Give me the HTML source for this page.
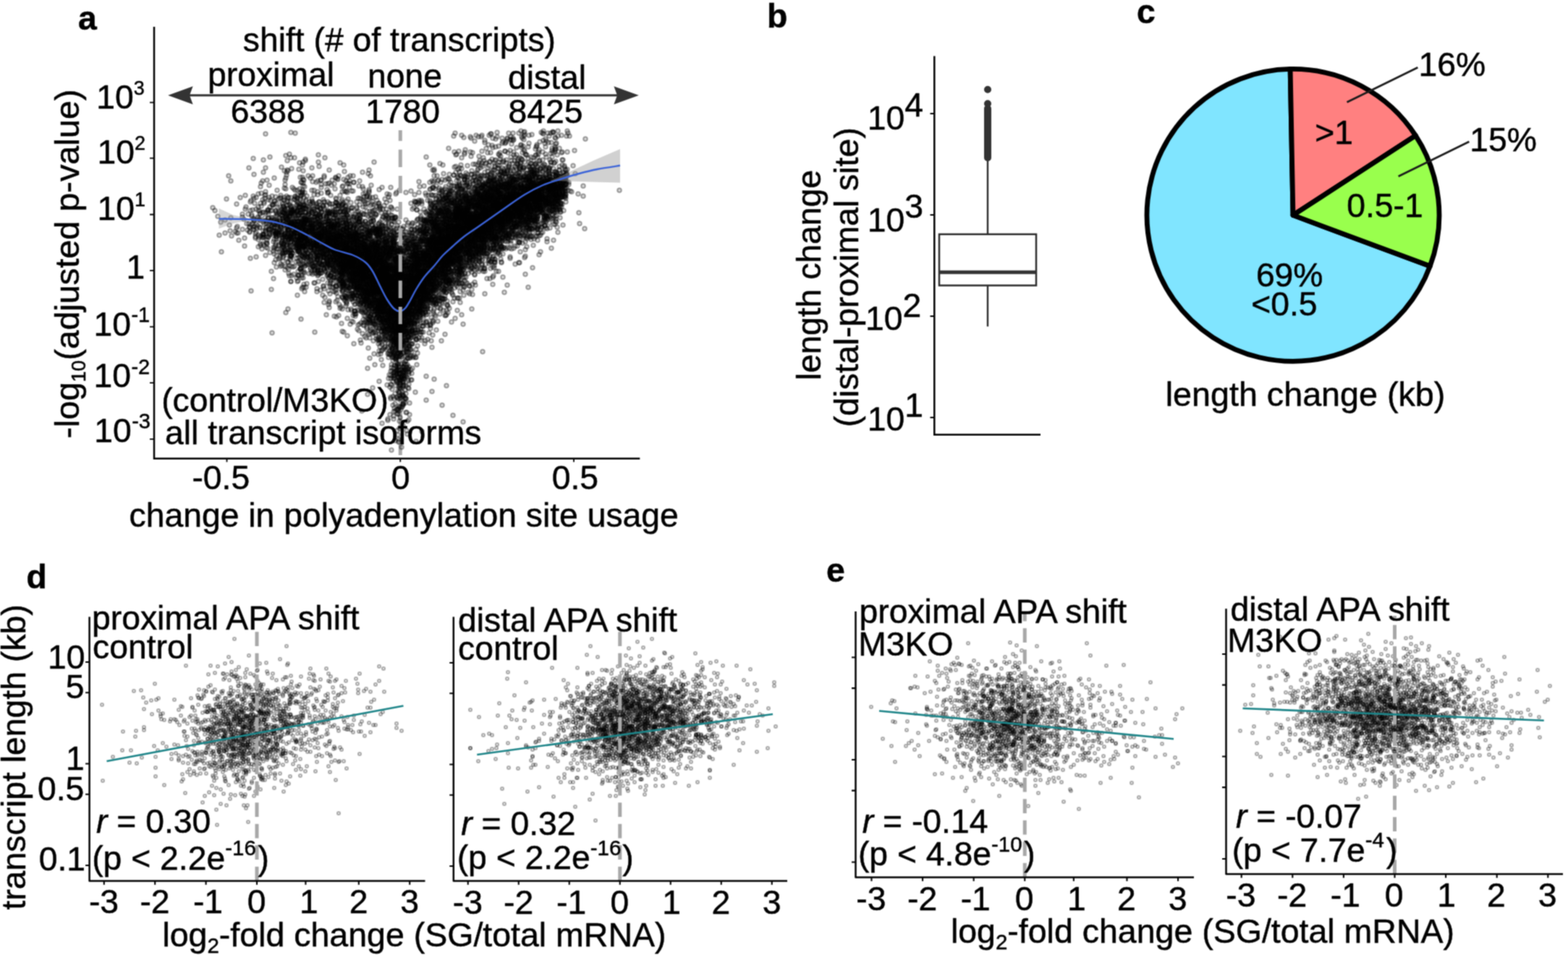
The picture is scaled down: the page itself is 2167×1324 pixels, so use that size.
<!DOCTYPE html>
<html lang="en"><head><meta charset="utf-8"><title>Figure</title>
<style>html,body{margin:0;padding:0;background:#fff}svg{display:block}text{font-family:"Liberation Sans",Arial,sans-serif;fill:#000;stroke:#000;stroke-width:.5px;stroke-linejoin:round}path{fill:none}</style>
</head><body>
<svg width="2167" height="1324" viewBox="0 0 2167 1324">
<rect width="2167" height="1324" fill="#fff"/>
<filter id="soft" x="0" y="0" width="2167" height="1324" filterUnits="userSpaceOnUse" color-interpolation-filters="sRGB"><feConvolveMatrix order="3" kernelMatrix="1 2 1 2 6 2 1 2 1" divisor="18" edgeMode="duplicate" preserveAlpha="false"/></filter>
<g filter="url(#soft)">
<defs>
<marker id="pa" markerUnits="userSpaceOnUse" markerWidth="10" markerHeight="10" refX="5" refY="5"><circle cx="5" cy="5" r="2.75" fill="#000" fill-opacity=".14" stroke="#000" stroke-opacity=".36" stroke-width="2"/></marker>
<marker id="pd" markerUnits="userSpaceOnUse" markerWidth="10" markerHeight="10" refX="5" refY="5"><circle cx="5" cy="5" r="2.1" fill="#000" fill-opacity=".1" stroke="#000" stroke-opacity=".3" stroke-width="1.9"/></marker>
</defs>
<path d="M294 287l3 4 4 8 2 26 2-18 1 41 5-44 0 18 2-47 3-32 1 68 1 8 1-69 0 51 1 25 5-6 2-38 0 33 0 7 1-9 1 9 1 10 2-59 3 23 0 4 0 17 2-14 1 26 0 11 1-70 0 19 1-3 1 23 1 9 1-22 1-64 0 77 1 5 0 0 0 6 0 1 1-42 0 12 0 66 1-80 0 34 0 91 1-105 0 2 1-9 0 19 1-90 0 52 0 31 0 12 0 3 1-76 0 33 0 29 0 2 0 0 0 12 1-36 0 32 1 10 0 4 0 2 1-56 0 16 0 21 0 11 0 34 1-40 1-15 0 12 1-44 0 18 0 5 0 10 0 24 0 6 0 10 1-37 0 24 1-36 0 3 0 7 0 12 0 1 1-57 0 23 0 14 0 10 0 21 0 11 0 2 1-86 0 14 0 18 1 59 1-94 0 26 0 18 0 30 0 3 0 2 0 8 1-116 0 17 0 55 0 14 0 12 0 5 0 0 0 1 0 3 1-49 0 2 0 29 0 17 0 12 1-69 0 4 0 27 0 4 1-120 0 47 0 33 0 4 0 25 0 23 0 2 0 1 0 33 1-48 0 4 0 5 0 21 0 7 1-93 0 78 0 5 0 4 0 1 1-47 0 1 0 2 0 50 1-67 0 14 0 6 0 5 0 1 0 9 0 6 0 10 0 1 1-72 0 17 0 36 0 8 0 0 0 2 0 3 0 3 1-108 0 69 0 19 0 19 0 25 1-72 0 14 0 15 0 5 0 6 1-16 0 3 0 71 0 25 1-129 0 12 0 8 0 13 0 8 0 1 0 147 1-177 0 1 0 17 0 21 1-14 0 2 0 5 0 4 0 1 0 5 0 9 0 8 0 5 0 38 1-139 0 32 0 4 0 22 0 10 0 5 0 12 0 13 0 7 0 12 1-85 0 32 0 5 0 26 1-69 0 19 0 1 0 7 0 5 0 3 0 13 0 2 0 1 0 1 0 1 0 10 0 3 0 21 1-78 0 13 0 12 0 1 0 3 0 11 0 6 0 0 0 3 0 14 0 9 0 16 1-106 0 33 0 2 0 7 0 1 0 8 0 6 0 2 0 2 1-37 0 22 0 2 0 11 0 22 1-69 0 18 0 30 0 2 0 15 0 18 1-63 0 11 0 6 0 5 0 2 0 2 0 9 0 8 0 10 1-74 0 12 0 15 0 3 0 51 0 2 1-87 0 3 0 19 0 5 0 11 0 3 0 2 0 1 0 1 0 3 0 31 0 16 0 3 1-137 0 90 0 0 0 4 0 3 0 7 0 1 0 0 1-56 0 9 0 4 0 5 0 0 0 4 0 22 0 9 0 9 0 1 0 7 0 17 1-85 0 4 0 8 0 8 0 3 0 3 0 20 0 1 0 8 0 3 0 9 0 2 0 4 0 6 1-85 0 9 0 6 0 2 0 12 0 1 0 20 0 10 0 2 0 4 0 0 0 11 1-117 0 24 0 13 0 4 0 10 0 2 0 6 0 0 0 16 0 0 0 13 0 0 0 20 0 6 1-101 0 6 0 34 0 10 0 16 0 2 0 6 0 4 0 0 0 3 0 2 0 3 0 10 0 1 0 3 0 19 0 5 1-158 0 31 0 15 0 30 0 5 0 5 0 1 0 6 0 14 0 11 0 15 0 84 1-194 0 4 0 29 0 13 0 11 0 2 0 2 0 4 0 11 0 14 0 10 0 11 0 8 1-135 0 13 0 43 0 6 0 4 0 14 0 2 0 5 0 2 0 11 0 3 0 3 0 7 0 3 0 2 0 30 1-134 0 37 0 6 0 15 0 2 0 5 0 1 0 7 0 5 0 3 0 0 0 1 0 1 0 4 0 4 0 20 0 15 0 1 0 64 1-154 0 21 0 10 0 3 0 0 0 11 0 2 0 5 0 6 0 0 0 18 0 23 0 6 1-165 0 70 0 16 0 0 0 12 0 6 0 11 0 11 0 2 0 5 0 21 0 14 1-102 0 16 0 4 0 2 0 7 0 1 0 2 0 1 0 15 0 0 0 2 0 1 0 5 0 10 0 1 0 3 0 5 0 4 1-175 0 35 0 55 0 12 0 1 0 2 0 2 0 1 0 2 0 1 0 14 0 3 0 0 0 2 0 13 0 3 0 2 0 3 0 5 0 2 0 6 0 5 0 1 0 0 0 1 0 6 0 29 0 0 1-156 0 61 0 1 0 11 0 1 0 1 0 14 0 1 0 2 0 5 0 3 0 13 0 7 0 2 0 13 0 13 1-122 0 26 0 5 0 1 0 1 0 1 0 5 0 10 0 1 0 10 0 4 0 5 0 22 0 0 1-58 0 3 0 10 0 5 0 2 0 1 0 4 0 1 0 6 0 45 1-108 0 36 0 9 0 7 0 1 0 0 0 6 0 4 0 0 0 55 1-161 0 57 0 1 0 12 0 2 0 6 0 7 0 3 0 1 0 2 0 2 0 10 0 1 0 0 0 5 0 4 0 4 0 0 0 2 0 4 0 5 0 22 1-184 0 79 0 8 0 1 0 18 0 9 0 9 0 2 0 4 0 7 0 10 1-54 0 25 0 9 0 4 0 2 0 5 0 8 0 2 0 1 0 5 0 1 0 2 0 2 0 19 1-89 0 10 0 9 0 1 0 9 0 8 0 1 0 4 0 3 0 4 0 6 0 9 0 7 0 13 0 27 1-121 0 7 0 4 0 5 0 5 0 7 0 0 0 1 0 2 0 12 0 4 0 0 0 5 0 7 0 4 0 1 0 1 0 3 0 5 0 3 0 1 0 3 0 9 0 37 0 19 1-127 0 16 0 1 0 4 0 4 0 1 0 10 0 1 0 15 0 6 0 5 0 3 0 0 0 0 0 14 0 14 0 5 0 1 0 7 1-154 0 51 0 1 0 9 0 14 0 3 0 5 0 4 0 11 0 1 0 2 0 3 0 3 0 4 0 1 0 10 0 8 0 17 1-156 0 36 0 21 0 4 0 1 0 10 0 8 0 2 0 7 0 0 0 6 0 8 0 1 0 1 0 3 0 5 0 3 0 0 0 5 0 2 0 1 1-104 0 21 0 8 0 2 0 10 0 8 0 8 0 10 0 10 0 1 0 2 0 0 0 5 0 1 0 1 0 0 0 5 0 3 0 12 0 6 0 7 0 6 0 1 0 0 1-120 0 18 0 1 0 12 0 7 0 1 0 3 0 13 0 2 0 5 0 1 0 10 0 2 0 1 0 4 0 0 0 5 0 2 0 3 0 17 0 7 0 5 0 70 1-189 0 15 0 31 0 7 0 2 0 0 0 7 0 1 0 7 0 3 0 5 0 1 0 0 0 8 0 4 0 10 0 17 0 5 0 6 0 3 0 15 1-171 0 17 0 18 0 2 0 1 0 3 0 11 0 7 0 3 0 3 0 5 0 6 0 8 0 3 0 1 0 10 0 3 0 3 0 5 0 2 0 1 0 1 0 2 0 7 0 3 0 1 0 11 0 32 1-173 0 12 0 12 0 5 0 4 0 25 0 1 0 6 0 8 0 8 0 2 0 2 0 1 0 1 0 3 0 5 0 4 0 4 0 1 0 8 0 4 0 0 0 0 0 1 0 1 0 9 0 8 0 18 0 7 1-135 0 24 0 11 0 4 0 14 0 10 0 2 0 2 0 5 0 2 0 1 0 16 0 10 0 6 0 9 0 10 0 18 0 4 1-139 0 8 0 17 0 5 0 10 0 3 0 2 0 1 0 2 0 1 0 1 0 1 0 0 0 4 0 7 0 7 0 1 0 0 0 1 0 4 0 0 0 0 0 1 0 2 0 4 0 1 0 11 0 4 0 12 0 9 0 26 1-183 0 2 0 66 0 6 0 8 0 1 0 1 0 1 0 2 0 9 0 2 0 0 0 1 0 7 0 1 0 3 0 9 0 6 0 0 0 6 0 16 1-91 0 2 0 7 0 3 0 6 0 10 0 0 0 0 0 11 0 3 0 0 0 6 0 5 0 1 0 7 0 1 0 1 0 3 0 3 0 2 0 7 0 3 0 1 0 6 0 33 1-126 0 39 0 10 0 1 0 11 0 0 0 6 0 7 0 21 0 26 1-107 0 12 0 6 0 1 0 5 0 0 0 17 0 6 0 1 0 4 0 12 0 2 0 4 0 1 1-113 0 51 0 3 0 7 0 7 0 10 0 6 0 8 0 1 0 0 0 1 0 14 0 4 0 10 1-79 0 6 0 3 0 1 0 18 0 4 0 2 0 0 0 1 0 2 0 8 0 31 0 16 1-99 0 10 0 12 0 2 0 1 0 1 0 5 0 3 0 7 0 5 0 8 0 0 0 1 1-88 0 36 0 26 0 4 0 3 0 0 0 4 0 15 0 7 0 0 0 1 0 4 0 7 0 0 0 2 0 0 0 3 0 2 0 3 0 7 0 2 1-69 0 2 0 8 0 2 0 1 0 17 0 3 0 4 0 2 0 0 0 1 0 18 0 5 0 11 1-145 0 31 0 12 0 3 0 3 0 7 0 3 0 2 0 1 0 5 0 9 0 1 0 2 0 7 0 1 0 2 0 6 0 12 0 9 0 12 0 14 1-131 0 8 0 28 0 27 0 6 0 1 0 2 0 1 0 2 0 3 0 4 0 7 0 7 0 7 0 4 0 15 0 3 0 0 0 11 1-98 0 8 0 6 0 14 0 1 0 12 0 3 0 7 0 4 0 0 0 0 0 3 0 10 0 19 1-105 0 6 0 20 0 3 0 8 0 19 0 0 0 2 0 3 0 0 0 2 0 7 0 6 0 3 0 1 0 2 0 2 0 12 0 9 0 9 0 14 1-91 0 0 0 4 0 6 0 4 0 2 0 10 0 0 0 13 0 8 0 6 0 4 0 5 0 5 0 4 0 2 0 1 0 17 0 68 1-163 0 7 0 6 0 6 0 1 0 2 0 5 0 7 0 2 0 5 0 0 0 2 0 16 0 8 1-111 0 31 0 2 0 10 0 1 0 3 0 7 0 2 0 7 0 9 0 0 0 3 0 0 0 3 0 1 0 5 0 3 0 1 0 9 0 6 0 9 0 6 0 8 1-97 0 9 0 12 0 11 0 19 0 2 0 1 0 0 0 4 0 0 0 1 0 1 0 7 0 1 0 2 0 1 0 3 0 4 0 0 0 40 0 4 1-153 0 15 0 4 0 17 0 0 0 12 0 4 0 4 0 2 0 17 0 1 0 3 0 2 0 11 0 2 0 9 0 4 0 1 0 8 0 6 0 2 0 1 0 6 1-167 0 10 0 67 0 7 0 11 0 5 0 5 0 3 0 1 0 0 0 7 0 2 0 6 0 3 0 4 0 4 0 4 0 1 0 1 0 2 0 7 0 6 0 3 0 4 0 3 0 9 1-159 0 49 0 0 0 18 0 8 0 2 0 10 0 1 0 5 0 1 0 1 0 6 0 0 0 0 0 11 0 2 0 20 0 14 1-91 0 9 0 3 0 11 0 0 0 1 0 5 0 1 0 4 0 2 0 2 0 4 0 0 0 4 0 2 0 12 0 13 0 3 0 1 0 9 1-124 0 39 0 1 0 10 0 1 0 1 0 5 0 5 0 3 0 2 0 6 0 3 0 2 0 5 0 4 0 1 0 0 0 6 0 1 0 5 0 8 0 8 0 9 0 3 0 1 0 23 1-152 0 6 0 4 0 8 0 26 0 1 0 14 0 8 0 9 0 1 0 6 0 11 0 1 0 5 0 5 0 12 0 4 1-77 0 11 0 6 0 2 0 1 0 2 0 8 0 1 0 3 0 0 0 3 0 19 0 1 0 16 0 1 0 10 1-93 0 1 0 22 0 13 0 2 0 5 0 4 0 2 0 1 0 4 0 1 0 3 0 0 0 0 0 1 0 4 0 3 0 1 0 1 0 2 0 6 0 6 0 20 0 22 1-132 0 8 0 3 0 11 0 2 0 22 0 3 0 5 0 21 0 2 0 2 0 1 0 3 0 2 0 4 0 30 0 1 1-153 0 2 0 34 0 0 0 28 0 9 0 0 0 1 0 1 0 3 0 4 0 0 0 2 0 2 0 9 0 6 0 1 0 5 0 6 0 0 0 15 0 1 0 1 0 26 0 19 1-200 0 72 0 21 0 6 0 1 0 1 0 0 0 1 0 0 0 3 0 3 0 1 0 0 0 7 0 1 0 4 0 2 0 2 0 1 0 21 0 10 0 36 1-157 0 53 0 4 0 22 0 4 0 0 0 9 0 6 0 14 0 9 1-82 0 6 0 0 0 1 0 2 0 4 0 11 0 21 0 2 0 0 0 1 0 5 0 5 0 1 0 6 0 10 0 2 0 65 1-173 0 22 0 12 0 15 0 11 0 7 0 1 0 3 0 3 0 0 0 2 0 2 0 5 0 4 0 2 0 5 0 1 0 2 0 3 0 2 0 4 0 3 0 10 1-127 0 12 0 1 0 12 0 12 0 1 0 2 0 5 0 6 0 1 0 3 0 1 0 4 0 0 0 9 0 2 0 1 0 2 0 1 0 1 0 1 0 0 0 1 0 2 0 1 0 0 0 4 0 6 0 5 0 1 0 9 0 0 0 2 0 2 0 0 0 1 0 13 0 2 0 11 1-126 0 29 0 4 0 8 0 8 0 3 0 3 0 1 0 2 0 7 0 2 0 1 0 4 0 7 0 4 0 6 0 2 0 5 0 5 0 12 0 6 0 18 0 19 1-186 0 18 0 28 0 14 0 0 0 10 0 1 0 0 0 4 0 3 0 8 0 2 0 1 0 4 0 0 0 4 0 0 0 1 0 4 0 1 0 7 0 10 0 29 0 32 0 2 0 7 1-143 0 10 0 1 0 6 0 14 0 4 0 4 0 0 0 4 0 4 0 1 0 1 0 2 0 1 0 6 0 3 0 1 0 2 0 1 0 8 0 0 0 5 0 4 0 2 0 1 0 3 0 11 0 11 0 4 0 10 1-136 0 35 0 7 0 4 0 2 0 8 0 6 0 2 0 3 0 0 0 4 0 0 0 0 0 4 0 1 0 2 0 9 0 2 0 0 0 4 0 3 0 6 0 9 0 0 0 6 0 3 1-134 0 38 0 11 0 4 0 2 0 3 0 0 0 0 0 7 0 0 0 7 0 1 0 7 0 5 0 9 0 6 0 14 0 7 0 2 0 18 1-148 0 33 0 14 0 12 0 3 0 1 0 2 0 10 0 4 0 1 0 6 0 5 0 3 0 2 0 8 0 13 0 1 0 10 1-91 0 6 0 1 0 3 0 16 0 1 0 1 0 6 0 8 0 2 0 6 0 1 0 2 0 4 0 1 0 1 0 1 0 0 0 0 0 5 0 2 0 1 0 2 0 3 0 2 0 11 0 1 0 13 0 6 0 5 1-96 0 1 0 4 0 5 0 2 0 2 0 0 0 8 0 1 0 1 0 3 0 4 0 1 0 1 0 2 0 4 0 2 0 1 0 1 0 2 0 1 0 9 0 3 0 1 0 8 0 2 0 5 0 8 0 1 0 19 1-149 0 56 0 1 0 1 0 1 0 2 0 4 0 6 0 3 0 0 0 3 0 7 0 3 0 2 0 2 0 2 0 0 0 1 0 1 0 2 0 0 0 8 0 0 0 0 0 2 0 13 0 9 0 1 0 53 1-176 0 24 0 5 0 3 0 0 0 3 0 2 0 4 0 7 0 12 0 3 0 2 0 5 0 1 0 7 0 1 0 1 0 1 0 4 0 1 0 0 0 1 0 3 0 1 0 0 0 13 0 1 0 2 0 5 0 30 1-158 0 1 0 28 0 6 0 0 0 15 0 2 0 21 0 2 0 2 0 6 0 2 0 0 0 2 0 1 0 0 0 1 0 0 0 0 0 9 0 2 0 3 0 5 0 3 0 4 0 3 0 0 0 5 0 7 0 8 0 12 0 1 0 5 0 16 1-142 0 5 0 9 0 14 0 2 0 7 0 4 0 2 0 6 0 2 0 3 0 2 0 0 0 3 0 4 0 4 0 3 0 1 0 1 0 2 0 3 0 5 0 5 0 1 0 7 0 5 0 1 0 19 0 1 0 9 0 33 1-191 0 34 0 16 0 8 0 4 0 2 0 9 0 6 0 2 0 9 0 0 0 2 0 1 0 0 0 0 0 1 0 2 0 13 0 2 0 3 0 0 0 9 0 7 0 1 0 5 0 6 0 26 1-167 0 34 0 2 0 4 0 17 0 4 0 1 0 1 0 1 0 6 0 1 0 7 0 1 0 5 0 3 0 1 0 5 0 4 0 2 0 4 0 2 0 1 0 1 0 8 0 47 1-167 0 41 0 27 0 0 0 15 0 0 0 5 0 3 0 6 0 6 0 11 0 3 0 3 0 7 0 6 0 9 0 2 0 3 0 46 1-151 0 14 0 6 0 20 0 0 0 1 0 5 0 6 0 1 0 1 0 14 0 0 0 2 0 4 0 6 0 1 0 2 0 1 0 7 0 5 0 12 0 28 1-196 0 45 0 22 0 1 0 0 0 10 0 7 0 6 0 3 0 1 0 0 0 3 0 2 0 0 0 1 0 2 0 1 0 10 0 8 0 0 0 0 0 2 0 2 0 3 0 3 0 2 0 7 0 4 0 4 0 11 0 1 0 1 0 1 0 11 0 27 1-134 0 9 0 3 0 9 0 3 0 6 0 6 0 3 0 2 0 0 0 6 0 3 0 1 0 1 0 3 0 2 0 0 0 0 0 3 0 1 0 7 0 1 0 2 0 1 0 1 0 1 0 0 0 0 0 1 0 2 0 1 0 0 0 7 0 0 0 2 0 12 0 5 0 28 1-146 0 7 0 5 0 7 0 16 0 9 0 4 0 0 0 1 0 0 0 5 0 2 0 4 0 2 0 4 0 4 0 3 0 4 0 1 0 1 0 7 0 1 0 10 0 1 0 0 0 2 0 1 0 3 0 1 0 1 0 12 0 51 1-189 0 7 0 11 0 7 0 0 0 21 0 13 0 6 0 13 0 5 0 6 0 4 0 2 0 4 0 0 0 5 0 0 0 2 0 6 0 5 0 2 0 3 0 8 0 2 0 0 0 2 0 9 0 2 0 7 0 1 0 16 0 31 1-201 0 23 0 2 0 6 0 20 0 0 0 3 0 6 0 1 0 10 0 0 0 1 0 2 0 3 0 1 0 0 0 1 0 1 0 0 0 1 0 1 0 3 0 2 0 1 0 5 0 0 0 1 0 1 0 4 0 2 0 5 0 6 0 1 0 0 0 2 0 0 0 5 0 1 0 3 0 3 0 6 0 3 0 2 0 0 0 0 0 2 0 4 0 2 0 9 1-184 0 20 0 44 0 5 0 20 0 1 0 7 0 4 0 4 0 0 0 11 0 6 0 3 0 2 0 1 0 1 0 0 0 1 0 4 0 0 0 3 0 1 0 1 0 2 0 4 0 13 0 2 0 5 0 0 0 66 1-222 0 27 0 28 0 5 0 4 0 3 0 7 0 8 0 1 0 3 0 16 0 3 0 1 0 2 0 1 0 5 0 3 0 1 0 3 0 5 0 1 0 1 0 1 0 2 0 2 0 0 0 3 0 1 0 4 0 0 0 7 0 5 0 2 0 3 0 13 0 6 1-129 0 5 0 17 0 3 0 15 0 0 0 0 0 5 0 6 0 1 0 1 0 6 0 1 0 2 0 2 0 0 0 0 0 4 0 2 0 2 0 7 0 5 0 1 0 2 0 0 0 15 0 22 0 7 1-166 0 15 0 20 0 5 0 4 0 2 0 4 0 3 0 1 0 5 0 7 0 1 0 2 0 5 0 15 0 1 0 1 0 1 0 2 0 0 0 3 0 2 0 1 0 3 0 2 0 5 0 0 0 5 0 2 0 5 0 1 0 6 0 1 0 9 0 6 0 14 0 2 0 0 0 12 1-159 0 14 0 6 0 8 0 5 0 10 0 2 0 1 0 4 0 0 0 1 0 1 0 2 0 2 0 7 0 0 0 5 0 2 0 2 0 0 0 0 0 0 0 5 0 2 0 0 0 1 0 1 0 4 0 1 0 0 0 0 0 2 0 0 0 1 0 3 0 1 0 0 0 5 0 4 0 2 0 4 0 0 0 3 0 4 0 13 0 4 0 2 0 3 0 8 0 3 0 5 0 1 0 2 1-166 0 12 0 31 0 1 0 13 0 4 0 7 0 2 0 4 0 2 0 2 0 2 0 1 0 4 0 3 0 0 0 1 0 0 0 4 0 1 0 3 0 10 0 4 0 1 0 5 0 24 0 6 0 10 0 29 0 24 1-219 0 8 0 22 0 15 0 1 0 37 0 14 0 0 0 1 0 8 0 5 0 1 0 1 0 3 0 2 0 3 0 1 0 0 0 2 0 7 0 1 0 2 0 2 0 4 0 2 0 9 0 3 0 3 0 26 1-127 0 4 0 0 0 12 0 8 0 4 0 5 0 3 0 7 0 9 0 3 0 0 0 3 0 0 0 2 0 2 0 1 0 1 0 2 0 1 0 1 0 0 0 0 0 0 1-119 0 4 0 5 0 49 0 11 0 0 0 3 0 1 0 1 0 0 0 3 0 0 0 0 0 1 0 4 0 4 0 0 0 2 0 5 0 1 0 1 0 16 0 0 0 3 0 0 0 3 0 0 0 6 0 1 0 1 0 2 0 2 0 2 0 2 0 1 0 2 0 1 0 0 0 2 0 9 0 0 0 8 1-163 0 63 0 4 0 3 0 0 0 1 0 3 0 6 0 2 0 2 0 7 0 4 0 2 0 2 0 1 0 2 0 2 0 6 0 0 0 1 0 5 0 0 0 1 0 1 0 3 0 11 0 7 0 5 0 26 0 35 1-168 0 8 0 11 0 11 0 7 0 2 0 7 0 1 0 0 0 4 0 4 0 8 0 1 0 3 0 4 0 2 0 1 0 1 0 0 0 1 0 1 0 2 0 1 0 1 0 0 0 2 0 0 0 2 0 1 0 2 0 0 0 1 0 1 0 4 0 3 0 2 0 6 0 4 0 4 0 0 0 2 0 2 0 9 0 1 0 3 0 17 1-163 0 23 0 5 0 30 0 4 0 6 0 0 0 13 0 12 0 2 0 7 0 3 0 1 0 2 0 3 0 2 0 7 0 4 0 3 0 5 0 9 0 7 0 2 0 15 0 15 1-157 0 13 0 8 0 23 0 0 0 4 0 5 0 5 0 1 0 2 0 0 0 1 0 3 0 1 0 4 0 3 0 1 0 2 0 4 0 0 0 3 0 7 0 1 0 2 0 7 0 1 0 12 0 5 0 4 0 4 1-170 0 21 0 52 0 0 0 10 0 2 0 1 0 5 0 1 0 3 0 2 0 5 0 1 0 1 0 0 0 1 0 5 0 7 0 1 0 1 0 2 0 4 0 1 0 2 0 5 0 2 0 2 0 2 0 0 0 1 0 3 0 4 0 16 0 1 0 3 0 7 0 19 0 9 1-193 0 0 0 47 0 1 0 2 0 9 0 3 0 1 0 8 0 3 0 3 0 1 0 1 0 1 0 4 0 1 0 1 0 1 0 7 0 3 0 1 0 1 0 7 0 3 0 2 0 3 0 3 0 4 0 1 0 8 0 1 0 5 0 1 0 0 0 2 0 1 0 2 0 2 0 1 0 12 0 66 1-166 0 3 0 9 0 0 0 2 0 2 0 2 0 9 0 2 0 4 0 1 0 6 0 0 0 1 0 1 0 2 0 0 0 4 0 1 0 6 0 3 0 1 0 1 0 5 0 1 0 6 0 7 0 9 0 15 0 9 0 9 0 0 0 4 1-138 0 9 0 5 0 12 0 1 0 0 0 6 0 2 0 2 0 0 0 9 0 1 0 6 0 3 0 0 0 1 0 1 0 0 0 6 0 3 0 2 0 3 0 1 0 3 0 3 0 1 0 1 0 1 0 0 0 1 0 1 0 3 0 1 0 1 0 4 0 0 0 5 0 5 0 5 0 1 0 1 0 6 0 8 0 10 0 4 0 3 1-121 0 6 0 1 0 4 0 1 0 0 0 3 0 9 0 7 0 1 0 2 0 3 0 1 0 2 0 1 0 3 0 1 0 2 0 3 0 0 0 1 0 3 0 2 0 0 0 3 0 2 0 2 0 2 0 4 0 2 0 2 0 3 0 5 0 2 0 9 0 26 1-155 0 7 0 2 0 5 0 8 0 2 0 7 0 6 0 1 0 5 0 1 0 2 0 0 0 0 0 6 0 2 0 1 0 2 0 2 0 8 0 1 0 1 0 1 0 1 0 1 0 9 0 2 0 1 0 15 0 2 0 0 0 15 0 1 0 2 0 0 0 3 0 7 1-104 0 4 0 6 0 16 0 3 0 0 0 5 0 2 0 1 0 1 0 0 0 1 0 0 0 4 0 5 0 5 0 2 0 3 0 2 0 6 0 3 0 5 0 4 0 1 0 1 0 7 0 0 0 1 0 2 0 3 0 2 0 0 0 1 0 9 0 8 0 11 0 27 1-181 0 18 0 6 0 21 0 6 0 9 0 0 0 6 0 3 0 2 0 3 0 2 0 1 0 1 0 3 0 2 0 3 0 9 0 1 0 0 0 2 0 4 0 1 0 0 0 7 0 3 0 4 0 6 0 0 0 8 0 3 0 6 0 0 0 6 0 29 1-192 0 39 0 7 0 3 0 0 0 1 0 14 0 5 0 4 0 3 0 6 0 2 0 13 0 1 0 2 0 9 0 6 0 1 0 2 0 6 0 6 0 10 0 8 0 11 0 13 0 28 1-207 0 24 0 9 0 15 0 4 0 1 0 3 0 5 0 6 0 9 0 3 0 14 0 6 0 0 0 2 0 2 0 5 0 1 0 6 0 1 0 3 0 0 0 1 0 2 0 1 0 1 0 0 0 1 0 4 0 0 0 1 0 3 0 1 0 6 0 0 0 2 0 0 0 4 0 3 0 1 0 1 0 20 0 27 1-151 0 3 0 26 0 0 0 5 0 1 0 8 0 0 0 2 0 6 0 2 0 1 0 0 0 3 0 6 0 6 0 0 0 0 0 2 0 2 0 8 0 1 0 1 0 6 0 2 0 0 0 1 0 2 0 3 0 2 0 6 0 1 0 2 0 4 0 1 0 0 0 5 0 5 0 2 0 48 1-195 0 36 0 9 0 4 0 6 0 1 0 0 0 4 0 0 0 4 0 0 0 5 0 1 0 3 0 1 0 3 0 1 0 7 0 2 0 1 0 2 0 1 0 2 0 1 0 1 0 1 0 1 0 2 0 1 0 1 0 1 0 1 0 0 0 4 0 3 0 0 0 1 0 11 0 0 0 21 0 12 0 16 0 28 1-180 0 11 0 7 0 3 0 0 0 8 0 2 0 21 0 13 0 2 0 5 0 2 0 0 0 1 0 0 0 4 0 2 0 1 0 4 0 1 0 3 0 4 0 4 0 2 0 2 0 2 0 5 0 3 0 2 0 7 0 8 0 5 0 3 1-193 0 20 0 52 0 10 0 4 0 11 0 2 0 1 0 0 0 4 0 4 0 1 0 5 0 2 0 0 0 13 0 2 0 1 0 4 0 1 0 2 0 5 0 3 0 0 0 10 0 0 0 5 0 1 0 7 0 0 0 7 0 3 0 43 1-200 0 7 0 8 0 2 0 8 0 10 0 12 0 2 0 18 0 8 0 0 0 2 0 7 0 3 0 4 0 4 0 6 0 2 0 2 0 0 0 8 0 2 0 2 0 1 0 0 0 2 0 2 0 0 0 0 0 2 0 0 0 0 0 1 0 2 0 5 0 9 0 0 0 8 0 0 0 0 0 6 0 6 0 7 0 3 0 10 0 7 1-177 0 24 0 24 0 7 0 9 0 5 0 1 0 1 0 12 0 1 0 5 0 1 0 5 0 1 0 3 0 1 0 1 0 1 0 3 0 3 0 1 0 1 0 3 0 1 0 0 0 2 0 4 0 5 0 0 0 3 0 2 0 7 0 5 0 6 0 1 0 15 0 10 0 4 1-171 0 38 0 7 0 4 0 0 0 1 0 4 0 0 0 5 0 0 0 2 0 3 0 1 0 2 0 2 0 1 0 1 0 1 0 1 0 3 0 3 0 4 0 0 0 3 0 6 0 3 0 1 0 1 0 2 0 2 0 1 0 1 0 2 0 0 0 1 0 7 0 6 0 3 0 2 0 1 0 3 0 7 0 2 0 0 0 1 0 12 0 36 1-198 0 15 0 4 0 20 0 0 0 11 0 10 0 3 0 4 0 6 0 2 0 2 0 2 0 4 0 1 0 0 0 2 0 5 0 1 0 2 0 0 0 1 0 0 0 4 0 2 0 2 0 1 0 1 0 1 0 0 0 3 0 1 0 2 0 5 0 3 0 1 0 4 0 8 0 2 0 2 0 2 0 2 0 5 0 1 0 3 0 14 0 6 0 6 1-146 0 16 0 20 0 8 0 1 0 4 0 2 0 8 0 4 0 6 0 2 0 1 0 1 0 0 0 4 0 2 0 1 0 2 0 4 0 1 0 3 0 2 0 3 0 0 0 1 0 3 0 3 0 3 0 3 0 8 0 2 0 1 0 8 0 7 0 14 0 22 1-196 0 1 0 20 0 22 0 2 0 3 0 3 0 4 0 7 0 1 0 7 0 11 0 1 0 1 0 2 0 0 0 3 0 4 0 2 0 1 0 9 0 3 0 1 0 1 0 1 0 9 0 3 0 1 0 7 0 3 0 2 0 3 0 1 0 0 0 2 0 2 0 0 0 3 0 3 0 2 0 1 0 1 0 28 0 2 1-185 0 12 0 28 0 4 0 8 0 7 0 11 0 1 0 2 0 1 0 4 0 0 0 2 0 2 0 2 0 2 0 1 0 3 0 3 0 3 0 0 0 2 0 2 0 2 0 1 0 9 0 1 0 11 0 1 0 1 0 3 0 3 0 3 0 1 0 1 0 6 0 6 0 8 0 8 0 6 0 6 0 14 0 49 1-269 0 36 0 23 0 12 0 11 0 1 0 2 0 6 0 5 0 8 0 2 0 2 0 0 0 1 0 6 0 1 0 2 0 2 0 1 0 4 0 2 0 2 0 2 0 1 0 1 0 0 0 12 0 8 0 7 0 3 0 1 0 1 0 5 0 2 0 2 0 11 0 7 0 9 0 4 0 2 0 34 1-246 0 27 0 2 0 2 0 42 0 11 0 1 0 0 0 4 0 2 0 4 0 9 0 1 0 5 0 2 0 1 0 0 0 1 0 4 0 1 0 2 0 1 0 1 0 1 0 2 0 2 0 0 0 1 0 1 0 1 0 1 0 0 0 0 0 5 0 2 0 3 0 4 0 1 0 0 0 0 0 3 0 0 0 3 0 1 0 1 0 1 0 6 0 1 0 2 0 0 0 4 0 2 0 0 0 4 0 6 0 0 0 1 0 1 0 5 0 4 0 6 0 4 0 4 0 21 1-190 0 2 0 18 0 26 0 6 0 1 0 5 0 13 0 0 0 1 0 4 0 1 0 0 0 1 0 7 0 11 0 1 0 1 0 2 0 0 0 5 0 0 0 1 0 0 0 5 0 3 0 5 0 1 0 1 0 8 0 0 0 0 0 3 0 3 0 11 0 3 0 2 0 15 0 4 0 2 0 3 0 20 0 28 1-252 0 41 0 12 0 6 0 17 0 2 0 0 0 6 0 3 0 8 0 3 0 11 0 1 0 1 0 3 0 0 0 1 0 1 0 2 0 1 0 2 0 1 0 0 0 2 0 0 0 7 0 8 0 1 0 2 0 2 0 5 0 1 0 8 0 2 0 4 0 0 0 3 0 0 0 1 0 7 0 1 0 1 0 3 0 7 0 7 0 2 0 7 0 8 0 3 1-201 0 42 0 8 0 0 0 14 0 2 0 10 0 4 0 2 0 4 0 2 0 1 0 3 0 6 0 5 0 1 0 4 0 3 0 1 0 2 0 2 0 5 0 2 0 5 0 1 0 2 0 8 0 9 0 2 0 1 0 0 0 15 0 5 0 7 0 1 1-153 0 11 0 18 0 7 0 11 0 6 0 2 0 1 0 7 0 9 0 2 0 3 0 6 0 0 0 1 0 1 0 4 0 3 0 2 0 7 0 3 0 1 0 3 0 6 0 2 0 0 0 0 0 1 0 1 0 2 0 3 0 2 0 10 0 1 0 2 0 1 0 7 0 12 0 15 0 6 1-188 0 6 0 12 0 10 0 11 0 3 0 3 0 3 0 13 0 1 0 2 0 5 0 2 0 4 0 1 0 1 0 1 0 0 0 4 0 1 0 1 0 0 0 2 0 0 0 9 0 1 0 2 0 1 0 1 0 0 0 1 0 4 0 0 0 1 0 2 0 5 0 2 0 2 0 1 0 0 0 1 0 0 0 6 0 1 0 0 0 1 0 6 0 4 0 6 0 3 0 1 0 6 0 1 0 3 0 11 0 3 0 3 0 89 1-232 0 1 0 1 0 10 0 11 0 12 0 2 0 1 0 14 0 13 0 2 0 3 0 2 0 1 0 4 0 1 0 2 0 1 0 4 0 0 0 3 0 1 0 1 0 1 0 2 0 1 0 3 0 1 0 2 0 2 0 8 0 0 0 6 0 16 0 7 0 2 0 3 0 11 0 1 0 11 1-247 0 59 0 8 0 24 0 7 0 12 0 3 0 13 0 2 0 1 0 11 0 1 0 1 0 1 0 1 0 2 0 7 0 1 0 1 0 0 0 4 0 0 0 3 0 2 0 8 0 5 0 1 0 1 0 2 0 0 0 3 0 0 0 1 0 3 0 2 0 3 0 9 0 9 0 12 0 42 1-199 0 9 0 17 0 3 0 14 0 4 0 1 0 1 0 1 0 2 0 1 0 1 0 4 0 2 0 1 0 12 0 1 0 2 0 1 0 0 0 3 0 1 0 6 0 1 0 0 0 0 0 0 0 1 0 4 0 3 0 0 0 2 0 1 0 0 0 1 0 5 0 1 0 1 0 1 0 0 0 1 0 1 0 2 0 0 0 7 0 5 0 0 0 1 0 8 0 0 0 1 0 6 0 5 0 13 0 1 0 9 0 46 1-232 0 24 0 16 0 2 0 6 0 2 0 12 0 2 0 0 0 7 0 1 0 2 0 2 0 4 0 5 0 1 0 0 0 0 0 0 0 1 0 1 0 4 0 0 0 0 0 9 0 1 0 6 0 1 0 2 0 1 0 0 0 1 0 0 0 1 0 1 0 2 0 0 0 8 0 0 0 5 0 4 0 5 0 4 0 0 0 6 0 6 0 1 0 2 0 0 0 13 0 7 0 10 1-175 0 11 0 1 0 20 0 1 0 2 0 2 0 1 0 0 0 8 0 8 0 1 0 1 0 1 0 1 0 2 0 3 0 1 0 2 0 0 0 4 0 1 0 2 0 3 0 2 0 1 0 1 0 1 0 2 0 3 0 4 0 3 0 6 0 1 0 2 0 0 0 4 0 1 0 3 0 3 0 3 0 1 0 1 0 1 0 7 0 3 0 10 0 2 0 8 0 6 0 0 0 12 0 12 0 4 1-191 0 41 0 2 0 6 0 0 0 20 0 5 0 3 0 4 0 1 0 1 0 4 0 0 0 11 0 2 0 1 0 1 0 6 0 4 0 9 0 0 0 3 0 1 0 0 0 2 0 0 0 3 0 5 0 6 0 0 0 1 0 1 0 4 0 3 0 0 0 4 0 1 0 6 0 15 1-137 0 0 0 1 0 2 0 5 0 1 0 5 0 5 0 3 0 1 0 1 0 3 0 1 0 3 0 2 0 1 0 1 0 2 0 0 0 9 0 1 0 3 0 0 0 4 0 6 0 4 0 0 0 1 0 0 0 5 0 4 0 0 0 10 0 4 0 2 0 10 0 9 0 4 0 2 0 3 0 1 0 3 0 1 0 5 0 26 1-189 0 28 0 12 0 4 0 2 0 1 0 1 0 6 0 0 0 1 0 3 0 7 0 3 0 0 0 7 0 4 0 1 0 2 0 7 0 1 0 3 0 0 0 6 0 1 0 2 0 3 0 5 0 0 0 0 0 1 0 7 0 5 0 2 0 8 0 4 0 2 0 0 0 1 0 0 0 0 0 2 0 1 0 1 0 5 0 7 0 0 0 9 0 11 0 10 0 2 0 6 0 15 1-228 0 19 0 3 0 4 0 21 0 6 0 2 0 0 0 3 0 3 0 8 0 5 0 7 0 13 0 1 0 1 0 2 0 4 0 3 0 1 0 6 0 7 0 0 0 0 0 0 0 1 0 0 0 2 0 2 0 1 0 7 0 4 0 2 0 3 0 0 0 1 0 1 0 7 0 3 0 0 0 1 0 6 0 3 0 2 0 1 0 4 0 9 0 5 0 8 0 0 0 8 0 8 0 15 1-199 0 4 0 17 0 10 0 3 0 5 0 8 0 6 0 2 0 5 0 1 0 2 0 7 0 2 0 5 0 5 0 6 0 0 0 1 0 0 0 10 0 2 0 2 0 1 0 2 0 3 0 1 0 5 0 2 0 3 0 3 0 7 0 3 0 2 0 0 0 5 0 1 0 1 0 2 0 1 0 3 0 5 0 0 0 1 0 1 0 6 0 22 0 4 0 6 1-191 0 30 0 6 0 0 0 16 0 0 0 2 0 4 0 0 0 5 0 0 0 2 0 2 0 1 0 1 0 4 0 0 0 1 0 0 0 10 0 0 0 1 0 5 0 5 0 0 0 7 0 1 0 5 0 0 0 1 0 0 0 2 0 3 0 1 0 0 0 2 0 2 0 5 0 2 0 1 0 2 0 0 0 2 0 3 0 2 0 0 0 1 0 2 0 4 0 3 0 12 0 23 0 20 1-195 0 16 0 2 0 2 0 4 0 25 0 10 0 2 0 5 0 3 0 1 0 3 0 2 0 1 0 1 0 1 0 2 0 2 0 3 0 2 0 0 0 0 0 3 0 0 0 0 0 0 0 2 0 2 0 0 0 7 0 3 0 1 0 4 0 9 0 3 0 2 0 4 0 2 0 2 0 5 0 7 0 10 0 2 0 7 0 2 0 5 0 22 0 12 1-238 0 44 0 24 0 0 0 5 0 1 0 15 0 7 0 4 0 2 0 4 0 4 0 1 0 1 0 0 0 0 0 1 0 1 0 0 0 2 0 3 0 1 0 7 0 1 0 1 0 0 0 1 0 0 0 1 0 3 0 0 0 1 0 1 0 5 0 0 0 0 0 3 0 2 0 4 0 1 0 0 0 0 0 7 0 2 0 7 0 2 0 3 0 0 0 4 0 0 0 2 0 3 0 2 0 3 0 6 0 2 0 10 0 10 0 3 0 8 1-195 0 11 0 12 0 0 0 4 0 3 0 2 0 2 0 2 0 8 0 2 0 8 0 0 0 5 0 3 0 1 0 0 0 6 0 1 0 4 0 2 0 1 0 1 0 3 0 2 0 0 0 1 0 1 0 1 0 3 0 1 0 1 0 3 0 0 0 0 0 4 0 4 0 3 0 2 0 5 0 0 0 2 0 5 0 3 0 1 0 2 0 0 0 5 0 2 0 2 0 7 0 1 0 0 0 9 0 0 0 1 0 3 0 9 0 52 1-205 0 20 0 2 0 4 0 5 0 12 0 1 0 1 0 0 0 5 0 2 0 6 0 3 0 2 0 3 0 1 0 2 0 1 0 0 0 2 0 1 0 2 0 4 0 0 0 1 0 1 0 1 0 1 0 1 0 7 0 2 0 4 0 4 0 2 0 0 0 1 0 4 0 0 0 12 0 4 0 6 0 0 0 1 0 6 0 5 0 2 0 1 0 1 0 7 0 1 0 2 0 14 0 12 1-198 0 50 0 1 0 5 0 21 0 4 0 3 0 0 0 2 0 1 0 2 0 1 0 4 0 0 0 0 0 3 0 3 0 0 0 1 0 2 0 7 0 2 0 2 0 4 0 0 0 3 0 0 0 3 0 2 0 3 0 2 0 3 0 4 0 1 0 0 0 1 0 0 0 3 0 3 0 1 0 1 0 3 0 5 0 3 0 3 0 5 0 6 0 1 0 3 0 1 1-187 0 22 0 38 0 1 0 5 0 1 0 0 0 8 0 0 0 0 0 3 0 2 0 2 0 2 0 3 0 1 0 9 0 5 0 0 0 11 0 1 0 0 0 2 0 3 0 6 0 1 0 1 0 3 0 1 0 5 0 1 0 1 0 1 0 1 0 0 0 1 0 2 0 0 0 4 0 1 0 1 0 6 0 4 0 0 0 5 0 8 0 8 0 2 0 8 0 3 0 1 0 10 0 1 1-186 0 8 0 7 0 4 0 3 0 10 0 3 0 2 0 0 0 2 0 1 0 4 0 2 0 0 0 2 0 5 0 0 0 2 0 3 0 6 0 6 0 1 0 0 0 5 0 1 0 1 0 3 0 6 0 1 0 3 0 0 0 4 0 1 0 2 0 0 0 2 0 6 0 5 0 0 0 3 0 1 0 4 0 3 0 0 0 1 0 4 0 1 0 0 0 2 0 3 0 3 0 16 0 5 0 8 0 0 0 9 1-188 0 9 0 8 0 2 0 17 0 6 0 12 0 1 0 7 0 6 0 0 0 2 0 3 0 12 0 2 0 1 0 2 0 1 0 2 0 2 0 0 0 2 0 2 0 0 0 2 0 3 0 4 0 1 0 1 0 4 0 0 0 1 0 7 0 2 0 7 0 0 0 2 0 3 0 2 0 6 0 2 0 6 0 1 0 6 0 1 0 3 0 6 0 1 0 5 0 7 0 2 0 6 0 13 1-215 0 35 0 13 0 8 0 1 0 4 0 4 0 5 0 5 0 5 0 11 0 0 0 1 0 20 0 6 0 1 0 7 0 0 0 2 0 0 0 1 0 0 0 1 0 0 0 3 0 7 0 0 0 2 0 1 0 2 0 5 0 0 0 1 0 6 0 9 0 6 0 2 0 1 0 8 0 0 0 4 1-154 0 26 0 12 0 3 0 6 0 7 0 1 0 1 0 5 0 3 0 2 0 3 0 4 0 1 0 3 0 0 0 2 0 0 0 0 0 2 0 1 0 1 0 3 0 6 0 1 0 0 0 3 0 1 0 1 0 6 0 2 0 2 0 0 0 2 0 1 0 1 0 0 0 5 0 0 0 1 0 1 0 3 0 2 0 0 0 1 0 3 0 1 0 5 0 1 0 4 0 2 0 0 0 1 0 1 0 1 0 2 0 6 0 2 0 19 0 7 0 8 1-217 0 22 0 7 0 2 0 5 0 2 0 8 0 0 0 24 0 2 0 4 0 3 0 3 0 1 0 7 0 6 0 2 0 1 0 4 0 5 0 3 0 0 0 5 0 0 0 7 0 1 0 0 0 4 0 1 0 1 0 5 0 1 0 2 0 5 0 1 0 0 0 14 0 2 0 1 0 0 0 3 0 2 0 4 0 3 0 9 0 3 0 4 0 6 0 8 0 13 0 6 1-225 0 55 0 8 0 3 0 2 0 5 0 4 0 4 0 0 0 1 0 2 0 5 0 8 0 2 0 3 0 0 0 2 0 4 0 3 0 1 0 2 0 1 0 0 0 1 0 0 0 2 0 1 0 4 0 6 0 1 0 2 0 0 0 5 0 1 0 3 0 0 0 3 0 4 0 1 0 11 0 5 0 0 0 1 0 13 0 1 0 2 0 2 0 3 0 6 0 6 0 22 1-213 0 48 0 6 0 1 0 7 0 6 0 3 0 4 0 1 0 0 0 2 0 10 0 1 0 1 0 2 0 1 0 2 0 2 0 3 0 6 0 0 0 4 0 4 0 2 0 3 0 2 0 4 0 2 0 1 0 2 0 2 0 1 0 0 0 0 0 1 0 3 0 0 0 0 0 1 0 1 0 1 0 1 0 1 0 8 0 1 0 1 0 0 0 2 0 3 0 4 0 1 0 1 0 1 0 4 0 10 0 5 0 1 0 24 0 4 1-230 0 27 0 11 0 18 0 2 0 7 0 5 0 6 0 2 0 5 0 1 0 0 0 2 0 1 0 2 0 0 0 21 0 13 0 2 0 2 0 2 0 1 0 1 0 3 0 0 0 1 0 0 0 1 0 1 0 2 0 1 0 6 0 0 0 3 0 2 0 2 0 3 0 1 0 2 0 2 0 1 0 1 0 0 0 8 0 2 0 5 0 0 0 2 0 1 0 1 0 1 0 5 0 2 0 0 0 0 0 1 0 6 0 5 0 0 0 6 0 1 0 1 0 8 0 2 0 12 0 28 0 12 1-244 0 23 0 15 0 18 0 5 0 5 0 5 0 9 0 5 0 1 0 8 0 2 0 1 0 0 0 1 0 1 0 0 0 2 0 1 0 3 0 0 0 1 0 3 0 2 0 7 0 0 0 7 0 1 0 2 0 7 0 2 0 1 0 0 0 1 0 4 0 0 0 1 0 4 0 8 0 5 0 2 0 3 0 5 0 9 0 2 0 2 0 33 0 28 1-243 0 9 0 3 0 1 0 3 0 16 0 9 0 12 0 2 0 0 0 12 0 2 0 8 0 0 0 5 0 1 0 2 0 8 0 2 0 4 0 2 0 6 0 6 0 0 0 2 0 1 0 2 0 0 0 4 0 1 0 1 0 1 0 0 0 0 0 0 0 3 0 1 0 6 0 0 0 4 0 2 0 1 0 0 0 0 0 3 0 1 0 2 0 7 0 0 0 7 0 0 0 1 0 3 0 2 0 4 0 3 0 7 0 10 0 1 0 1 0 1 0 1 0 9 0 18 1-197 0 12 0 4 0 2 0 3 0 7 0 1 0 4 0 1 0 1 0 3 0 7 0 4 0 8 0 1 0 5 0 4 0 4 0 6 0 5 0 3 0 2 0 4 0 3 0 3 0 1 0 6 0 2 0 5 0 10 0 1 0 0 0 0 0 4 0 5 0 9 0 2 0 5 0 4 0 5 0 7 0 2 0 11 0 2 0 5 0 22 1-214 0 13 0 2 0 2 0 6 0 6 0 1 0 0 0 3 0 0 0 1 0 12 0 5 0 2 0 3 0 3 0 3 0 4 0 3 0 5 0 1 0 6 0 1 0 1 0 3 0 1 0 1 0 4 0 12 0 0 0 3 0 3 0 1 0 1 0 13 0 1 0 2 0 0 0 8 0 1 0 10 0 2 0 0 0 1 0 1 0 6 0 6 0 2 0 0 0 2 0 3 0 1 0 10 0 0 0 3 0 19 0 14 1-222 0 1 0 5 0 15 0 5 0 2 0 3 0 2 0 1 0 2 0 1 0 4 0 3 0 1 0 4 0 15 0 2 0 3 0 1 0 1 0 2 0 1 0 3 0 0 0 1 0 2 0 3 0 0 0 1 0 8 0 1 0 1 0 0 0 1 0 0 0 1 0 3 0 3 0 1 0 2 0 1 0 1 0 2 0 2 0 1 0 0 0 0 0 2 0 1 0 2 0 4 0 1 0 3 0 2 0 0 0 5 0 1 0 8 0 0 0 3 0 1 0 2 0 1 0 0 0 1 0 2 0 2 0 13 0 1 0 5 0 1 0 12 0 3 0 6 0 10 0 11 0 3 0 2 1-221 0 30 0 14 0 0 0 0 0 5 0 4 0 1 0 4 0 1 0 0 0 14 0 5 0 2 0 2 0 2 0 1 0 3 0 3 0 1 0 6 0 3 0 2 0 2 0 2 0 0 0 0 0 4 0 1 0 1 0 4 0 1 0 2 0 1 0 2 0 1 0 1 0 4 0 0 0 1 0 3 0 0 0 1 0 1 0 1 0 4 0 3 0 0 0 4 0 4 0 2 0 1 0 1 0 3 0 0 0 0 0 2 0 1 0 8 0 0 0 3 0 16 0 1 0 24 1-245 0 32 0 1 0 16 0 8 0 4 0 29 0 0 0 0 0 2 0 1 0 5 0 4 0 0 0 1 0 6 0 1 0 9 0 5 0 1 0 0 0 4 0 2 0 0 0 2 0 5 0 5 0 2 0 3 0 0 0 2 0 2 0 3 0 3 0 2 0 1 0 17 0 1 0 9 0 4 0 0 0 2 0 2 0 2 0 2 0 2 0 0 0 3 0 1 0 6 0 12 0 3 0 1 0 1 0 36 1-267 0 80 0 6 0 7 0 3 0 6 0 2 0 1 0 3 0 1 0 3 0 1 0 2 0 3 0 4 0 1 0 0 0 1 0 1 0 4 0 1 0 3 0 0 0 2 0 2 0 1 0 3 0 1 0 0 0 3 0 1 0 3 0 1 0 0 0 4 0 1 0 2 0 1 0 1 0 2 0 0 0 0 0 6 0 2 0 0 0 1 0 3 0 2 0 4 0 3 0 7 0 0 0 2 0 2 0 0 0 1 0 5 0 2 0 2 0 3 0 3 0 2 0 2 0 14 0 2 0 11 0 7 0 3 0 10 0 40 1-277 0 23 0 3 0 5 0 18 0 7 0 2 0 0 0 1 0 3 0 5 0 2 0 3 0 2 0 2 0 0 0 6 0 2 0 0 0 3 0 2 0 3 0 3 0 3 0 1 0 1 0 5 0 3 0 0 0 1 0 1 0 1 0 1 0 0 0 6 0 4 0 0 0 2 0 1 0 1 0 1 0 1 0 2 0 1 0 0 0 4 0 0 0 0 0 4 0 5 0 1 0 1 0 1 0 0 0 7 0 5 0 2 0 10 0 15 0 1 0 1 0 4 0 2 0 6 0 5 0 9 0 3 0 5 0 18 1-205 0 1 0 27 0 0 0 3 0 3 0 6 0 4 0 4 0 8 0 5 0 4 0 1 0 6 0 1 0 2 0 0 0 1 0 1 0 3 0 2 0 2 0 1 0 2 0 1 0 2 0 4 0 0 0 4 0 5 0 0 0 1 0 1 0 1 0 1 0 3 0 1 0 1 0 1 0 1 0 1 0 2 0 4 0 0 0 2 0 1 0 2 0 1 0 0 0 3 0 3 0 0 0 1 0 7 0 5 0 2 0 1 0 2 0 4 0 3 0 1 0 14 0 14 0 0 0 9 0 20 1-233 0 30 0 1 0 8 0 0 0 1 0 10 0 4 0 5 0 0 0 7 0 1 0 3 0 1 0 0 0 1 0 0 0 0 0 2 0 2 0 1 0 0 0 0 0 3 0 1 0 0 0 1 0 1 0 3 0 4 0 4 0 0 0 3 0 2 0 1 0 5 0 4 0 2 0 1 0 0 0 7 0 0 0 1 0 6 0 10 0 5 0 1 0 2 0 1 0 1 0 1 0 1 0 1 0 1 0 1 0 2 0 5 0 1 0 11 0 2 0 0 0 2 0 6 0 1 0 1 0 40 0 81 1-347 0 61 0 16 0 16 0 2 0 8 0 4 0 5 0 5 0 4 0 5 0 0 0 3 0 0 0 3 0 1 0 2 0 3 0 3 0 1 0 0 0 1 0 0 0 0 0 1 0 3 0 9 0 1 0 1 0 2 0 1 0 3 0 2 0 0 0 3 0 2 0 4 0 1 0 2 0 0 0 6 0 2 0 1 0 1 0 3 0 0 0 3 0 0 0 0 0 2 0 1 0 1 0 1 0 1 0 3 0 4 0 1 0 1 0 5 0 7 0 1 0 7 0 2 0 3 0 2 0 5 0 2 0 1 0 1 0 0 0 7 0 2 0 6 0 18 0 22 0 10 1-258 0 25 0 3 0 2 0 1 0 2 0 7 0 5 0 5 0 0 0 4 0 7 0 4 0 1 0 0 0 4 0 1 0 1 0 1 0 1 0 3 0 10 0 11 0 4 0 5 0 1 0 1 0 6 0 0 0 1 0 2 0 0 0 4 0 2 0 0 0 1 0 3 0 0 0 2 0 3 0 12 0 2 0 3 0 1 0 9 0 1 0 0 0 0 0 1 0 0 0 2 0 1 0 4 0 2 0 1 0 4 0 11 0 1 0 2 0 1 0 5 0 17 0 2 0 1 0 9 0 22 1-205 0 0 0 10 0 5 0 11 0 6 0 7 0 6 0 2 0 6 0 7 0 4 0 0 0 2 0 4 0 10 0 0 0 1 0 3 0 1 0 0 0 3 0 1 0 0 0 0 0 4 0 9 0 3 0 2 0 3 0 6 0 2 0 15 0 0 0 19 1-180 0 11 0 10 0 8 0 5 0 11 0 2 0 1 0 2 0 0 0 6 0 2 0 12 0 1 0 2 0 2 0 5 0 0 0 1 0 7 0 1 0 1 0 14 0 4 0 0 0 0 0 5 0 6 0 0 0 4 0 5 0 0 0 0 0 2 0 9 0 5 0 0 0 4 0 2 0 14 0 13 0 6 1-195 0 7 0 7 0 8 0 7 0 1 0 10 0 7 0 0 0 1 0 6 0 8 0 8 0 1 0 5 0 2 0 0 0 2 0 8 0 1 0 0 0 8 0 2 0 2 0 2 0 0 0 1 0 2 0 0 0 1 0 3 0 1 0 5 0 1 0 2 0 1 0 4 0 4 0 0 0 1 0 3 0 0 0 2 0 7 0 0 0 5 0 8 0 2 0 1 0 34 0 11 0 5 0 18 1-226 0 35 0 2 0 10 0 4 0 0 0 6 0 4 0 3 0 1 0 5 0 13 0 8 0 1 0 1 0 3 0 4 0 3 0 4 0 5 0 1 0 1 0 0 0 1 0 0 0 4 0 2 0 3 0 7 0 1 0 3 0 2 0 9 0 3 0 6 0 0 0 5 0 1 0 0 0 10 0 46 1-220 0 11 0 2 0 21 0 2 0 10 0 4 0 0 0 10 0 8 0 0 0 1 0 1 0 4 0 1 0 1 0 13 0 2 0 1 0 1 0 1 0 8 0 1 0 3 0 1 0 2 0 1 0 3 0 3 0 1 0 1 0 4 0 1 0 1 0 1 0 8 0 1 0 3 0 1 0 3 0 5 0 28 0 14 0 10 0 2 0 3 0 3 0 4 0 1 0 9 1-204 0 7 0 10 0 0 0 2 0 14 0 5 0 4 0 2 0 6 0 0 0 2 0 4 0 10 0 0 0 2 0 8 0 0 0 0 0 4 0 1 0 1 0 1 0 0 0 1 0 5 0 5 0 2 0 3 0 0 0 1 0 6 0 2 0 3 0 1 0 8 0 1 0 2 0 0 0 1 0 1 0 1 0 2 0 0 0 6 0 1 0 16 0 4 0 9 0 10 1-183 0 9 0 7 0 6 0 13 0 3 0 10 0 0 0 3 0 7 0 4 0 0 0 6 0 4 0 1 0 2 0 4 0 1 0 1 0 2 0 1 0 0 0 1 0 4 0 3 0 2 0 0 0 5 0 3 0 3 0 0 0 2 0 0 0 1 0 1 0 2 0 3 0 0 0 2 0 3 0 9 0 1 0 0 0 8 0 5 0 0 0 8 0 1 0 28 0 58 1-291 0 38 0 24 0 7 0 2 0 3 0 20 0 2 0 4 0 1 0 4 0 8 0 6 0 1 0 1 0 1 0 1 0 3 0 2 0 1 0 3 0 1 0 1 0 0 0 8 0 1 0 3 0 6 0 2 0 2 0 3 0 0 0 3 0 0 0 3 0 3 0 5 0 6 0 1 0 1 0 2 0 4 0 1 0 13 0 5 0 6 0 8 0 6 0 7 1-178 0 16 0 3 0 1 0 7 0 1 0 18 0 1 0 3 0 3 0 8 0 1 0 4 0 1 0 6 0 4 0 1 0 0 0 6 0 4 0 3 0 4 0 2 0 1 0 10 0 2 0 2 0 1 0 3 0 1 0 5 0 2 0 1 0 2 0 10 0 0 0 2 0 0 0 1 0 9 0 0 0 0 0 4 0 1 0 6 0 1 0 0 0 4 0 21 0 1 0 13 1-210 0 18 0 3 0 3 0 8 0 0 0 11 0 7 0 0 0 11 0 1 0 4 0 16 0 5 0 3 0 2 0 9 0 5 0 0 0 1 0 1 0 0 0 3 0 6 0 1 0 3 0 0 0 1 0 3 0 6 0 2 0 5 0 38 0 2 0 6 0 9 1-196 0 25 0 9 0 1 0 14 0 5 0 15 0 1 0 2 0 1 0 3 0 0 0 3 0 3 0 2 0 1 0 5 0 4 0 1 0 2 0 1 0 10 0 1 0 0 0 0 0 2 0 0 0 2 0 3 0 0 0 10 0 4 0 5 0 5 0 2 0 0 0 7 0 8 0 1 0 0 0 9 0 20 0 15 0 0 1-185 0 12 0 7 0 3 0 6 0 0 0 13 0 0 0 1 0 5 0 5 0 1 0 4 0 2 0 2 0 3 0 0 0 7 0 0 0 1 0 1 0 2 0 2 0 2 0 1 0 1 0 1 0 1 0 5 0 1 0 2 0 1 0 2 0 1 0 1 0 6 0 0 0 1 0 1 0 1 0 3 0 2 0 4 0 1 0 3 0 1 0 14 0 1 0 5 0 2 0 4 0 8 0 3 0 0 0 6 0 20 0 7 0 17 1-209 0 8 0 2 0 12 0 3 0 2 0 9 0 5 0 0 0 7 0 1 0 1 0 9 0 2 0 1 0 1 0 3 0 1 0 0 0 6 0 5 0 7 0 1 0 1 0 1 0 3 0 2 0 0 0 1 0 1 0 1 0 1 0 6 0 1 0 0 0 5 0 0 0 3 0 8 0 3 0 1 0 10 0 3 0 9 0 10 0 17 1-178 0 8 0 11 0 1 0 17 0 2 0 7 0 7 0 1 0 1 0 1 0 4 0 0 0 3 0 7 0 0 0 1 0 0 0 3 0 1 0 3 0 1 0 1 0 7 0 0 0 1 0 0 0 0 0 11 0 0 0 3 0 0 0 6 0 1 0 5 0 10 0 2 0 4 0 3 0 3 0 8 0 3 0 11 0 8 0 9 0 2 1-230 0 17 0 42 0 13 0 3 0 4 0 10 0 1 0 5 0 10 0 1 0 4 0 4 0 2 0 2 0 1 0 4 0 4 0 1 0 2 0 9 0 0 0 1 0 1 0 1 0 1 0 2 0 0 0 0 0 0 0 1 0 2 0 2 0 5 0 1 0 8 0 2 0 2 0 3 0 10 0 3 0 10 0 9 0 16 1-172 0 6 0 0 0 6 0 3 0 4 0 3 0 11 0 3 0 11 0 1 0 4 0 4 0 1 0 3 0 5 0 1 0 0 0 3 0 1 0 3 0 1 0 2 0 1 0 3 0 1 0 1 0 5 0 1 0 1 0 2 0 8 0 0 0 1 0 1 0 3 0 6 0 8 0 5 0 0 0 3 0 1 0 1 0 2 0 6 0 0 0 3 0 3 0 4 0 1 0 5 0 3 0 9 0 1 0 10 0 6 0 24 1-227 0 19 0 1 0 26 0 3 0 3 0 11 0 2 0 2 0 0 0 7 0 12 0 7 0 4 0 0 0 2 0 2 0 4 0 1 0 3 0 6 0 4 0 1 0 1 0 1 0 4 0 1 0 0 0 5 0 4 0 4 0 1 0 4 0 5 0 1 0 15 0 1 0 1 0 2 0 16 1-153 0 9 0 3 0 5 0 2 0 7 0 1 0 1 0 15 0 2 0 5 0 1 0 8 0 3 0 1 0 2 0 1 0 3 0 3 0 3 0 3 0 0 0 1 0 4 0 0 0 2 0 1 0 4 0 2 0 4 0 1 0 0 0 1 0 0 0 1 0 4 0 21 0 0 0 48 1-207 0 43 0 10 0 8 0 4 0 2 0 2 0 1 0 1 0 5 0 2 0 1 0 1 0 2 0 1 0 2 0 1 0 0 0 4 0 1 0 1 0 2 0 5 0 0 0 4 0 8 0 2 0 3 0 6 0 6 0 2 0 1 0 0 0 5 0 0 0 1 0 5 0 5 0 1 0 1 0 1 0 7 0 8 0 9 0 4 0 27 1-223 0 9 0 39 0 1 0 10 0 2 0 3 0 8 0 5 0 1 0 4 0 1 0 1 0 5 0 6 0 1 0 2 0 2 0 4 0 1 0 1 0 5 0 4 0 3 0 2 0 1 0 8 0 0 0 1 0 3 0 2 0 4 0 0 0 1 0 0 0 4 0 2 0 1 0 4 0 11 0 1 0 11 0 4 0 0 0 2 0 8 1-178 0 1 0 43 0 1 0 10 0 4 0 1 0 3 0 0 0 3 0 2 0 3 0 1 0 11 0 2 0 0 0 1 0 4 0 3 0 9 0 3 0 1 0 5 0 0 0 1 0 2 0 1 0 2 0 6 0 4 0 1 0 1 0 2 0 10 0 1 0 1 0 0 0 0 0 7 0 0 0 1 0 1 0 11 0 2 0 12 0 4 0 0 0 34 1-164 0 7 0 2 0 6 0 1 0 1 0 1 0 5 0 1 0 0 0 1 0 3 0 1 0 3 0 2 0 9 0 8 0 3 0 4 0 0 0 0 0 4 0 3 0 4 0 0 0 1 0 1 0 3 0 1 0 2 0 4 0 3 0 5 0 8 0 3 0 5 0 1 0 2 0 0 0 25 0 5 0 1 0 1 0 13 0 11 1-215 0 4 0 7 0 0 0 15 0 11 0 21 0 5 0 9 0 1 0 2 0 3 0 1 0 1 0 8 0 1 0 5 0 1 0 0 0 2 0 6 0 0 0 1 0 0 0 2 0 1 0 2 0 3 0 4 0 0 0 1 0 5 0 4 0 4 0 1 0 0 0 0 0 3 0 2 0 9 0 20 0 6 0 10 0 9 0 35 1-201 0 7 0 5 0 3 0 3 0 17 0 2 0 12 0 5 0 0 0 1 0 4 0 1 0 2 0 0 0 3 0 1 0 1 0 2 0 0 0 0 0 0 0 3 0 5 0 0 0 2 0 6 0 0 0 4 0 1 0 0 0 2 0 2 0 3 0 1 0 2 0 1 0 4 0 0 0 3 0 3 0 12 0 0 0 1 0 2 0 2 0 7 0 5 0 5 0 8 0 22 0 10 1-207 0 22 0 27 0 8 0 12 0 3 0 5 0 0 0 5 0 1 0 5 0 1 0 6 0 1 0 0 0 5 0 1 0 1 0 1 0 3 0 2 0 4 0 1 0 1 0 1 0 4 0 6 0 11 0 6 0 8 0 2 0 19 0 3 1-205 0 15 0 11 0 42 0 7 0 2 0 12 0 2 0 0 0 3 0 4 0 1 0 8 0 1 0 0 0 4 0 2 0 0 0 1 0 0 0 4 0 4 0 1 0 1 0 1 0 4 0 1 0 1 0 3 0 4 0 4 0 5 0 3 0 6 0 4 0 5 0 9 0 4 0 0 0 3 0 4 0 3 0 27 1-209 0 21 0 39 0 1 0 14 0 8 0 2 0 7 0 4 0 1 0 3 0 7 0 0 0 2 0 0 0 6 0 2 0 2 0 2 0 0 0 2 0 0 0 1 0 12 0 0 0 2 0 1 0 2 0 2 0 2 0 0 0 2 0 0 0 5 0 1 0 5 0 2 0 0 0 2 0 1 0 2 0 0 0 0 0 4 0 2 0 0 0 1 0 0 0 1 0 6 0 6 0 16 1-166 0 8 0 16 0 6 0 0 0 8 0 2 0 1 0 1 0 10 0 1 0 3 0 0 0 2 0 6 0 1 0 0 0 2 0 5 0 10 0 0 0 1 0 4 0 6 0 1 0 1 0 3 0 2 0 12 0 2 0 0 0 4 0 5 0 1 0 0 0 1 0 2 0 5 0 3 0 7 0 4 0 16 0 7 1-185 0 22 0 4 0 6 0 3 0 8 0 10 0 3 0 0 0 23 0 2 0 4 0 5 0 8 0 1 0 3 0 7 0 1 0 8 0 1 0 2 0 3 0 0 0 2 0 4 0 3 0 1 0 2 0 4 0 1 0 5 0 0 0 8 0 0 0 15 0 13 0 11 1-191 0 3 0 26 0 11 0 9 0 4 0 13 0 12 0 1 0 5 0 4 0 8 0 3 0 0 0 1 0 6 0 3 0 6 0 1 0 3 0 0 0 0 0 1 0 0 0 1 0 7 0 4 0 4 0 1 0 1 0 8 0 2 0 32 0 8 1-152 0 2 0 5 0 8 0 3 0 1 0 4 0 3 0 8 0 4 0 5 0 0 0 11 0 1 0 5 0 0 0 0 0 1 0 2 0 7 0 0 0 0 0 10 0 1 0 1 0 0 0 5 0 1 0 0 0 6 0 4 0 0 0 1 0 1 0 3 0 2 0 2 0 0 0 2 0 4 0 4 0 1 0 17 0 1 1-148 0 2 0 5 0 7 0 4 0 3 0 6 0 18 0 1 0 1 0 0 0 1 0 2 0 1 0 5 0 3 0 1 0 4 0 1 0 5 0 2 0 2 0 3 0 3 0 3 0 6 0 0 0 2 0 1 0 0 0 2 0 1 0 3 0 2 0 1 0 1 0 2 0 5 0 1 0 3 0 2 0 0 0 10 0 5 0 1 0 2 0 3 0 7 0 5 0 8 1-202 0 32 0 16 0 7 0 2 0 0 0 7 0 1 0 4 0 5 0 7 0 0 0 4 0 5 0 4 0 2 0 0 0 2 0 0 0 2 0 1 0 2 0 1 0 3 0 7 0 2 0 2 0 1 0 1 0 2 0 0 0 2 0 6 0 3 0 4 0 0 0 8 0 2 0 1 0 2 0 0 0 1 0 2 0 1 0 4 0 5 1-115 0 0 0 15 0 13 0 16 0 3 0 1 0 0 0 3 0 6 0 0 0 0 0 0 0 6 0 1 0 6 0 1 0 1 0 1 0 2 0 6 0 1 0 0 0 4 0 1 0 0 0 2 0 4 0 3 0 0 0 2 0 2 0 2 0 1 0 4 0 1 0 0 0 4 0 7 0 3 0 48 1-208 0 26 0 10 0 5 0 10 0 2 0 3 0 0 0 1 0 2 0 1 0 5 0 14 0 1 0 5 0 1 0 0 0 1 0 7 0 3 0 3 0 3 0 1 0 4 0 6 0 0 0 1 0 1 0 1 0 2 0 5 0 2 0 5 0 1 0 4 0 6 0 19 0 3 0 1 0 39 1-254 0 53 0 24 0 10 0 2 0 0 0 6 0 8 0 10 0 4 0 3 0 12 0 1 0 1 0 0 0 5 0 2 0 1 0 0 0 4 0 12 0 4 0 0 0 0 0 3 0 0 0 4 0 1 0 0 0 3 0 6 0 1 0 3 0 0 0 3 0 1 0 5 0 4 0 0 0 1 0 10 0 11 0 10 0 1 0 74 1-224 0 8 0 1 0 7 0 3 0 1 0 3 0 4 0 0 0 9 0 1 0 5 0 1 0 4 0 5 0 3 0 0 0 10 0 3 0 2 0 6 0 4 0 2 0 5 0 5 0 2 0 3 0 0 0 4 0 3 0 3 0 4 0 4 0 10 0 6 0 17 1-167 0 15 0 16 0 8 0 12 0 3 0 3 0 3 0 4 0 1 0 1 0 4 0 2 0 1 0 2 0 1 0 0 0 1 0 2 0 2 0 5 0 4 0 3 0 1 0 2 0 3 0 0 0 1 0 3 0 2 0 1 0 0 0 1 0 6 0 6 0 1 0 5 0 3 0 1 0 2 0 2 0 5 0 1 0 7 0 1 0 2 0 8 0 16 0 19 1-199 0 32 0 4 0 3 0 4 0 19 0 4 0 1 0 4 0 1 0 2 0 5 0 4 0 5 0 0 0 5 0 2 0 1 0 13 0 3 0 1 0 4 0 3 0 12 0 5 0 6 0 5 0 13 1-134 0 22 0 8 0 4 0 3 0 1 0 1 0 8 0 0 0 9 0 1 0 1 0 6 0 4 0 0 0 2 0 0 0 2 0 1 0 9 0 0 0 3 0 2 0 1 0 4 0 15 0 1 0 4 0 0 0 1 0 2 0 2 0 2 0 44 1-232 0 24 0 10 0 15 0 10 0 7 0 5 0 8 0 2 0 11 0 0 0 11 0 2 0 1 0 0 0 4 0 0 0 1 0 5 0 2 0 6 0 1 0 2 0 1 0 5 0 11 0 2 0 3 0 6 0 1 0 2 0 4 0 1 0 2 0 1 0 3 0 21 0 31 1-188 0 18 0 2 0 1 0 6 0 9 0 2 0 3 0 1 0 14 0 4 0 9 0 2 0 4 0 9 0 1 0 4 0 9 0 0 0 1 0 2 0 2 0 0 0 5 0 3 0 1 0 2 0 2 0 6 0 1 0 1 0 0 0 6 0 5 0 7 0 1 0 2 0 5 0 4 0 12 0 21 0 2 0 4 1-185 0 16 0 4 0 5 0 4 0 4 0 4 0 2 0 6 0 10 0 3 0 5 0 0 0 0 0 2 0 1 0 3 0 2 0 1 0 4 0 5 0 2 0 1 0 4 0 2 0 1 0 1 0 3 0 1 0 0 0 1 0 1 0 3 0 1 0 5 0 6 0 1 0 1 0 4 0 1 0 1 0 2 0 2 0 2 0 2 0 2 0 2 0 1 0 1 0 9 0 0 0 1 0 25 0 32 1-221 0 20 0 13 0 9 0 3 0 0 0 11 0 1 0 0 0 0 0 7 0 10 0 3 0 1 0 8 0 1 0 1 0 5 0 0 0 2 0 5 0 2 0 5 0 2 0 3 0 6 0 11 0 3 0 6 0 1 0 0 0 4 0 0 0 1 0 3 0 2 0 20 0 61 1-245 0 24 0 1 0 38 0 5 0 1 0 7 0 1 0 14 0 2 0 0 0 4 0 2 0 2 0 7 0 2 0 1 0 6 0 1 0 4 0 7 0 4 0 5 0 3 0 4 0 1 0 6 0 5 0 1 0 8 0 1 0 9 0 4 0 28 0 3 0 17 1-211 0 7 0 11 0 11 0 9 0 2 0 16 0 4 0 1 0 2 0 1 0 1 0 7 0 2 0 2 0 0 0 1 0 1 0 1 0 3 0 3 0 2 0 2 0 2 0 0 0 2 0 3 0 12 0 0 0 3 0 2 0 10 0 3 0 5 0 1 0 1 0 4 0 7 0 4 0 0 0 2 0 2 0 6 0 0 0 10 0 1 0 9 0 3 0 11 1-210 0 2 0 7 0 7 0 37 0 14 0 2 0 1 0 3 0 1 0 1 0 6 0 3 0 3 0 8 0 4 0 0 0 8 0 4 0 4 0 0 0 4 0 6 0 2 0 3 0 8 0 1 0 3 0 1 0 1 0 0 0 3 0 4 0 0 0 9 0 0 0 1 0 2 0 1 0 11 0 1 0 4 0 4 0 0 0 9 1-166 0 19 0 4 0 2 0 1 0 1 0 22 0 1 0 0 0 8 0 0 0 3 0 5 0 4 0 2 0 4 0 3 0 0 0 0 0 0 0 2 0 1 0 1 0 3 0 0 0 4 0 4 0 1 0 4 0 6 0 4 0 5 0 5 0 6 0 6 0 8 0 1 0 34 1-165 0 6 0 4 0 18 0 2 0 5 0 1 0 7 0 0 0 0 0 2 0 3 0 5 0 1 0 7 0 5 0 0 0 0 0 10 0 8 0 1 0 2 0 4 0 0 0 2 0 0 0 3 0 0 0 1 0 1 0 3 0 8 0 8 0 1 0 1 0 7 0 1 0 5 0 5 0 6 0 1 0 2 0 3 0 2 0 16 1-180 0 17 0 10 0 14 0 13 0 2 0 1 0 1 0 6 0 9 0 4 0 0 0 4 0 3 0 0 0 1 0 2 0 1 0 1 0 2 0 2 0 3 0 4 0 3 0 2 0 3 0 2 0 0 0 9 0 1 0 2 0 2 0 3 0 3 0 32 0 1 0 36 1-213 0 47 0 4 0 3 0 0 0 6 0 0 0 1 0 2 0 5 0 14 0 1 0 3 0 4 0 2 0 1 0 0 0 5 0 1 0 3 0 0 0 1 0 2 0 1 0 0 0 1 0 0 0 1 0 1 0 1 0 0 0 4 0 1 0 2 0 0 0 2 0 0 0 7 0 4 0 0 0 6 0 1 0 1 0 3 0 1 0 5 0 1 0 1 0 0 0 7 1-149 0 37 0 8 0 3 0 5 0 3 0 2 0 2 0 2 0 1 0 4 0 3 0 0 0 3 0 2 0 6 0 4 0 3 0 2 0 5 0 1 0 1 0 2 0 0 0 1 0 2 0 1 0 1 0 0 0 6 0 1 0 1 0 9 0 4 0 2 0 3 0 5 0 10 0 6 0 13 0 1 0 1 0 9 0 19 1-195 0 22 0 7 0 2 0 6 0 2 0 4 0 0 0 1 0 2 0 4 0 19 0 2 0 9 0 0 0 1 0 1 0 4 0 0 0 1 0 8 0 1 0 1 0 2 0 0 0 1 0 3 0 2 0 6 0 1 0 1 0 0 0 1 0 4 0 2 0 25 0 14 0 1 0 3 1-152 0 3 0 4 0 10 0 13 0 5 0 3 0 6 0 8 0 1 0 5 0 0 0 1 0 0 0 2 0 2 0 6 0 0 0 2 0 0 0 1 0 0 0 1 0 1 0 2 0 3 0 1 0 3 0 1 0 0 0 3 0 5 0 1 0 6 0 2 0 2 0 2 0 2 0 6 0 1 0 6 0 1 0 12 0 5 0 0 0 3 1-175 0 47 0 2 0 4 0 1 0 1 0 10 0 0 0 17 0 3 0 6 0 7 0 1 0 8 0 4 0 2 0 7 0 2 0 2 0 5 0 2 0 2 0 0 0 9 0 0 0 11 0 2 0 2 0 3 0 5 0 1 0 0 0 3 0 12 0 4 0 5 0 4 0 6 0 8 1-182 0 15 0 20 0 7 0 17 0 4 0 2 0 2 0 2 0 5 0 3 0 2 0 2 0 0 0 0 0 1 0 3 0 2 0 8 0 4 0 8 0 1 0 5 0 8 0 2 0 2 0 0 0 50 1-165 0 17 0 13 0 1 0 10 0 8 0 3 0 3 0 2 0 1 0 5 0 0 0 0 0 2 0 2 0 1 0 1 0 3 0 1 0 2 0 2 0 1 0 4 0 1 0 3 0 7 0 0 0 0 0 2 0 1 0 2 0 2 0 2 0 6 0 1 0 1 0 12 0 0 0 4 0 24 0 59 1-223 0 16 0 1 0 5 0 18 0 2 0 6 0 7 0 0 0 4 0 2 0 8 0 4 0 1 0 1 0 1 0 2 0 0 0 0 0 2 0 2 0 0 0 3 0 2 0 7 0 4 0 1 0 0 0 2 0 0 0 1 0 3 0 2 0 1 0 0 0 2 0 0 0 1 0 2 0 0 0 2 0 2 0 3 0 4 0 1 0 1 0 0 0 4 0 0 0 5 0 5 0 3 0 3 0 6 0 4 0 9 0 5 0 2 1-192 0 44 0 2 0 7 0 4 0 2 0 6 0 4 0 1 0 2 0 3 0 2 0 3 0 0 0 15 0 8 0 1 0 2 0 4 0 6 0 0 0 2 0 1 0 1 0 6 0 0 0 4 0 0 0 4 0 2 0 3 0 3 0 1 0 4 0 3 0 2 0 4 0 3 0 2 0 23 0 1 0 1 1-174 0 23 0 12 0 1 0 13 0 2 0 2 0 3 0 18 0 2 0 2 0 11 0 2 0 0 0 0 0 1 0 0 0 0 0 7 0 0 0 1 0 2 0 2 0 3 0 5 0 4 0 1 0 5 0 5 0 0 0 2 0 1 0 5 0 2 0 6 0 14 0 4 0 2 0 26 1-153 0 8 0 1 0 10 0 2 0 2 0 4 0 4 0 1 0 2 0 0 0 11 0 9 0 1 0 3 0 0 0 1 0 1 0 5 0 2 0 6 0 0 0 2 0 0 0 3 0 9 0 0 0 4 0 0 0 3 0 1 0 3 0 3 0 1 0 4 0 3 0 4 0 4 0 5 0 4 0 0 0 11 1-164 0 12 0 9 0 3 0 1 0 4 0 2 0 12 0 1 0 5 0 3 0 4 0 10 0 1 0 0 0 1 0 2 0 10 0 2 0 5 0 3 0 5 0 3 0 1 0 0 0 2 0 1 0 3 0 1 0 3 0 3 0 1 0 0 0 1 0 1 0 2 0 1 0 5 0 3 0 5 0 3 0 16 0 1 0 9 0 4 0 23 0 26 1-204 0 8 0 3 0 15 0 3 0 23 0 0 0 1 0 3 0 4 0 3 0 3 0 1 0 3 0 6 0 1 0 1 0 0 0 3 0 1 0 1 0 0 0 1 0 2 0 1 0 2 0 6 0 0 0 0 0 1 0 1 0 6 0 4 0 2 0 0 0 3 0 3 0 3 0 1 0 2 0 1 0 2 0 5 0 2 0 6 0 0 0 10 0 31 1-163 0 1 0 4 0 5 0 7 0 7 0 3 0 3 0 4 0 3 0 1 0 5 0 3 0 0 0 5 0 2 0 1 0 0 0 6 0 1 0 0 0 6 0 3 0 1 0 3 0 3 0 5 0 7 0 1 0 20 0 3 0 2 0 1 0 1 0 5 0 8 0 1 0 25 0 6 1-188 0 24 0 7 0 4 0 5 0 3 0 1 0 2 0 9 0 0 0 1 0 4 0 0 0 7 0 5 0 7 0 1 0 0 0 2 0 0 0 1 0 2 0 5 0 4 0 1 0 1 0 4 0 1 0 3 0 1 0 1 0 3 0 5 0 0 0 1 0 1 0 0 0 2 0 2 0 1 0 12 0 2 0 2 0 4 0 2 0 26 0 5 0 1 1-153 0 8 0 9 0 5 0 3 0 5 0 9 0 4 0 2 0 0 0 1 0 3 0 3 0 0 0 2 0 3 0 0 0 0 0 3 0 3 0 1 0 2 0 0 0 2 0 0 0 4 0 4 0 0 0 1 0 5 0 3 0 1 0 0 0 6 0 0 0 3 0 3 0 5 0 0 0 5 0 15 0 31 0 9 1-227 0 42 0 16 0 6 0 2 0 4 0 2 0 13 0 2 0 2 0 2 0 1 0 0 0 2 0 4 0 6 0 6 0 2 0 1 0 2 0 4 0 2 0 1 0 3 0 3 0 2 0 4 0 1 0 0 0 1 0 1 0 2 0 5 0 2 0 2 0 2 0 1 0 2 0 1 0 11 0 0 0 1 0 0 0 0 0 1 0 5 0 3 0 1 0 6 0 0 0 3 0 2 1-151 0 7 0 7 0 11 0 2 0 5 0 6 0 2 0 7 0 3 0 3 0 6 0 2 0 7 0 3 0 6 0 7 0 3 0 3 0 1 0 1 0 0 0 2 0 2 0 1 0 0 0 2 0 6 0 7 0 0 0 1 0 0 0 3 0 0 0 2 0 4 0 2 0 0 0 5 0 2 0 4 0 11 0 1 0 1 0 0 0 3 0 5 0 5 0 24 1-165 0 2 0 1 0 5 0 4 0 10 0 5 0 15 0 0 0 2 0 3 0 1 0 0 0 3 0 1 0 1 0 0 0 3 0 4 0 2 0 4 0 2 0 4 0 2 0 1 0 0 0 1 0 2 0 2 0 0 0 1 0 1 0 2 0 7 0 2 0 3 0 0 0 2 0 2 0 0 0 1 0 2 0 11 0 1 0 11 0 12 0 0 1-147 0 24 0 3 0 2 0 3 0 12 0 12 0 20 0 3 0 0 0 0 0 1 0 2 0 0 0 3 0 4 0 1 0 2 0 2 0 0 0 0 0 1 0 1 0 2 0 5 0 3 0 3 0 2 0 1 0 21 0 6 0 5 1-139 0 7 0 0 0 13 0 3 0 5 0 15 0 4 0 9 0 2 0 4 0 3 0 0 0 2 0 0 0 3 0 4 0 1 0 3 0 1 0 3 0 3 0 0 0 9 0 2 0 0 0 6 0 0 0 5 0 1 0 9 0 1 0 3 0 5 0 4 0 5 0 8 0 4 0 41 1-164 0 9 0 8 0 2 0 1 0 2 0 1 0 3 0 0 0 4 0 2 0 3 0 0 0 2 0 2 0 1 0 10 0 5 0 2 0 9 0 0 0 2 0 7 0 2 0 1 0 17 0 9 0 2 0 6 0 13 1-129 0 3 0 13 0 0 0 1 0 3 0 6 0 9 0 5 0 0 0 1 0 1 0 6 0 2 0 1 0 1 0 2 0 3 0 1 0 3 0 5 0 0 0 5 0 1 0 0 0 1 0 5 0 2 0 0 0 4 0 0 0 1 0 2 0 2 0 4 0 21 0 17 0 9 1-229 0 54 0 0 0 15 0 10 0 3 0 11 0 14 0 1 0 0 0 1 0 12 0 3 0 1 0 3 0 8 0 2 0 0 0 2 0 2 0 6 0 2 0 2 0 0 0 1 0 1 0 2 0 4 0 1 0 2 0 2 0 6 0 2 0 4 0 9 0 2 0 3 0 2 0 1 0 7 1-179 0 21 0 26 0 14 0 3 0 3 0 2 0 1 0 0 0 8 0 15 0 1 0 4 0 1 0 1 0 3 0 1 0 0 0 1 0 0 0 1 0 1 0 6 0 1 0 4 0 1 0 2 0 9 0 0 0 2 0 4 0 3 0 11 0 1 0 0 0 2 0 1 0 3 0 7 0 24 0 14 1-228 0 89 0 5 0 5 0 3 0 2 0 3 0 0 0 2 0 4 0 1 0 3 0 2 0 2 0 3 0 7 0 4 0 2 0 3 0 0 0 6 0 3 0 2 0 1 0 2 0 2 0 4 0 6 0 5 0 1 0 1 0 11 0 19 0 53 1-226 0 16 0 8 0 26 0 19 0 2 0 5 0 4 0 1 0 0 0 0 0 3 0 2 0 1 0 3 0 9 0 0 0 0 0 1 0 2 0 1 0 0 0 2 0 4 0 1 0 2 0 2 0 2 0 4 0 2 0 2 0 2 0 1 0 0 0 1 0 2 0 2 0 1 0 1 0 1 0 1 0 0 0 0 0 6 0 15 0 0 0 21 1-179 0 37 0 7 0 6 0 12 0 10 0 1 0 2 0 0 0 1 0 0 0 4 0 0 0 4 0 2 0 0 0 1 0 0 0 2 0 0 0 11 0 3 0 4 0 5 0 0 0 1 0 2 0 0 0 1 0 7 0 1 0 2 0 2 0 1 0 3 0 3 0 4 0 5 0 3 0 4 0 6 0 5 0 3 0 9 0 4 0 4 1-150 0 13 0 18 0 1 0 8 0 9 0 4 0 1 0 4 0 1 0 0 0 1 0 2 0 1 0 2 0 2 0 0 0 4 0 2 0 2 0 5 0 4 0 2 0 2 0 3 0 8 0 2 0 8 0 0 0 1 0 3 0 12 0 5 0 10 0 4 0 23 0 17 1-195 0 10 0 13 0 3 0 6 0 1 0 2 0 2 0 5 0 7 0 1 0 1 0 3 0 3 0 1 0 1 0 2 0 4 0 2 0 5 0 5 0 6 0 4 0 1 0 1 0 1 0 3 0 1 0 0 0 7 0 1 0 1 0 0 0 6 0 4 0 1 0 0 0 1 0 5 0 1 0 21 0 1 0 3 0 17 0 15 1-203 0 37 0 5 0 15 0 3 0 4 0 15 0 1 0 1 0 2 0 0 0 1 0 1 0 2 0 1 0 5 0 6 0 0 0 2 0 2 0 0 0 2 0 2 0 4 0 1 0 0 0 4 0 1 0 1 0 1 0 0 0 2 0 5 0 13 0 6 0 3 0 1 0 3 0 0 0 0 0 2 0 1 0 3 0 2 0 10 0 4 0 1 0 2 0 6 1-160 0 6 0 16 0 2 0 1 0 11 0 6 0 5 0 3 0 3 0 4 0 2 0 3 0 0 0 4 0 1 0 10 0 4 0 1 0 8 0 0 0 0 0 0 0 2 0 1 0 1 0 2 0 1 0 3 0 5 0 2 0 2 0 1 0 1 0 4 0 0 0 1 0 4 0 5 0 2 0 3 0 3 0 6 0 1 0 1 0 3 0 0 0 3 0 2 0 10 0 21 1-170 0 18 0 19 0 1 0 0 0 1 0 6 0 2 0 1 0 2 0 3 0 2 0 2 0 1 0 0 0 4 0 2 0 2 0 1 0 3 0 0 0 6 0 1 0 1 0 4 0 1 0 2 0 1 0 0 0 2 0 1 0 3 0 2 0 4 0 6 0 8 0 1 0 7 0 7 0 1 0 4 0 29 0 15 1-190 0 15 0 18 0 1 0 16 0 8 0 1 0 1 0 3 0 8 0 2 0 1 0 2 0 2 0 1 0 5 0 3 0 2 0 3 0 3 0 2 0 3 0 3 0 2 0 6 0 2 0 1 0 2 0 4 0 2 0 7 0 0 0 5 0 2 0 0 0 4 0 3 0 1 0 4 0 1 0 9 0 6 1-205 0 31 0 15 0 29 0 8 0 2 0 1 0 10 0 4 0 2 0 7 0 6 0 11 0 2 0 1 0 5 0 2 0 1 0 1 0 7 0 9 0 0 0 1 0 2 0 12 0 7 0 9 0 7 0 12 0 44 1-182 0 7 0 1 0 10 0 4 0 3 0 0 0 5 0 11 0 1 0 2 0 0 0 1 0 1 0 2 0 0 0 1 0 3 0 0 0 2 0 5 0 4 0 3 0 0 0 0 0 2 0 1 0 1 0 4 0 0 0 1 0 4 0 15 0 5 0 16 0 1 0 8 0 2 0 13 1-148 0 19 0 13 0 3 0 5 0 3 0 3 0 3 0 1 0 3 0 1 0 2 0 7 0 6 0 1 0 0 0 2 0 5 0 4 0 2 0 3 0 1 0 3 0 5 0 2 0 3 0 1 0 9 0 2 0 1 0 16 0 11 0 11 0 6 0 47 1-258 0 80 0 0 0 19 0 2 0 0 0 1 0 2 0 4 0 3 0 0 0 3 0 4 0 4 0 2 0 2 0 0 0 1 0 1 0 3 0 2 0 4 0 1 0 3 0 1 0 6 0 1 0 1 0 5 0 4 0 7 0 3 0 3 0 9 0 26 0 11 1-197 0 2 0 32 0 2 0 1 0 0 0 5 0 12 0 2 0 6 0 3 0 6 0 9 0 4 0 1 0 0 0 1 0 1 0 1 0 6 0 2 0 0 0 3 0 2 0 8 0 0 0 6 0 1 0 1 0 5 0 2 0 4 0 2 0 1 0 3 0 3 0 21 0 9 0 5 0 5 0 8 1-189 0 36 0 13 0 6 0 1 0 6 0 6 0 7 0 6 0 2 0 1 0 3 0 2 0 1 0 0 0 2 0 4 0 0 0 1 0 3 0 1 0 6 0 2 0 0 0 2 0 5 0 0 0 0 0 3 0 7 0 6 0 11 0 1 0 0 0 11 0 5 0 10 1-138 0 6 0 23 0 3 0 3 0 3 0 3 0 4 0 6 0 9 0 0 0 2 0 4 0 1 0 1 0 2 0 0 0 1 0 7 0 0 0 0 0 1 0 0 0 5 0 0 0 1 0 2 0 1 0 17 0 1 0 4 0 2 0 8 0 4 0 7 0 13 0 7 1-138 0 3 0 1 0 15 0 0 0 3 0 0 0 1 0 1 0 6 0 5 0 1 0 0 0 0 0 2 0 2 0 0 0 0 0 2 0 3 0 14 0 1 0 4 0 0 0 5 0 5 0 0 0 2 0 3 0 2 0 0 0 13 0 1 0 2 0 5 0 7 0 3 0 3 1-138 0 12 0 4 0 4 0 4 0 28 0 1 0 2 0 4 0 0 0 2 0 0 0 2 0 2 0 3 0 3 0 1 0 4 0 1 0 1 0 1 0 1 0 2 0 1 0 0 0 1 0 11 0 1 0 6 0 3 0 3 0 1 0 1 0 1 0 9 0 4 0 39 1-134 0 15 0 5 0 1 0 0 0 2 0 4 0 4 0 1 0 5 0 6 0 1 0 2 0 1 0 2 0 2 0 0 0 10 0 3 0 0 0 4 0 1 0 0 0 5 0 7 0 2 0 2 0 2 0 3 0 1 0 2 0 9 0 8 0 10 0 26 1-146 0 9 0 2 0 5 0 3 0 5 0 3 0 2 0 0 0 4 0 1 0 3 0 1 0 4 0 2 0 1 0 0 0 3 0 7 0 6 0 2 0 6 0 2 0 2 0 2 0 2 0 2 0 0 0 4 0 1 0 1 0 8 0 1 0 5 0 6 0 32 1-139 0 3 0 4 0 7 0 4 0 4 0 0 0 3 0 17 0 6 0 1 0 0 0 0 0 1 0 2 0 0 0 1 0 1 0 3 0 1 0 0 0 4 0 1 0 1 0 1 0 0 0 1 0 0 0 2 0 1 0 9 0 2 0 1 0 7 0 2 0 2 0 1 0 1 0 5 0 1 0 0 0 2 0 2 0 1 0 34 0 11 1-217 0 21 0 37 0 28 0 3 0 2 0 11 0 4 0 3 0 0 0 2 0 1 0 2 0 0 0 7 0 2 0 2 0 2 0 2 0 1 0 9 0 3 0 4 0 2 0 5 0 4 0 9 0 8 0 10 1-182 0 25 0 25 0 24 0 13 0 3 0 1 0 3 0 0 0 2 0 8 0 2 0 1 0 2 0 1 0 1 0 1 0 5 0 1 0 2 0 1 0 0 0 0 0 0 0 2 0 2 0 13 0 1 0 1 0 1 0 1 0 0 0 1 0 1 0 7 0 6 0 3 0 6 0 10 0 3 0 1 1-135 0 5 0 25 0 6 0 12 0 1 0 12 0 4 0 1 0 2 0 2 0 1 0 0 0 1 0 1 0 2 0 1 0 1 0 1 0 5 0 3 0 1 0 2 0 5 0 2 0 12 0 6 0 0 0 2 0 17 0 7 0 24 0 27 1-216 0 38 0 2 0 18 0 4 0 5 0 1 0 6 0 10 0 1 0 2 0 2 0 2 0 2 0 3 0 3 0 1 0 0 0 5 0 1 0 6 0 0 0 1 0 2 0 8 0 3 0 4 0 1 0 2 0 0 0 10 0 0 0 6 0 3 0 8 0 22 0 14 1-180 0 27 0 0 0 19 0 2 0 1 0 7 0 1 0 7 0 6 0 3 0 1 0 1 0 5 0 3 0 1 0 14 0 8 0 5 0 1 0 1 0 4 0 8 0 6 0 2 1-115 0 16 0 6 0 5 0 1 0 2 0 7 0 3 0 15 0 1 0 2 0 3 0 2 0 0 0 3 0 15 0 4 0 1 0 0 0 3 0 0 0 10 0 1 0 4 0 6 0 0 0 10 1-170 0 46 0 3 0 16 0 0 0 12 0 7 0 1 0 6 0 1 0 3 0 4 0 5 0 1 0 1 0 1 0 0 0 2 0 1 0 1 0 6 0 4 0 9 0 1 0 4 0 1 0 0 0 8 0 1 0 1 0 10 0 7 0 8 0 7 0 6 0 1 0 10 1-163 0 22 0 12 0 6 0 7 0 1 0 5 0 0 0 4 0 3 0 1 0 7 0 5 0 1 0 3 0 1 0 2 0 0 0 2 0 2 0 1 0 1 0 0 0 2 0 0 0 1 0 3 0 4 0 0 0 1 0 2 0 1 0 2 0 0 0 3 0 0 0 1 0 0 0 5 0 1 0 1 0 10 0 2 0 2 0 7 0 7 0 26 1-207 0 52 0 10 0 2 0 7 0 6 0 2 0 2 0 15 0 1 0 4 0 1 0 3 0 1 0 1 0 1 0 1 0 2 0 5 0 0 0 1 0 0 0 1 0 2 0 0 0 2 0 0 0 6 0 0 0 2 0 8 0 0 0 10 0 6 0 4 0 5 0 2 0 2 1-88 0 1 0 3 0 3 0 4 0 2 0 5 0 10 0 1 0 5 0 0 0 1 0 7 0 0 0 5 0 0 0 5 0 0 0 1 0 2 0 0 0 2 0 0 0 1 0 1 0 13 0 5 0 0 0 4 0 1 0 0 0 11 0 10 0 3 1-144 0 7 0 5 0 7 0 10 0 3 0 2 0 2 0 2 0 2 0 11 0 1 0 2 0 2 0 0 0 3 0 2 0 6 0 0 0 3 0 1 0 2 0 6 0 0 0 5 0 8 0 1 0 1 0 3 0 41 1-177 0 44 0 19 0 5 0 8 0 3 0 9 0 2 0 3 0 1 0 1 0 1 0 6 0 5 0 2 0 8 0 1 0 2 0 4 0 6 0 1 0 1 0 0 0 3 0 1 0 2 0 3 0 2 0 4 0 0 0 1 0 3 0 0 0 2 0 2 0 1 0 3 0 2 0 10 1-144 0 9 0 20 0 10 0 14 0 0 0 1 0 2 0 3 0 0 0 9 0 3 0 0 0 14 0 2 0 1 0 7 0 1 0 7 0 2 0 0 0 0 0 1 0 3 0 0 0 4 0 1 0 1 0 11 0 3 0 1 0 4 0 0 0 2 0 4 0 3 0 2 0 14 1-153 0 25 0 6 0 8 0 7 0 5 0 3 0 4 0 1 0 5 0 12 0 1 0 0 0 1 0 2 0 3 0 0 0 4 0 0 0 2 0 1 0 3 0 0 0 3 0 2 0 0 0 3 0 2 0 1 0 5 0 1 0 2 0 2 0 8 0 13 0 5 1-130 0 11 0 4 0 8 0 14 0 1 0 0 0 1 0 4 0 3 0 1 0 5 0 0 0 1 0 3 0 3 0 5 0 3 0 5 0 3 0 1 0 0 0 6 0 0 0 0 0 3 0 1 0 4 0 6 0 1 0 2 0 12 0 6 0 3 0 20 1-183 0 39 0 31 0 1 0 7 0 7 0 2 0 6 0 7 0 0 0 3 0 2 0 3 0 1 0 0 0 0 0 1 0 0 0 6 0 0 0 2 0 2 0 1 0 3 0 1 0 2 0 4 0 0 0 0 0 0 0 1 0 1 0 5 0 1 0 3 0 5 0 2 0 3 0 1 1-155 0 22 0 16 0 17 0 2 0 6 0 9 0 1 0 4 0 0 0 8 0 2 0 3 0 1 0 4 0 0 0 3 0 1 0 5 0 7 0 1 0 3 0 3 0 5 0 2 0 2 0 5 0 2 0 1 0 2 0 1 0 4 0 2 0 0 0 5 0 5 0 2 0 0 0 1 0 5 0 1 0 5 0 5 0 5 0 1 0 4 1-140 0 22 0 4 0 1 0 3 0 13 0 9 0 3 0 2 0 4 0 2 0 0 0 1 0 1 0 0 0 1 0 2 0 8 0 3 0 0 0 2 0 0 0 1 0 4 0 1 0 0 0 4 0 0 0 3 0 0 0 5 0 1 0 2 0 8 0 18 0 128 1-268 0 39 0 4 0 1 0 8 0 1 0 1 0 2 0 0 0 10 0 5 0 0 0 0 0 1 0 0 0 0 0 2 0 1 0 1 0 10 0 4 0 2 0 1 0 2 0 1 0 2 0 1 0 2 0 12 0 3 0 1 0 0 0 2 0 4 0 1 0 3 0 2 0 0 0 2 0 1 0 25 1-153 0 21 0 11 0 2 0 9 0 3 0 5 0 0 0 2 0 2 0 1 0 0 0 0 0 4 0 13 0 2 0 6 0 1 0 3 0 1 0 1 0 1 0 3 0 3 0 2 0 1 0 2 0 3 0 3 0 3 0 4 0 1 0 0 0 2 0 6 0 2 0 3 0 23 0 1 1-178 0 3 0 41 0 21 0 8 0 0 0 7 0 2 0 1 0 4 0 6 0 2 0 2 0 1 0 1 0 0 0 1 0 0 0 1 0 2 0 0 0 2 0 0 0 0 0 1 0 1 0 0 0 2 0 1 0 2 0 2 0 4 0 4 0 4 0 6 0 0 0 0 0 2 0 3 0 2 0 9 0 9 0 20 0 4 0 31 1-180 0 27 0 1 0 3 0 1 0 8 0 0 0 2 0 3 0 6 0 1 0 1 0 0 0 8 0 1 0 2 0 1 0 1 0 1 0 7 0 1 0 1 0 5 0 1 0 4 0 6 0 0 0 1 0 1 0 2 0 5 0 0 0 1 0 4 0 22 0 11 1-160 0 20 0 18 0 12 0 8 0 2 0 1 0 1 0 5 0 7 0 5 0 1 0 0 0 7 0 1 0 2 0 1 0 2 0 0 0 1 0 2 0 1 0 7 0 1 0 4 0 5 0 0 0 2 0 3 0 1 0 5 0 5 0 2 0 13 1-103 0 7 0 10 0 8 0 1 0 2 0 0 0 0 0 2 0 1 0 0 0 2 0 3 0 3 0 1 0 4 0 0 0 3 0 5 0 3 0 7 0 1 0 4 0 4 0 4 0 7 0 2 0 7 0 2 0 2 0 3 0 6 0 3 0 31 1-174 0 21 0 5 0 5 0 2 0 11 0 1 0 9 0 1 0 2 0 1 0 0 0 1 0 0 0 4 0 0 0 14 0 6 0 1 0 4 0 6 0 2 0 7 0 0 0 1 0 2 0 4 0 1 0 0 0 18 0 2 0 1 0 8 1-151 0 49 0 1 0 1 0 10 0 0 0 7 0 4 0 4 0 2 0 1 0 5 0 3 0 1 0 6 0 6 0 0 0 1 0 5 0 2 0 0 0 2 0 2 0 1 0 1 0 1 0 2 0 9 0 1 0 21 0 12 1-173 0 42 0 27 0 18 0 0 0 1 0 2 0 5 0 2 0 2 0 3 0 4 0 1 0 2 0 1 0 5 0 1 0 1 0 4 0 6 0 2 0 1 0 2 0 3 0 2 0 7 0 1 0 1 0 25 0 2 0 4 1-141 0 1 0 17 0 5 0 3 0 0 0 1 0 10 0 2 0 1 0 6 0 2 0 4 0 1 0 1 0 0 0 4 0 4 0 7 0 3 0 3 0 1 0 3 0 1 0 1 0 2 0 0 0 5 0 7 0 5 0 2 0 2 0 20 0 7 0 31 1-200 0 26 0 29 0 8 0 3 0 7 0 1 0 1 0 2 0 0 0 3 0 4 0 7 0 10 0 3 0 3 0 6 0 2 0 4 0 3 0 1 0 2 0 1 0 3 0 0 0 1 0 5 0 3 0 3 0 3 0 1 0 14 0 1 0 17 0 0 0 9 1-186 0 57 0 13 0 2 0 7 0 5 0 2 0 0 0 4 0 3 0 1 0 2 0 5 0 3 0 2 0 0 0 2 0 6 0 6 0 1 0 1 0 2 0 3 0 0 0 1 0 4 0 2 0 1 0 2 0 0 0 3 0 4 0 1 0 1 0 2 0 2 0 4 0 4 0 18 1-160 0 19 0 15 0 3 0 13 0 2 0 4 0 5 0 8 0 1 0 4 0 3 0 0 0 5 0 2 0 4 0 4 0 0 0 0 0 2 0 3 0 0 0 3 0 1 0 1 0 4 0 1 0 3 0 2 0 1 0 2 0 1 0 0 0 5 0 3 0 1 0 2 0 18 1-155 0 13 0 43 0 12 0 2 0 3 0 1 0 3 0 2 0 3 0 1 0 2 0 2 0 4 0 1 0 1 0 2 0 2 0 2 0 7 0 5 0 3 0 5 0 9 0 12 0 7 0 5 0 12 0 3 0 11 0 14 0 10 1-158 0 14 0 5 0 14 0 4 0 1 0 7 0 1 0 1 0 1 0 2 0 3 0 1 0 7 0 6 0 6 0 1 0 3 0 6 0 14 0 5 0 2 0 0 0 6 0 9 0 27 1-156 0 10 0 9 0 1 0 4 0 0 0 2 0 3 0 9 0 6 0 2 0 1 0 8 0 2 0 2 0 1 0 1 0 6 0 6 0 2 0 2 0 2 0 2 0 0 0 0 0 6 0 2 0 1 0 1 0 5 0 2 0 2 0 1 0 3 0 1 0 0 0 2 0 11 0 1 0 18 0 5 0 3 1-148 0 7 0 2 0 11 0 5 0 8 0 2 0 3 0 1 0 0 0 1 0 3 0 0 0 10 0 1 0 4 0 3 0 0 0 5 0 3 0 1 0 2 0 5 0 1 0 1 0 13 0 6 0 3 0 4 0 7 0 24 0 1 0 3 0 1 1-171 0 11 0 18 0 27 0 6 0 13 0 4 0 7 0 5 0 3 0 6 0 3 0 10 0 0 0 1 0 10 0 3 0 3 0 5 0 1 0 0 0 2 0 3 0 4 0 1 0 8 0 2 1-94 0 4 0 2 0 2 0 2 0 11 0 2 0 1 0 1 0 1 0 3 0 1 0 1 0 7 0 6 0 0 0 1 0 3 0 3 0 2 0 1 0 1 0 0 0 2 0 1 0 4 0 9 0 3 0 1 0 1 0 6 0 2 0 6 0 31 1-192 0 6 0 72 0 3 0 1 0 5 0 2 0 4 0 1 0 0 0 1 0 1 0 2 0 0 0 1 0 0 0 5 0 1 0 1 0 3 0 1 0 2 0 2 0 1 0 3 0 1 0 13 0 7 0 6 0 2 0 6 0 3 0 4 1-115 0 4 0 6 0 14 0 1 0 5 0 1 0 1 0 3 0 2 0 0 0 1 0 4 0 3 0 1 0 2 0 1 0 6 0 0 0 2 0 1 0 1 0 1 0 1 0 1 0 1 0 5 0 2 0 2 0 1 0 1 0 0 0 3 0 2 0 3 0 0 0 5 0 5 0 0 0 4 0 25 0 2 1-149 0 11 0 20 0 8 0 11 0 3 0 4 0 3 0 3 0 1 0 3 0 5 0 3 0 4 0 1 0 4 0 4 0 0 0 2 0 2 0 1 0 2 0 1 0 1 0 1 0 1 0 3 0 0 0 1 0 3 0 0 0 4 0 12 0 5 0 2 0 15 0 3 0 26 1-161 0 10 0 5 0 26 0 3 0 7 0 2 0 4 0 1 0 1 0 9 0 0 0 0 0 2 0 3 0 3 0 0 0 0 0 1 0 1 0 0 0 3 0 3 0 2 0 6 0 0 0 1 0 1 0 9 0 0 0 1 0 8 0 19 1-134 0 9 0 21 0 1 0 4 0 1 0 2 0 0 0 2 0 12 0 5 0 1 0 0 0 14 0 1 0 1 0 5 0 4 0 4 0 2 0 2 0 0 0 3 0 2 0 1 0 3 0 2 0 6 0 2 0 9 0 2 0 3 0 2 0 1 0 14 1-136 0 22 0 18 0 0 0 13 0 3 0 1 0 0 0 7 0 1 0 3 0 1 0 2 0 0 0 1 0 3 0 3 0 0 0 7 0 1 0 1 0 1 0 1 0 4 0 5 0 1 0 0 0 4 0 3 0 2 0 17 0 2 0 15 1-122 0 2 0 6 0 3 0 5 0 5 0 1 0 5 0 0 0 4 0 1 0 3 0 2 0 4 0 0 0 2 0 2 0 2 0 3 0 1 0 1 0 1 0 8 0 1 0 2 0 5 0 0 0 2 0 0 0 4 0 3 0 1 0 2 0 5 0 7 0 6 0 6 0 0 0 3 0 18 0 1 1-172 0 7 0 26 0 8 0 12 0 12 0 0 0 2 0 1 0 7 0 9 0 6 0 2 0 11 0 4 0 8 0 0 0 2 0 3 0 1 0 9 0 7 0 1 0 4 0 8 0 3 1-148 0 43 0 16 0 4 0 5 0 7 0 1 0 7 0 4 0 2 0 1 0 2 0 2 0 1 0 1 0 6 0 4 0 1 0 3 0 1 0 1 0 2 0 0 0 0 0 1 0 4 0 0 0 3 0 1 0 9 0 0 0 3 0 20 0 32 1-161 0 2 0 10 0 3 0 13 0 8 0 0 0 1 0 4 0 5 0 3 0 3 0 1 0 6 0 0 0 4 0 0 0 1 0 2 0 1 0 5 0 7 0 3 0 1 0 1 0 6 0 2 0 11 0 18 1-105 0 2 0 11 0 3 0 4 0 7 0 8 0 3 0 0 0 1 0 2 0 3 0 4 0 0 0 3 0 0 0 1 0 3 0 0 0 3 0 3 0 1 0 3 0 3 0 12 0 6 0 6 0 12 0 62 1-206 0 11 0 0 0 31 0 11 0 3 0 1 0 18 0 4 0 2 0 0 0 1 0 3 0 0 0 1 0 2 0 2 0 0 0 0 0 1 0 1 0 1 0 0 0 2 0 0 0 3 0 1 0 2 0 1 0 1 0 6 0 2 0 1 0 2 0 5 0 3 0 2 0 11 1-136 0 43 0 4 0 1 0 16 0 0 0 1 0 8 0 1 0 1 0 1 0 0 0 3 0 4 0 0 0 0 0 1 0 1 0 3 0 2 0 4 0 9 0 0 0 3 0 1 0 2 0 1 0 8 0 4 0 3 0 4 0 1 0 17 1-149 0 26 0 4 0 7 0 19 0 2 0 1 0 4 0 3 0 3 0 5 0 0 0 1 0 5 0 0 0 0 0 1 0 0 0 3 0 4 0 0 0 1 0 4 0 3 0 3 0 1 0 2 0 0 0 5 0 12 0 9 0 2 0 1 0 8 1-143 0 1 0 44 0 1 0 2 0 15 0 1 0 7 0 1 0 5 0 5 0 1 0 3 0 0 0 3 0 1 0 5 0 1 0 1 0 2 0 0 0 4 0 1 0 2 0 0 0 12 0 9 0 6 0 18 0 52 1-183 0 23 0 11 0 13 0 1 0 1 0 0 0 4 0 0 0 5 0 4 0 2 0 2 0 1 0 3 0 0 0 4 0 1 0 1 0 1 0 1 0 2 0 1 0 0 0 2 0 4 0 4 0 0 0 1 0 1 0 0 0 2 0 0 0 3 0 3 0 14 0 3 0 0 0 4 1-149 0 46 0 1 0 21 0 2 0 2 0 13 0 1 0 3 0 9 0 3 0 2 0 1 0 1 0 1 0 2 0 1 0 0 0 2 0 1 0 0 0 5 0 2 0 0 0 2 0 2 0 6 0 1 0 3 0 6 0 1 0 7 1-104 0 16 0 1 0 3 0 4 0 2 0 3 0 1 0 1 0 4 0 12 0 2 0 2 0 1 0 3 0 4 0 1 0 6 0 1 0 2 0 0 0 2 0 2 0 7 0 4 0 14 0 0 0 2 0 16 1-150 0 15 0 41 0 2 0 3 0 0 0 1 0 9 0 2 0 0 0 2 0 0 0 1 0 1 0 0 0 1 0 2 0 1 0 5 0 0 0 6 0 3 0 6 0 1 0 2 0 7 0 1 0 1 0 5 0 11 0 9 0 24 0 2 1-168 0 28 0 19 0 4 0 7 0 6 0 15 0 1 0 3 0 1 0 0 0 1 0 0 0 4 0 3 0 1 0 3 0 0 0 2 0 2 0 1 0 1 0 4 0 3 0 4 0 2 0 4 0 5 0 6 0 14 0 4 1-144 0 6 0 23 0 11 0 11 0 2 0 11 0 1 0 2 0 11 0 2 0 2 0 6 0 1 0 2 0 3 0 9 0 0 0 2 0 0 0 2 0 4 0 2 0 9 0 0 0 6 0 1 0 6 0 16 1-118 0 15 0 9 0 7 0 4 0 3 0 4 0 3 0 0 0 1 0 7 0 1 0 2 0 2 0 3 0 7 0 2 0 2 0 0 0 1 0 2 0 0 0 13 0 4 0 2 1-136 0 7 0 3 0 41 0 12 0 1 0 2 0 1 0 4 0 5 0 0 0 5 0 2 0 0 0 1 0 1 0 2 0 3 0 0 0 1 0 5 0 3 0 2 0 5 0 3 0 3 0 2 0 0 0 2 0 2 0 2 0 3 0 7 0 1 0 4 0 5 0 4 1-135 0 17 0 4 0 30 0 4 0 1 0 7 0 5 0 2 0 1 0 6 0 3 0 2 0 1 0 3 0 5 0 2 0 6 0 0 0 1 0 6 0 5 0 0 0 8 0 6 0 25 1-121 0 26 0 11 0 2 0 2 0 3 0 9 0 1 0 0 0 3 0 0 0 1 0 2 0 5 0 1 0 0 0 1 0 1 0 0 0 0 0 2 0 1 0 1 0 4 0 10 0 1 0 0 0 1 0 2 0 10 1-105 0 13 0 11 0 2 0 5 0 4 0 1 0 2 0 3 0 3 0 6 0 2 0 0 0 7 0 2 0 5 0 2 0 1 0 1 0 1 0 0 0 0 0 3 0 2 0 17 0 4 0 6 0 6 0 2 0 1 0 11 0 25 1-133 0 17 0 14 0 2 0 12 0 0 0 7 0 2 0 0 0 3 0 0 0 5 0 4 0 1 0 0 0 12 0 2 0 0 0 1 0 10 1-120 0 10 0 12 0 8 0 6 0 9 0 3 0 4 0 2 0 10 0 0 0 0 0 1 0 4 0 3 0 1 0 3 0 1 0 0 0 3 0 7 0 4 0 2 0 4 0 7 0 0 0 4 0 1 1-90 0 4 0 13 0 8 0 11 0 4 0 2 0 5 0 1 0 0 0 1 0 3 0 2 0 0 0 7 0 3 0 4 0 2 0 1 0 5 0 0 0 0 0 6 0 2 0 6 0 10 0 3 0 14 1-120 0 6 0 22 0 3 0 7 0 2 0 15 0 1 0 3 0 0 0 0 0 10 0 2 0 1 0 2 0 3 0 2 0 4 0 1 0 1 0 29 1-150 0 54 0 5 0 15 0 7 0 2 0 2 0 0 0 12 0 1 0 2 0 4 0 0 0 2 0 3 0 14 0 3 0 0 0 5 0 8 0 2 0 10 0 28 1-145 0 14 0 1 0 6 0 7 0 3 0 11 0 1 0 8 0 1 0 0 0 2 0 0 0 1 0 2 0 1 0 1 0 8 0 0 0 4 0 1 0 0 0 3 0 1 0 0 0 4 0 1 0 1 0 1 0 18 0 7 0 6 0 3 0 0 0 28 1-137 0 3 0 2 0 3 0 10 0 1 0 10 0 1 0 1 0 8 0 1 0 4 0 5 0 0 0 1 0 2 0 1 0 3 0 2 0 3 0 2 0 2 0 3 0 3 0 2 0 1 0 4 0 2 0 3 0 4 0 4 0 4 0 27 1-167 0 19 0 1 0 18 0 6 0 17 0 4 0 8 0 1 0 0 0 2 0 1 0 2 0 0 0 4 0 1 0 0 0 5 0 2 0 7 0 1 0 1 0 1 0 0 0 1 0 2 0 1 0 4 0 2 0 4 0 0 0 1 0 0 0 4 0 7 0 2 0 16 1-137 0 15 0 16 0 39 0 1 0 11 0 2 0 2 0 1 0 0 0 0 0 3 0 0 0 4 0 0 0 6 0 1 0 1 0 1 0 1 0 2 0 3 0 1 0 1 0 0 0 11 0 11 1-131 0 20 0 10 0 14 0 13 0 11 0 2 0 6 0 2 0 4 0 5 0 3 0 11 0 1 0 4 0 0 0 7 0 1 0 1 0 1 0 7 0 2 0 20 1-134 0 30 0 17 0 17 0 7 0 1 0 1 0 1 0 1 0 0 0 2 0 2 0 2 0 1 0 9 0 1 0 1 0 8 0 1 0 8 0 13 0 3 1-145 0 5 0 5 0 14 0 24 0 1 0 2 0 10 0 1 0 3 0 1 0 4 0 6 0 2 0 1 0 1 0 1 0 2 0 0 0 5 0 3 0 2 0 0 0 1 0 1 0 2 0 2 0 3 0 0 0 3 0 4 0 6 0 10 0 7 0 4 0 7 1-144 0 4 0 23 0 15 0 18 0 12 0 2 0 2 0 2 0 0 0 1 0 2 0 3 0 5 0 0 0 5 0 1 0 4 0 0 0 1 0 1 0 4 0 12 0 2 0 4 0 51 1-143 0 32 0 4 0 0 0 6 0 8 0 5 0 3 0 2 0 1 0 0 0 5 0 2 0 1 0 7 0 0 0 4 0 5 0 7 0 1 0 5 0 10 0 5 0 8 0 11 0 9 0 25 1-165 0 26 0 3 0 5 0 9 0 5 0 4 0 1 0 2 0 5 0 2 0 1 0 0 0 1 0 2 0 5 0 1 0 0 0 7 0 2 0 8 0 0 0 6 0 2 0 7 0 2 1-106 0 26 0 6 0 2 0 9 0 10 0 7 0 5 0 1 0 2 0 7 0 0 0 1 0 5 0 0 0 5 0 2 0 2 0 3 0 0 0 7 0 14 0 2 0 11 1-102 0 7 0 7 0 4 0 2 0 1 0 3 0 2 0 3 0 0 0 4 0 2 0 0 0 1 0 1 0 3 0 4 0 0 0 5 0 2 0 0 0 2 0 0 0 1 0 2 0 8 0 7 0 1 0 3 0 0 0 13 1-124 0 16 0 11 0 15 0 10 0 4 0 2 0 1 0 2 0 2 0 1 0 6 0 2 0 3 0 0 0 2 0 5 0 1 0 1 0 1 0 11 0 1 0 6 0 2 0 11 0 7 0 71 1-210 0 11 0 26 0 7 0 13 0 2 0 2 0 1 0 1 0 0 0 2 0 1 0 3 0 2 0 4 0 0 0 4 0 1 0 1 0 2 0 2 0 4 0 6 0 2 0 2 0 9 0 1 0 7 0 3 0 5 0 5 0 1 1-87 0 9 0 7 0 1 0 3 0 1 0 7 0 3 0 1 0 4 0 6 0 0 0 0 0 2 0 0 0 6 0 4 0 1 0 1 0 1 0 1 0 2 0 2 0 3 0 2 0 2 0 1 0 0 0 1 0 11 0 4 0 5 0 7 1-102 0 7 0 2 0 3 0 11 0 2 0 0 0 5 0 1 0 5 0 3 0 1 0 3 0 1 0 3 0 0 0 0 0 1 0 10 0 0 0 3 0 0 0 3 0 0 0 2 0 6 0 3 0 3 0 9 0 2 0 11 1-109 0 9 0 15 0 4 0 10 0 2 0 2 0 0 0 4 0 1 0 6 0 3 0 0 0 1 0 1 0 4 0 0 0 1 0 12 0 1 0 11 0 0 0 4 0 8 0 11 0 4 1-145 0 48 0 2 0 1 0 1 0 3 0 0 0 7 0 6 0 6 0 2 0 0 0 6 0 1 0 1 0 1 0 1 0 1 0 2 0 1 0 2 0 1 0 1 0 8 0 3 0 2 0 4 0 6 0 2 0 2 0 9 1-86 0 13 0 5 0 2 0 1 0 2 0 1 0 7 0 2 0 1 0 1 0 2 0 1 0 2 0 0 0 2 0 0 0 1 0 1 0 8 0 1 0 2 0 16 0 4 0 10 0 2 0 4 0 6 0 43 1-152 0 17 0 8 0 5 0 8 0 3 0 0 0 2 0 1 0 2 0 1 0 1 0 0 0 1 0 3 0 2 0 1 0 3 0 8 0 2 0 1 0 6 0 3 0 3 0 1 0 8 0 31 1-117 0 12 0 6 0 1 0 12 0 0 0 2 0 2 0 5 0 2 0 1 0 2 0 1 0 1 0 1 0 4 0 0 0 3 0 0 0 0 0 1 0 9 0 0 0 1 0 4 0 1 0 1 0 10 0 1 0 25 1-102 0 7 0 2 0 3 0 2 0 12 0 2 0 5 0 2 0 1 0 6 0 2 0 3 0 4 0 0 0 1 0 6 0 4 0 8 0 2 0 5 0 3 0 6 1-108 0 9 0 11 0 1 0 17 0 2 0 7 0 4 0 0 0 9 0 9 0 1 0 2 0 0 0 1 0 0 0 1 0 1 0 2 0 0 0 3 0 3 0 1 0 1 0 8 0 3 0 4 0 1 0 2 0 6 0 12 1-124 0 11 0 15 0 6 0 4 0 5 0 2 0 12 0 10 0 4 0 3 0 4 0 4 0 4 0 4 0 9 0 5 1-105 0 2 0 34 0 3 0 12 0 2 0 2 0 2 0 5 0 0 0 1 0 2 0 2 0 2 0 3 0 0 0 2 0 1 0 0 0 1 0 3 0 0 0 2 0 3 0 2 0 2 0 2 0 5 0 5 0 3 0 3 0 9 0 2 0 9 1-109 0 14 0 10 0 16 0 1 0 0 0 5 0 0 0 4 0 3 0 6 0 0 0 1 0 7 0 2 0 0 0 4 0 8 0 2 0 2 0 4 0 8 0 2 0 1 0 5 0 10 1-122 0 3 0 33 0 3 0 1 0 4 0 6 0 4 0 1 0 2 0 0 0 1 0 5 0 1 0 1 0 0 0 1 0 1 0 1 0 6 0 1 0 0 0 8 0 0 0 1 0 5 0 13 0 10 1-115 0 16 0 22 0 4 0 6 0 2 0 8 0 3 0 2 0 1 0 0 0 2 0 1 0 6 0 0 0 1 0 5 0 40 0 26 1-156 0 26 0 4 0 8 0 6 0 5 0 5 0 22 0 5 0 2 0 1 0 1 0 2 0 1 0 0 0 2 0 2 0 0 0 1 0 3 0 19 1-78 0 0 0 3 0 8 0 10 0 0 0 1 0 0 0 5 0 2 0 2 0 1 0 3 0 3 0 5 0 7 0 5 0 0 0 1 0 4 0 24 0 8 0 23 1-165 0 66 0 5 0 3 0 0 0 4 0 5 0 0 0 5 0 1 0 0 0 2 0 1 0 4 0 8 0 4 0 1 0 17 0 5 0 8 1-70 0 0 0 0 0 1 0 6 0 2 0 3 0 0 0 1 0 2 0 2 0 1 0 2 0 0 0 1 0 4 0 7 0 6 0 24 1-130 0 26 0 11 0 8 0 8 0 8 0 12 0 3 0 1 0 4 0 6 0 2 0 1 0 1 0 1 0 0 0 0 0 5 0 4 0 1 0 2 0 2 0 4 0 0 0 0 0 1 0 10 0 16 1-140 0 4 0 9 0 50 0 2 0 1 0 6 0 1 0 6 0 12 0 2 0 1 0 4 0 28 1-80 0 4 0 16 0 4 0 2 0 0 0 1 0 1 0 5 0 3 0 14 0 6 0 3 0 3 0 4 0 5 0 2 0 0 0 1 0 3 1-106 0 30 0 6 0 6 0 10 0 2 0 2 0 0 0 8 0 1 0 7 0 7 0 6 0 13 0 8 0 2 0 6 0 0 0 0 1-120 0 11 0 10 0 21 0 8 0 4 0 18 0 5 0 3 0 2 0 4 0 0 0 2 0 0 0 1 0 1 0 17 0 3 0 13 1-120 0 22 0 15 0 8 0 12 0 1 0 4 0 2 0 10 0 3 0 3 0 5 0 2 0 0 0 6 0 10 0 1 0 0 0 0 0 7 1-59 0 3 0 5 0 4 0 3 0 2 0 5 0 1 0 3 0 1 0 4 0 2 0 1 0 4 0 3 0 13 0 15 0 14 0 4 1-150 0 62 0 4 0 3 0 2 0 10 0 2 0 6 0 2 0 5 0 14 0 7 0 2 1-106 0 40 0 9 0 3 0 2 0 2 0 2 0 2 0 1 0 1 0 1 0 0 0 1 0 1 0 1 0 9 0 1 0 2 0 3 0 2 0 2 0 5 0 4 0 7 0 1 1-111 0 44 0 0 0 2 0 1 0 2 0 3 0 3 0 7 0 1 0 1 0 0 0 2 0 5 0 1 0 3 0 0 0 5 0 1 0 5 0 0 0 7 0 1 0 3 0 4 0 2 0 3 0 14 1-87 0 19 0 4 0 0 0 5 0 2 0 8 0 1 0 1 0 3 0 3 0 3 0 0 0 6 0 3 0 2 0 11 0 8 0 15 1-131 0 28 0 12 0 5 0 19 0 0 0 5 0 1 0 2 0 2 0 1 0 1 0 0 0 1 0 2 0 2 0 13 0 4 0 3 0 7 1-95 0 27 0 25 0 3 0 3 0 0 0 1 0 2 0 1 0 2 0 6 0 1 0 8 0 1 0 6 0 19 0 41 1-138 0 3 0 9 0 24 0 9 0 5 0 5 0 3 0 1 0 1 0 5 0 1 0 6 0 2 0 1 0 2 0 3 0 6 0 0 1-109 0 1 0 28 0 40 0 2 0 4 0 4 0 1 0 2 0 5 0 0 0 5 0 3 0 8 0 0 0 1 0 6 0 5 0 6 1-120 0 50 0 8 0 7 0 9 0 1 0 3 0 1 0 8 0 1 0 2 0 7 0 5 0 4 0 5 0 7 0 9 0 22 1-107 0 0 0 25 0 1 0 1 0 3 0 0 0 4 0 0 0 0 0 2 0 2 0 4 0 5 0 1 0 5 0 2 0 6 0 5 1-101 0 13 0 3 0 2 0 2 0 27 0 1 0 10 0 8 0 1 0 0 0 2 0 2 0 0 0 7 0 2 0 0 0 0 0 7 0 2 0 6 0 8 0 6 0 11 1-119 0 8 0 7 0 17 0 19 0 1 0 1 0 3 0 2 0 12 0 2 0 1 0 2 0 2 0 1 0 1 0 0 0 4 0 4 0 2 0 3 0 3 0 0 0 4 0 13 0 3 1-108 0 40 0 1 0 1 0 5 0 5 0 2 0 4 0 1 0 3 0 1 0 5 0 3 0 0 0 6 0 0 0 1 0 5 0 17 0 9 1-93 0 27 0 14 0 0 0 4 0 0 0 5 0 5 0 2 0 6 0 1 0 5 0 5 0 2 0 2 0 22 1-133 0 7 0 55 0 4 0 8 0 3 0 2 0 11 0 2 0 0 0 3 0 2 0 4 0 39 1-73 0 0 0 2 0 7 0 2 0 2 0 0 0 3 0 2 0 8 0 5 0 7 1-81 0 25 0 5 0 0 0 9 0 4 0 9 0 2 0 2 0 3 0 1 0 1 0 1 0 0 0 1 0 1 0 5 0 6 0 8 0 2 1-46 0 4 0 3 0 1 0 0 0 17 0 4 0 13 0 4 0 3 0 8 1-57 0 3 0 7 0 1 0 2 0 0 0 0 0 1 0 2 0 11 0 1 0 1 0 7 0 1 0 0 0 2 0 10 1-106 0 24 0 30 0 3 0 3 0 9 0 0 0 1 0 1 0 1 0 14 0 13 1-76 0 11 0 7 0 22 0 2 0 1 0 4 0 3 0 1 0 4 0 1 0 3 0 1 0 2 0 0 0 10 1-61 0 17 0 7 0 4 0 3 0 1 0 1 0 9 0 1 0 2 0 0 0 45 1-72 0 5 0 0 0 2 0 4 0 7 0 2 0 8 0 5 0 19 1-62 0 2 0 15 0 4 0 3 0 3 0 15 1-37 0 9 0 4 0 0 0 1 0 7 0 5 0 1 0 3 0 1 0 3 0 4 0 0 1-37 0 6 0 7 0 6 0 1 0 13 0 2 0 4 0 5 1-91 0 51 0 2 0 0 0 3 0 7 0 3 0 6 1-79 0 29 0 24 0 8 1-58 0 79 1-11 0 3 1-67 1 76 2 1 2-36 2-21 1 32 4 28 1 26 1 15 5-52 0 14 2 45 1-124 47 71" marker-start="url(#pa)" marker-mid="url(#pa)" marker-end="url(#pa)"/>
<path d="M302.5 288L322 297L345 302L345 304L322 309L302.5 316Z" style="fill:#999;fill-opacity:.4"/>
<path d="M857 206L820 222L790 236L770 246L760 250L770 250L790 250.5L820 251.5L857 252.5Z" style="fill:#999;fill-opacity:.45"/>
<path d="M302.5 302.5C308.8 302.6 327.9 302.4 340 303C352.1 303.6 365.0 304.3 375 306C385.0 307.7 391.7 309.8 400 313C408.3 316.2 417.5 321.2 425 325C432.5 328.8 438.8 332.7 445 336C451.2 339.3 455.4 342.2 462.5 345C469.6 347.8 480.4 349.6 487.5 352.5C494.6 355.4 500.4 358.8 505 362.5C509.6 366.2 511.7 369.6 515 375C518.3 380.4 521.7 388.5 525 395C528.3 401.5 531.7 408.7 535 414C538.3 419.3 542.0 424.3 545 427C548.0 429.7 550.5 430.2 553 430C555.5 429.8 557.7 428.5 560 426C562.3 423.5 564.5 419.3 567 415C569.5 410.7 571.7 405.5 575 400C578.3 394.5 582.8 387.4 587 382C591.2 376.6 595.8 372.3 600 367.5C604.2 362.7 607.8 357.4 612 353C616.2 348.6 620.3 345.2 625 341C629.7 336.8 634.2 332.5 640 328C645.8 323.5 653.3 318.7 660 314C666.7 309.3 673.3 304.7 680 300C686.7 295.3 692.5 291.2 700 286C707.5 280.8 716.7 274.0 725 269C733.3 264.0 741.7 259.6 750 256C758.3 252.4 766.7 250.2 775 247.5C783.3 244.8 791.7 242.2 800 240C808.3 237.8 815.5 235.9 825 234C834.5 232.1 851.7 229.6 857 228.75" stroke="#3b63d8" stroke-width="2.4"/>
<path d="M553.25 180V633" stroke="#a9a9a9" stroke-width="5" stroke-dasharray="24.2 12" stroke-dashoffset="9.5"/>
<path d="M500 568l8-23 16-18 4 58 7-53 1 47 0 2 1-58 1-5 1 17 0 38 1-60 0 10 0 26 0 2 1-43 0 114 1-84 1-11 0 21 0 12 1-45 0 54 0 6 0 4 1-65 0 5 0 4 0 28 0 13 1-59 0 39 0 14 0 10 0 41 2-97 0 15 0 22 1-32 0 32 0 17 0 6 0 23 1-92 0 1 0 23 0 24 0 15 0 6 0 29 1-94 0 4 0 2 0 3 0 5 0 1 0 12 0 8 0 19 0 4 0 3 0 39 0 4 1-100 0 5 0 2 0 7 0 11 0 7 0 4 0 4 0 31 0 10 1-76 0 9 0 8 0 3 0 41 1-66 0 11 0 15 0 13 0 16 1-63 0 18 0 1 0 3 0 20 0 18 0 55 1-99 0 29 0 14 1-55 0 6 0 2 0 12 0 0 0 2 0 6 0 11 0 0 0 12 0 0 0 1 0 1 0 28 1-81 0 6 0 7 0 12 0 16 0 8 1-42 0 5 0 2 0 30 1-40 0 28 0 11 1-46 0 7 0 8 0 14 0 11 0 7 0 0 0 19 1-57 0 57 0 25 1-13 0 18 1-76 0 2 0 10 1-22 0 3 0 20 0 43 1-23 0 16 2-62 0 14 1 0 1-16 4 33 1 68 8-14 6-43 8-12 3-17 11 36 6-27 9 41 14 9" marker-start="url(#pa)" marker-mid="url(#pa)" marker-end="url(#pa)"/>
<path d="M213 37V633.7H884.3" stroke="#000" stroke-width="2.5"/>
<path d="M207 141.6H213M207 218.6H213M207 296.5H213M207 373.9H213M207 451.6H213M207 529.1H213M207 606.9H213M313.50 633.7V638.6M553.25 633.7V638.6M793.00 633.7V638.6" stroke="#000" stroke-width="1.8"/>
<text x="133.25" y="149.90"><tspan font-size="46.3">10</tspan><tspan font-size="27" dy="-18.70">3</tspan></text>
<text x="134.55" y="226.00"><tspan font-size="46.3">10</tspan><tspan font-size="27" dy="-19.00">2</tspan></text>
<text x="134.55" y="303.60"><tspan font-size="46.3">10</tspan><tspan font-size="27" dy="-18.80">1</tspan></text>
<text x="174.55" y="385.00" font-size="46.3">1</text>
<text x="129.45" y="463.50"><tspan font-size="46.3">10</tspan><tspan font-size="29" dx="0.5" dy="-18.10">-1</tspan></text>
<text x="129.45" y="534.90"><tspan font-size="46.3">10</tspan><tspan font-size="29" dx="0.5" dy="-18.30">-2</tspan></text>
<text x="130.15" y="611.00"><tspan font-size="46.3">10</tspan><tspan font-size="29" dx="0.5" dy="-18.80">-3</tspan></text>
<text x="265.46" y="675.50" font-size="46.3">-0.5</text>
<text x="540.69" y="675.50" font-size="46.3">0</text>
<text x="762.69" y="675.50" font-size="46.3">0.5</text>
<text x="178.56" y="728.00" font-size="46.3">change in polyadenylation site usage</text>
<text transform="translate(108.75 606.06) rotate(-90)"><tspan font-size="46.8">-log</tspan><tspan font-size="27" dy="9.00">10</tspan><tspan font-size="46.8" dy="-9.00">(adjusted p-value)</tspan></text>
<text x="335.75" y="70.75" font-size="46.3">shift (# of transcripts)</text>
<text x="287.04" y="119.00" font-size="46.3">proximal</text>
<text x="507.94" y="120.75" font-size="46.3">none</text>
<text x="702.06" y="122.50" font-size="46.3">distal</text>
<text x="318.69" y="169.60" font-size="46.3">6388</text>
<text x="504.95" y="170.00" font-size="46.3">1780</text>
<text x="702.51" y="170.00" font-size="46.3">8425</text>
<text x="223.13" y="568.75" font-size="46.3">(control/M3KO)</text>
<text x="228.06" y="613.75" font-size="46.3">all transcript isoforms</text>
<path d="M262 131.75H853" stroke="#333" stroke-width="2.9"/>
<path d="M232.2 131.75L266.6 119.3L262 131.75L266.6 144.2Z" style="fill:#333"/>
<path d="M882.8 131.75L848.4 119.3L853 131.75L848.4 144.2Z" style="fill:#333"/>
<text x="107.96" y="41.00" font-size="46.3" font-weight="bold">a</text>
<path d="M1291.3 77.5V600.75H1438" stroke="#000" stroke-width="2.5"/>
<path d="M1285.5 157H1291.3M1285.5 297H1291.3M1285.5 437H1291.3M1285.5 577H1291.3" stroke="#000" stroke-width="2"/>
<text x="1198.70" y="178.75"><tspan font-size="46.3">10</tspan><tspan font-size="46.3" dy="-17.50">4</tspan></text>
<text x="1198.70" y="320.00"><tspan font-size="46.3">10</tspan><tspan font-size="46.3" dy="-18.75">3</tspan></text>
<text x="1195.95" y="456.25"><tspan font-size="46.3">10</tspan><tspan font-size="46.3" dy="-18.75">2</tspan></text>
<text x="1198.70" y="595.00"><tspan font-size="46.3">10</tspan><tspan font-size="46.3" dy="-18.75">1</tspan></text>
<path d="M1365 221V323.75M1365 394.5V451.25" stroke="#2b2b2b" stroke-width="2.4"/>
<rect x="1298" y="323.75" width="134" height="70.75" style="fill:#fff" stroke="#2b2b2b" stroke-width="2.5"/>
<path d="M1298 376.25H1432" stroke="#333" stroke-width="5"/>
<path d="M1365 123.75h0M1365 143.25h0M1365 150V218" stroke="#333" stroke-width="10" stroke-linecap="round"/>
<text transform="translate(1133.75 525.60) rotate(-90)" font-size="46.3">length change</text>
<text transform="translate(1185.50 590.37) rotate(-90)" font-size="46.3">(distal-proximal site)</text>
<text x="1059.99" y="37.60" font-size="46.3" font-weight="bold">b</text>
<path d="M1787.0 297.4L1976.33 367.81A202.0 202.0 0 1 1 1783.12 95.44Z" style="fill:#80e5ff" stroke="#000" stroke-width="6.8" stroke-linejoin="round"/>
<path d="M1787.0 297.4L1783.12 95.44A202.0 202.0 0 0 1 1956.41 187.38Z" style="fill:#ff8080" stroke="#000" stroke-width="6.8" stroke-linejoin="round"/>
<path d="M1787.0 297.4L1956.41 187.38A202.0 202.0 0 0 1 1976.33 367.81Z" style="fill:#99ff4d" stroke="#000" stroke-width="6.8" stroke-linejoin="round"/>
<path d="M1959.4 93.2L1861.5 141.2M2030.4 195.7L1932.6 243.7" stroke="#1a1a1a" stroke-width="2.7"/>
<text x="1960.55" y="105.30" font-size="46.3">16%</text>
<text x="2031.35" y="209.30" font-size="46.3">15%</text>
<text x="1817.13" y="199.40" font-size="46.3">&gt;1</text>
<text x="1861.19" y="300.45" font-size="46.3">0.5-1</text>
<text x="1735.88" y="395.70" font-size="46.3">69%</text>
<text x="1729.23" y="436.25" font-size="46.3">&lt;0.5</text>
<text x="1610.67" y="561.25" font-size="46.7">length change (kb)</text>
<text x="1570.89" y="31.60" font-size="46.3" font-weight="bold">c</text>
<path d="M141 974l1 105 14-33 13-9 1-26 9 43 2-17 4-82 2 63 1-8 1 45 6-101 1 93 2-83 1 16 0 25 0 4 3-38 7-3 1 19 3 44 1-86 1 101 0 15 0 12 1-106 2 70 1-72 0 17 3 5 0 3 1 4 2-8 0 41 2-32 0 90 3-53 5-35 1-3 1 48 0 7 4-82 0 27 0 35 2-34 0 46 2-43 1 32 1-49 0 63 0 5 0 2 1-49 2-26 0 13 1 91 1-103 0 93 1-25 0 9 0 23 1-80 0 14 1-16 0 16 0 6 1 79 1-176 0 103 0 20 1-12 1-31 0 18 0 49 1-32 0 11 0 9 2-64 0 54 0 18 1 8 1-106 0 24 1 18 0 43 1-73 0 1 0 18 0 42 1-25 1 11 0 6 0 10 0 16 0 10 0 3 1-87 0 25 0 33 1-51 0 21 0 34 0 12 1-62 0 4 0 17 0 38 1-37 0 35 0 20 1-110 0 33 0 3 0 42 0 3 0 2 0 9 1-89 0 10 0 26 0 20 0 6 0 1 1-74 0 12 0 44 1 17 0 24 0 12 1 7 1-103 0 33 0 6 0 2 0 44 1-86 0 60 0 14 0 3 0 2 1-59 0 13 0 54 0 57 1-149 1-6 0 8 0 46 0 1 0 46 0 8 1-87 0 19 0 14 0 6 0 33 0 14 0 38 1-117 0 14 0 8 0 21 0 1 0 13 1-85 0 1 0 81 0 3 0 1 0 28 1-85 0 0 0 50 1-58 0 3 0 5 0 25 0 0 0 1 0 11 0 0 0 11 0 23 1-123 0 17 0 46 0 12 0 0 0 7 0 11 0 7 1-57 0 7 0 25 0 20 0 32 0 36 1-91 0 15 0 35 1-134 0 27 0 32 0 5 0 21 0 3 0 3 0 4 0 13 0 9 0 6 0 17 1-79 0 14 0 26 0 4 1-69 0 34 0 8 0 15 0 0 0 6 0 21 0 17 0 29 1-129 0 24 0 25 0 17 0 49 1-91 0 19 0 7 0 2 0 19 0 10 0 1 0 6 0 5 0 8 0 16 1-93 0 1 0 2 0 7 0 10 0 5 0 6 0 3 0 10 0 17 0 12 0 25 0 20 1-169 0 23 0 13 0 19 0 19 0 9 0 42 0 7 1-88 0 18 0 21 0 5 0 10 0 27 0 10 0 4 1-96 0 4 0 16 0 6 0 1 0 22 0 24 0 29 0 14 0 30 1-154 0 24 0 9 0 14 0 22 0 24 0 82 1-219 0 41 0 5 0 34 0 10 0 11 0 8 1-53 0 0 0 30 0 9 0 0 0 21 0 2 0 21 1-97 0 32 0 6 0 9 0 14 0 4 0 1 0 4 0 3 0 3 0 0 0 14 0 10 1-91 0 1 0 4 0 23 0 6 0 37 0 8 1-74 0 3 0 16 0 0 0 6 0 8 0 31 0 5 0 45 0 20 1-155 0 28 0 5 0 11 0 25 0 8 0 1 0 11 0 13 1-100 0 51 0 8 0 33 0 10 0 0 1-129 0 24 0 14 0 8 0 10 0 3 0 3 0 26 0 1 0 6 0 2 0 18 0 7 0 14 1-136 0 8 0 44 0 1 0 1 0 12 0 11 0 1 0 1 0 9 0 17 0 2 0 25 0 34 1-96 0 1 0 13 0 3 0 2 0 1 0 1 0 16 0 0 0 19 0 2 0 14 1-156 0 20 0 28 0 8 0 6 0 9 0 3 0 7 0 13 0 2 0 3 0 2 0 11 0 28 0 19 0 3 1-114 0 18 0 5 0 6 0 6 0 13 0 18 0 2 0 2 0 29 0 16 1-109 0 19 0 24 0 7 0 2 0 5 0 8 0 1 0 3 0 73 1-181 0 42 0 19 0 8 0 7 0 44 0 0 0 3 1-85 0 5 0 10 0 9 0 6 0 0 0 30 1-122 0 50 0 20 0 9 0 7 0 2 0 1 0 6 0 1 0 3 0 2 0 10 0 14 0 10 0 1 0 41 1-145 0 22 0 26 0 33 0 4 0 1 0 1 0 4 0 31 1-103 0 11 0 0 0 2 0 9 0 4 0 14 0 2 0 11 0 16 0 8 0 13 0 9 0 46 1-154 0 4 0 7 0 17 0 21 0 2 0 1 0 6 0 0 0 4 0 6 0 4 0 22 0 8 0 1 0 7 0 38 1-183 0 13 0 4 0 1 0 41 0 5 0 25 0 3 0 6 0 2 0 15 0 1 0 17 0 7 0 3 1-99 0 9 0 9 0 5 0 35 0 2 0 12 0 4 0 7 0 1 1-62 0 2 0 7 0 4 0 17 0 7 0 3 0 1 0 3 0 9 0 2 0 8 0 9 0 11 1-129 0 20 0 12 0 3 0 6 0 11 0 7 0 1 0 1 0 11 0 8 0 1 0 8 0 1 0 1 0 4 0 5 0 1 0 7 0 6 0 10 0 13 1-189 0 101 0 6 0 2 0 5 0 25 0 12 0 8 0 4 0 0 0 24 1-135 0 39 0 19 0 8 0 2 0 1 0 8 0 44 0 43 1-173 0 7 0 43 0 5 0 5 0 23 0 1 0 7 0 4 0 9 0 5 0 0 0 20 0 26 1-143 0 48 0 2 0 1 0 2 0 32 0 1 0 16 0 6 0 14 0 11 1-136 0 27 0 1 0 9 0 1 0 2 0 19 0 3 0 16 0 12 0 18 0 11 0 17 0 5 0 1 1-135 0 6 0 7 0 27 0 10 0 3 0 4 0 2 0 9 0 4 0 3 0 5 0 2 0 7 0 12 0 14 0 21 1-156 0 26 0 35 0 5 0 1 0 12 0 20 0 6 0 7 0 3 0 4 0 25 1-104 0 22 0 8 0 1 0 1 0 4 0 4 0 25 0 21 0 6 0 26 1-143 0 23 0 16 0 4 0 18 0 0 0 4 0 9 0 23 0 0 0 4 0 4 0 17 1-114 0 40 0 6 0 4 0 1 0 17 0 4 0 8 0 3 0 9 0 18 0 31 0 11 1-131 0 1 0 9 0 5 0 0 0 2 0 28 0 6 0 0 0 4 0 2 0 7 0 2 0 7 0 6 1-71 0 10 0 1 0 13 0 5 0 2 0 2 0 1 0 4 0 2 0 3 0 8 0 4 0 13 0 1 0 5 0 0 0 15 0 12 0 25 1-134 0 4 0 24 0 1 0 0 0 10 0 12 0 3 0 3 0 6 0 1 0 0 0 10 0 5 0 8 0 1 0 20 0 10 1-133 0 14 0 13 0 5 0 2 0 4 0 2 0 13 0 1 0 2 0 6 0 2 0 1 0 1 0 3 0 2 0 16 0 4 0 7 0 1 0 13 0 5 0 19 0 26 1-165 0 5 0 4 0 2 0 9 0 27 0 5 0 20 0 15 0 2 0 1 0 5 0 14 0 22 0 22 1-171 0 6 0 10 0 26 0 18 0 11 0 3 0 0 0 2 0 7 0 6 0 4 0 3 0 4 0 2 0 33 0 33 1-151 0 16 0 16 0 0 0 10 0 1 0 11 0 16 0 12 0 4 0 10 0 5 0 4 0 13 0 2 0 1 0 2 0 47 1-192 0 64 0 17 0 7 1-64 0 41 0 2 0 2 0 19 0 4 0 8 0 3 0 1 0 1 0 2 0 5 0 76 1-153 0 21 0 9 0 3 0 6 0 11 0 11 0 5 0 0 0 6 0 10 0 7 0 1 0 2 0 12 0 72 1-230 0 41 0 3 0 2 0 6 0 39 0 8 0 1 0 10 0 0 0 18 0 7 0 14 0 1 0 10 0 24 1-119 0 9 0 12 0 4 0 4 0 2 0 3 0 3 0 12 0 9 0 4 0 8 0 48 1-158 0 19 0 24 0 1 0 13 0 1 0 7 0 14 0 4 0 1 0 6 0 4 0 4 0 8 1-63 0 13 0 12 0 2 0 2 0 5 0 1 0 8 0 6 0 16 0 21 1-107 0 7 0 4 0 12 0 4 0 1 0 4 0 7 0 2 0 3 0 2 0 6 0 5 0 46 0 24 0 2 1-122 0 37 0 7 0 12 0 1 0 11 0 6 0 7 1-77 0 0 0 6 0 8 0 1 0 8 0 1 0 5 0 3 0 48 0 3 1-114 0 27 0 7 0 1 0 1 0 22 0 2 0 6 0 8 0 12 0 16 0 1 0 9 0 4 0 8 0 7 0 11 0 25 1-120 0 22 0 8 0 1 0 4 0 4 0 3 0 4 0 3 1-94 0 11 0 14 0 6 0 1 0 2 0 3 0 19 0 0 0 2 0 13 0 2 0 33 0 3 0 3 0 7 0 40 1-142 0 27 0 10 0 24 0 7 0 22 0 14 0 9 1-138 0 22 0 3 0 24 0 15 0 19 0 3 0 3 0 13 0 22 1-125 0 15 0 16 0 13 0 24 0 6 0 10 0 5 0 11 0 0 0 3 0 58 1-127 0 2 0 9 0 3 0 7 0 1 0 0 0 7 0 10 0 6 0 10 0 9 1-80 0 24 0 27 0 2 0 4 0 8 0 9 0 24 0 1 0 4 0 8 1-138 0 34 0 10 0 22 0 1 0 0 0 2 0 14 0 8 0 6 0 27 0 7 0 8 0 14 0 2 1-125 0 2 0 6 0 25 0 9 0 40 0 20 0 24 0 18 1-145 0 27 0 9 0 2 0 2 0 0 0 8 0 1 0 13 0 22 0 6 0 2 0 1 0 23 0 14 0 1 1-125 0 4 0 11 0 2 0 1 0 45 0 1 0 5 0 0 0 4 0 37 0 2 0 10 1-112 0 10 0 6 0 8 0 18 0 10 0 18 0 8 0 9 0 26 0 3 1-132 0 19 0 9 0 2 0 8 0 6 0 8 0 1 0 18 0 6 0 18 0 11 1-92 0 6 0 18 0 2 0 0 0 9 0 0 0 0 0 14 0 1 0 1 0 22 0 13 1-59 0 4 0 1 0 17 0 8 0 1 0 5 0 11 0 44 1-114 0 9 0 22 0 6 0 0 0 37 0 33 1-155 0 41 0 9 0 1 0 6 0 2 0 3 0 6 0 20 0 4 0 2 0 12 0 8 0 2 0 7 0 1 1-112 0 29 0 14 0 15 0 0 0 8 0 9 0 4 0 8 0 0 0 12 0 15 0 2 0 2 0 2 0 2 1-119 0 23 0 6 0 22 0 22 0 11 0 7 0 5 0 20 1-80 0 6 0 10 0 4 0 1 0 2 0 11 0 22 0 1 0 13 0 3 0 34 1-117 0 4 0 8 0 9 0 6 0 39 0 37 1-101 0 8 0 3 0 38 0 12 0 8 0 8 0 6 1-67 0 0 0 10 0 28 0 10 0 2 0 11 0 3 0 24 0 6 1-67 0 12 0 0 0 23 0 10 1-110 0 28 0 4 0 36 0 28 0 13 1-115 0 25 0 10 0 26 0 18 0 8 0 15 0 8 0 20 1-103 0 0 0 16 0 2 0 2 0 5 0 12 0 10 0 1 0 4 0 4 0 13 0 5 0 3 0 1 0 15 1-62 0 15 0 6 0 1 0 3 0 38 0 37 1-119 0 26 0 7 0 10 0 37 0 19 0 2 0 5 1-122 0 10 0 2 0 53 0 1 0 1 0 4 0 2 0 6 0 5 0 5 0 17 1-120 0 15 0 9 0 16 0 23 0 4 0 4 0 25 0 16 1-72 0 6 0 8 0 0 0 11 0 23 0 0 0 1 0 1 0 7 0 10 0 12 1-107 0 3 0 18 0 42 0 19 0 4 1-82 0 12 0 7 0 47 0 33 1-96 0 29 0 19 0 12 1-108 0 64 0 8 0 6 0 1 0 20 0 59 1-89 0 3 0 6 0 4 0 1 0 2 0 1 0 4 0 7 0 10 0 1 0 5 0 12 0 6 1-46 0 12 0 9 0 27 0 35 1-92 0 6 0 19 0 30 1-103 0 21 0 2 0 21 0 20 0 3 0 19 0 9 0 5 0 2 0 1 0 3 0 12 1-106 0 6 0 22 0 4 0 14 0 3 0 37 0 57 1-122 0 11 0 2 0 3 0 3 0 4 0 8 0 2 0 10 1-79 0 19 0 36 0 7 0 6 0 1 0 36 1-65 0 3 0 18 0 2 0 39 0 3 0 7 0 37 1-192 0 43 0 16 0 4 0 31 0 14 0 27 0 24 0 28 1-161 0 56 0 27 0 12 1-97 0 33 0 4 0 34 0 6 0 9 0 2 0 4 0 3 0 1 1-33 0 11 0 11 0 9 0 15 0 57 1-124 0 8 0 4 0 2 0 26 1-38 0 1 0 5 0 4 0 2 0 14 0 1 0 12 0 6 0 34 0 33 1-139 0 12 0 20 0 22 0 3 0 23 1-72 0 17 0 4 0 28 0 10 0 40 1-90 0 13 0 37 0 8 0 14 1-6 0 39 1-96 0 11 0 29 0 2 0 32 0 10 1-52 0 9 0 8 1-52 0 65 0 29 1-91 0 9 0 3 0 19 0 4 0 29 0 2 0 9 0 10 0 19 1-116 0 22 0 53 0 2 0 0 1-67 0 33 0 23 1-65 0 21 0 28 0 4 1-12 0 6 0 2 0 4 0 2 0 5 0 50 1-113 0 27 0 21 1 34 0 21 0 23 1-137 0 23 0 20 0 7 0 4 0 6 0 4 0 15 0 7 0 2 0 13 0 27 1-100 0 69 1-62 0 8 0 11 0 2 0 36 1-41 0 3 0 3 0 11 0 0 1-38 0 52 1-52 0 12 0 4 0 47 1-64 0 9 0 63 0 30 1-103 0 49 0 3 1-57 0 101 1-97 0 17 0 47 0 13 1-70 0 15 0 17 1-63 0 84 1-91 0 58 0 3 1-68 0 26 0 53 0 27 0 9 1-79 1-2 0 45 0 4 1-9 0 13 0 12 1-91 0 8 0 35 0 21 1-62 0 18 0 26 1-37 0 36 0 4 0 9 0 31 0 12 1-80 0 41 0 19 0 53 1-111 0 11 0 41 0 2 0 13 0 23 1-76 0 39 0 45 1-53 0 27 1-73 0 28 0 52 1-43 0 28 0 24 1-94 0 48 1-58 0 49 1-14 1 25 0 19 0 27 1-68 0 16 1-24 0 19 0 10 1-28 0 29 1-29 0 22 0 37 1-68 0 21 1-58 0 91 0 16 1-37 0 15 0 32 1-82 0 5 0 4 0 27 0 19 1-83 0 10 0 57 0 61 1-34 0 3 1-86 0 50 0 12 0 20 0 19 0 24 1-132 0 49 0 61 1-55 0 63 2-103 0 23 0 4 0 27 1-47 0 29 0 49 1-56 0 12 0 11 0 30 1-91 0 24 0 69 0 17 1 27 1-139 0 40 0 3 1-6 1-15 0 10 0 35 1-46 0 50 0 43 0 71 1-72 1-19 2-85 0 10 0 32 0 46 2-67 1 26 0 57 1-101 0 47 0 9 1-50 1-16 1 67 0 54 1-71 1 11 0 3 0 3 4 1 2-7 1 10 1-23 0 6 3-57 2 7 1 8 0 5 1 53 1-80 0 111 1-41 1 10 1-14 3-42 1 33 0 29 2-65 2 26 2 21 2-43 0 22 0 34 1-42 3 32 1-35 2-21 0 56 5-81 0 20 2 46 3-3 1-60 1 32 17 44 0 6 7 4" marker-start="url(#pd)" marker-mid="url(#pd)" marker-end="url(#pd)"/>
<path d="M355 1217.5V864" stroke="#a8a8a8" stroke-width="5" stroke-dasharray="19.8 9.7"/>
<path d="M147.5 1052L557.5 975.5" stroke="#1d8488" stroke-width="2.7"/>
<path d="M123.6 852.5V1217.5H587.5" stroke="#000" stroke-width="2.5" stroke-linejoin="round"/>
<path d="M118.1 915.00H123.6M118.1 957.29H123.6M118.1 1055.50H123.6M118.1 1097.79H123.6M118.1 1196.00H123.6M143.80 1217.5V1222.7M214.20 1217.5V1222.7M284.60 1217.5V1222.7M355.00 1217.5V1222.7M422.40 1217.5V1222.7M495.80 1217.5V1222.7M566.20 1217.5V1222.7" stroke="#000" stroke-width="2.1"/>
<text x="122.90" y="1261.75" font-size="46.3">-3</text>
<text x="193.46" y="1261.75" font-size="46.3">-2</text>
<text x="266.93" y="1261.75" font-size="46.3">-1</text>
<text x="341.81" y="1261.75" font-size="46.3">0</text>
<text x="413.94" y="1261.75" font-size="46.3">1</text>
<text x="482.63" y="1261.75" font-size="46.3">2</text>
<text x="553.14" y="1261.75" font-size="46.3">3</text>
<text x="127.04" y="870.00" font-size="46.3">proximal APA shift</text>
<text x="128.06" y="910.00" font-size="46.3">control</text>
<text x="133.01" y="1151.00"><tspan font-size="46.3" font-style="italic">r</tspan><tspan font-size="46.3"> = 0.30</tspan></text>
<text x="127.13" y="1201.75"><tspan font-size="46.3">(p &lt; 2.2e</tspan><tspan font-size="29.5" dy="-19.30">-16</tspan><tspan font-size="46.3" dx="2.8" dy="19.30">)</tspan></text>
<text x="65.95" y="923.75" font-size="46.3">10</text>
<text x="90.65" y="965.00" font-size="46.3">5</text>
<text x="90.95" y="1063.75" font-size="46.3">1</text>
<text x="51.94" y="1105.75" font-size="46.3">0.5</text>
<text x="53.69" y="1203.00" font-size="46.3">0.1</text>
<text transform="translate(35.00 1257.44) rotate(-90)" font-size="46.3">transcript length (kb)</text>
<text x="224.38" y="1308.00"><tspan font-size="46.5">log</tspan><tspan font-size="29.5" dy="8.70">2</tspan><tspan font-size="46.5" dy="-8.70">-fold change (SG/total mRNA)</tspan></text>
<text x="36.60" y="813.30" font-size="46.3" font-weight="bold">d</text>
<path d="M650 981l0 53 0 0 11 18 1-61 6 25 7 22 1-24 4 2 0 19 5 14 1-15 1-5 1-40 2-17 4 118 3 21 2-106 2-67 1-9 0 98 0 14 1 20 1-72 3 5 1-12 3-21 3 34 1 25 1 42 3-56 5-25 1-3 0 18 2-53 0 87 0 2 2 62 1-61 2-62 2-1 0 81 0 10 1-79 1-14 0 68 0 9 0 1 1-41 0 52 3-31 0 8 0 23 1-32 4-4 0 3 0 64 4-88 3-33 0 21 0 26 5 46 1-17 2-59 0 7 0 10 1-12 1 32 0 3 0 20 1-121 1 61 0 57 1 60 1-79 1 26 1-82 1 51 1 13 0 0 1-12 0 34 1-43 0 6 0 60 1-75 1-10 0 2 0 39 1-53 0 28 0 75 1-109 0 3 0 48 0 1 1-25 1 6 0 38 1-103 0 69 0 1 0 26 0 4 1-67 0 24 0 73 0 5 1-100 0 43 0 23 1-91 0 28 0 45 0 0 0 18 1-45 0 32 1-74 0 16 0 25 0 67 1-117 0 26 0 34 1-10 0 4 0 21 0 6 0 4 1-46 0 44 1-66 0 119 1-119 0 54 0 39 1-87 0 4 0 3 0 40 0 47 1-74 0 19 0 11 0 26 0 20 1-92 0 6 0 16 0 4 0 0 0 14 0 49 0 20 0 8 1-120 0 10 0 36 0 3 0 7 0 25 1-82 0 17 0 6 1 2 0 13 0 0 0 34 0 75 1-116 0 1 0 39 1-82 0 66 0 20 0 32 1-152 0 27 0 9 0 19 0 6 0 20 0 13 0 0 0 4 0 34 0 20 1-112 0 4 0 14 0 9 0 1 0 4 0 14 0 5 0 14 0 36 1-82 0 1 0 15 1-6 0 32 0 8 0 0 1-48 0 22 0 9 0 4 0 6 0 16 1-82 0 5 0 29 0 0 0 9 0 2 1-29 0 54 0 11 0 7 0 5 1-88 0 10 0 18 0 1 0 1 0 53 1-90 0 2 0 27 0 14 0 15 0 1 0 23 1-57 0 37 0 14 1-68 0 14 0 1 0 0 0 3 0 16 0 17 0 19 0 7 0 14 1-69 0 46 0 0 0 28 1-90 0 14 0 35 0 55 1-170 0 60 0 5 0 3 0 9 0 49 0 17 1-118 0 2 0 19 0 14 0 2 0 2 0 5 0 21 0 9 0 1 0 4 0 2 0 1 0 4 0 8 0 6 0 3 0 6 1-74 0 28 0 10 0 12 0 18 0 1 1-86 0 0 0 5 0 33 0 31 0 16 0 1 0 8 0 5 1-60 0 20 0 15 0 18 0 17 0 48 1-212 0 68 0 11 0 3 0 19 0 2 0 19 0 8 0 10 0 14 1-102 0 14 0 6 0 18 0 6 0 16 0 6 0 23 1-65 0 21 0 0 0 22 0 5 0 10 1-97 0 35 0 24 0 3 0 6 0 8 0 1 0 0 0 1 0 5 0 9 0 0 0 39 0 4 0 32 1-141 0 14 0 25 0 4 0 37 1-80 0 9 0 6 0 22 0 0 0 6 0 25 0 1 1-16 0 13 0 16 0 3 0 5 0 13 1-94 0 19 0 4 0 0 0 5 0 2 0 4 0 5 0 6 0 2 0 14 0 8 0 1 0 32 0 67 1-185 0 15 0 17 0 0 0 7 0 7 0 6 0 7 0 13 0 3 0 21 1-104 0 43 0 47 0 8 0 14 1-145 0 44 0 4 0 13 0 5 0 22 0 4 0 0 0 7 0 1 0 2 0 17 0 18 0 11 1-93 0 14 0 5 0 6 0 4 0 9 0 5 0 7 0 1 0 5 0 4 1-85 0 29 0 11 0 2 0 21 0 4 0 0 0 15 0 14 0 6 0 13 0 17 1-122 0 6 0 7 0 5 0 10 0 23 0 1 0 9 0 1 0 12 0 28 0 14 1-76 0 8 0 19 0 32 0 6 1-95 0 4 0 2 0 10 0 12 0 1 0 0 0 1 0 17 0 3 0 0 0 1 0 1 0 6 0 15 1-105 0 15 0 5 0 24 0 25 0 1 0 35 0 13 0 6 0 33 1-127 0 0 0 17 0 8 0 2 0 1 0 7 0 1 0 1 0 1 0 12 0 2 0 0 0 2 0 2 0 3 0 1 0 1 0 4 0 8 0 24 0 13 0 12 0 3 1-143 0 22 0 7 0 23 0 3 0 10 0 6 0 1 0 6 0 14 0 3 0 0 0 3 1-64 0 8 0 9 0 5 0 2 0 6 0 6 0 0 0 0 0 23 0 1 0 11 1-99 0 13 0 18 0 3 0 24 0 3 0 5 0 2 0 3 0 3 0 0 0 4 0 1 0 1 0 1 0 19 0 2 0 5 0 8 1-133 0 46 0 13 0 12 0 5 0 9 0 1 0 4 0 2 0 1 0 14 0 7 0 7 1-89 0 11 0 2 0 8 0 2 0 2 0 8 0 5 0 8 0 3 0 0 0 8 0 2 0 0 0 0 0 2 0 14 0 4 0 7 0 11 0 3 1-131 0 29 0 12 0 3 0 11 0 2 0 4 0 3 0 12 0 1 0 6 0 2 0 14 0 36 0 12 1-109 0 25 0 10 0 17 0 2 0 6 0 11 0 12 0 3 0 28 1-128 0 8 0 9 0 52 0 1 0 4 0 4 0 15 1-94 0 11 0 1 0 7 0 5 0 0 0 6 0 9 0 6 0 14 0 2 0 9 0 2 0 1 0 13 0 4 0 3 0 1 1-92 0 2 0 26 0 6 0 2 0 0 0 1 0 14 0 5 0 5 0 16 0 13 0 3 0 34 0 21 1-154 0 8 0 26 0 3 0 2 0 3 0 4 0 1 0 2 0 1 0 1 0 18 0 18 0 1 0 16 0 11 1-130 0 13 0 1 0 1 0 11 0 12 0 16 0 7 0 3 0 3 0 4 0 5 0 13 0 3 0 3 0 12 1-112 0 34 0 4 0 2 0 18 0 4 0 2 0 2 0 10 0 5 0 1 0 4 0 15 0 8 0 0 0 40 1-137 0 22 0 0 0 1 0 14 0 7 0 11 0 3 0 6 0 2 0 6 0 4 0 4 0 1 0 12 0 0 0 13 0 3 0 13 1-112 0 3 0 5 0 6 0 26 0 12 0 0 0 2 0 4 0 2 0 15 0 18 0 7 1-93 0 1 0 6 0 2 0 3 0 11 0 3 0 1 0 1 0 20 0 0 0 4 0 2 0 1 0 3 0 7 0 6 0 2 0 0 0 11 1-99 0 5 0 4 0 8 0 21 0 6 0 3 0 1 0 7 0 7 0 1 0 5 0 1 0 2 0 2 0 1 0 4 0 33 0 30 1-133 0 6 0 1 0 7 0 7 0 14 0 3 0 14 0 6 0 7 0 4 0 7 0 2 0 2 0 1 0 12 0 4 0 16 0 13 0 0 0 26 1-163 0 26 0 9 0 16 0 15 0 0 0 2 0 1 0 6 0 16 0 8 0 6 0 7 0 43 1-142 0 9 0 0 0 9 0 3 0 1 0 4 0 8 0 3 0 3 0 2 0 0 0 6 0 3 0 1 0 13 0 13 0 2 0 3 1-112 0 28 0 0 0 13 0 8 0 13 0 15 0 0 0 10 0 5 0 6 0 6 0 13 0 5 0 44 1-146 0 26 0 1 0 23 0 3 0 6 0 1 0 4 0 3 0 17 0 9 0 0 0 10 0 17 0 2 0 5 0 6 0 6 0 8 1-138 0 29 0 0 0 9 0 3 0 20 0 21 0 0 0 2 0 15 0 11 0 1 1-85 0 7 0 4 0 3 0 13 0 10 0 4 0 4 0 10 0 10 0 3 0 3 1-99 0 6 0 2 0 10 0 1 0 3 0 7 0 4 0 2 0 12 0 3 0 7 0 0 0 5 0 1 0 1 0 0 0 11 0 8 0 8 0 5 0 9 1-123 0 21 0 3 0 11 0 9 0 1 0 2 0 3 0 2 0 10 0 21 0 2 0 6 0 9 0 6 0 5 0 4 0 5 0 2 0 4 0 13 0 2 0 9 1-135 0 12 0 4 0 7 0 6 0 13 0 4 0 3 0 3 0 2 0 1 0 3 0 3 0 6 0 1 0 9 0 3 0 3 0 3 0 15 0 5 1-103 0 3 0 3 0 1 0 13 0 2 0 6 0 10 0 1 0 2 0 2 0 7 0 11 0 10 0 1 0 5 0 1 0 11 0 0 0 2 0 1 0 4 0 3 0 9 0 11 0 19 1-160 0 16 0 20 0 2 0 0 0 2 0 5 0 13 0 4 0 1 0 13 0 3 0 1 0 1 0 3 0 9 0 2 0 0 0 2 0 3 0 2 0 13 1-103 0 2 0 25 0 10 0 7 0 13 0 5 0 15 0 2 0 4 0 19 0 3 0 10 0 0 0 17 1-135 0 12 0 20 0 2 0 1 0 0 0 3 0 7 0 6 0 4 0 9 0 11 0 3 0 2 0 5 0 17 0 1 0 14 1-146 0 34 0 12 0 5 0 3 0 1 0 11 0 2 0 3 0 10 0 12 0 1 0 8 0 3 0 6 0 4 0 1 0 21 0 6 0 1 0 4 1-135 0 11 0 1 0 2 0 6 0 17 0 12 0 4 0 2 0 5 0 0 0 3 0 10 0 1 0 0 0 9 0 3 0 1 0 2 0 4 0 1 0 12 0 4 0 4 0 1 0 3 0 0 0 9 0 1 0 32 1-119 0 3 0 5 0 1 0 0 0 8 0 1 0 10 0 8 0 7 0 1 0 7 0 17 0 18 0 9 0 11 0 24 1-127 0 9 0 6 0 1 0 2 0 16 0 9 0 1 0 9 0 9 0 3 0 13 0 12 0 2 0 15 0 13 0 10 1-197 0 41 0 2 0 18 0 1 0 7 0 4 0 9 0 6 0 2 0 1 0 4 0 11 0 2 0 0 0 2 0 2 0 14 0 2 0 7 0 0 0 0 1-104 0 8 0 4 0 1 0 5 0 21 0 4 0 5 0 4 0 5 0 11 0 15 0 6 0 1 0 0 0 3 0 2 0 9 0 13 1-123 0 23 0 10 0 0 0 6 0 15 0 5 0 6 0 3 0 4 0 4 0 6 0 1 0 9 0 3 0 5 0 9 1-120 0 35 0 14 0 0 0 14 0 3 0 0 0 28 0 1 0 1 0 5 0 2 0 2 0 20 0 0 0 1 0 3 0 9 0 8 1-117 0 7 0 3 0 15 0 0 0 8 0 3 0 0 0 5 0 3 0 8 0 12 0 3 0 12 0 2 0 2 0 5 0 3 0 5 0 9 0 12 0 8 0 12 1-124 0 8 0 1 0 1 0 8 0 5 0 1 0 0 0 2 0 14 0 11 0 1 0 0 0 4 0 0 0 2 0 1 0 2 0 21 0 2 0 24 0 6 1-131 0 14 0 3 0 1 0 15 0 1 0 2 0 7 0 2 0 4 0 2 0 4 0 7 0 0 0 3 0 10 0 0 0 5 0 0 0 3 0 7 0 5 1-107 0 31 0 4 0 8 0 4 0 3 0 0 0 43 0 17 0 2 0 2 0 2 0 2 0 4 0 4 0 15 0 1 1-127 0 18 0 6 0 10 0 10 0 4 0 11 0 19 0 32 0 24 0 9 1-139 0 26 0 15 0 12 0 0 0 3 0 5 0 4 0 1 0 5 0 3 0 4 0 3 0 5 0 4 0 32 0 1 1-132 0 16 0 5 0 7 0 2 0 9 0 7 0 2 0 1 0 12 0 1 0 13 0 6 0 7 0 6 0 6 0 13 1-108 0 16 0 3 0 1 0 0 0 3 0 15 0 5 0 7 0 3 0 1 0 3 0 12 0 16 0 12 0 0 0 3 0 0 1-151 0 33 0 24 0 7 0 6 0 8 0 7 0 1 0 2 0 3 0 9 0 3 0 5 0 1 0 6 0 3 0 2 0 5 0 4 0 9 0 2 0 0 0 3 0 1 0 8 0 27 0 1 1-112 0 5 0 6 0 0 0 6 0 1 0 13 0 2 0 2 0 1 0 9 0 4 0 5 0 3 0 1 0 8 0 0 0 1 0 3 0 8 0 2 0 5 0 6 0 7 1-113 0 16 0 0 0 10 0 4 0 2 0 12 0 7 0 4 0 1 0 3 0 5 0 5 0 4 0 10 0 5 0 9 0 16 0 3 1-149 0 9 0 27 0 24 0 4 0 2 0 2 0 2 0 0 0 9 0 2 0 2 0 4 0 8 0 1 0 6 0 1 0 8 0 1 0 2 0 5 0 4 1-100 0 9 0 22 0 5 0 10 0 2 0 1 0 0 0 1 0 2 0 3 0 1 0 8 0 1 0 11 0 14 0 4 0 0 0 13 0 4 0 28 0 8 0 11 1-143 0 23 0 1 0 14 0 14 0 4 0 23 0 4 0 1 0 5 0 5 0 38 1-132 0 6 0 26 0 13 0 1 0 7 0 7 0 6 0 14 0 2 0 8 0 22 0 11 0 9 1-138 0 16 0 11 0 0 0 8 0 7 0 4 0 2 0 13 0 4 0 6 0 3 0 0 0 20 1-138 0 51 0 13 0 17 0 18 0 2 0 5 0 2 0 11 0 8 0 10 0 10 0 0 0 6 0 4 1-106 0 12 0 4 0 3 0 5 0 10 0 1 0 2 0 4 0 24 0 4 0 9 0 3 0 23 1-84 0 7 0 4 0 3 0 2 0 4 0 7 0 0 0 4 0 2 0 2 0 1 0 0 0 3 0 1 0 1 0 0 0 6 0 4 0 3 0 6 0 4 0 13 0 13 0 42 1-178 0 20 0 2 0 11 0 4 0 7 0 6 0 5 0 9 0 1 0 1 0 0 0 4 0 7 0 3 0 1 0 7 0 0 0 11 0 4 0 1 0 1 0 3 0 2 0 2 0 18 0 2 0 40 1-160 0 18 0 12 0 7 0 9 0 3 0 1 0 14 0 3 0 3 0 5 0 2 0 6 0 19 0 3 0 0 0 25 0 6 0 18 1-144 0 16 0 2 0 3 0 6 0 24 0 1 0 5 0 14 0 3 0 5 0 1 0 13 1-87 0 21 0 8 0 2 0 1 0 4 0 0 0 1 0 2 0 3 0 1 0 1 0 3 0 2 0 3 0 14 0 12 0 29 0 1 0 3 0 6 1-130 0 33 0 1 0 6 0 5 0 17 0 6 0 0 0 1 0 3 0 9 0 10 0 6 0 39 1-122 0 1 0 18 0 2 0 8 0 21 0 4 0 15 0 1 0 1 0 9 0 1 0 2 0 7 0 4 0 0 1-113 0 5 0 12 0 6 0 3 0 13 0 13 0 1 0 3 0 1 0 7 0 6 0 9 0 23 0 4 1-97 0 11 0 1 0 10 0 12 0 2 0 2 0 2 0 1 0 1 0 5 0 2 0 11 0 5 0 21 0 7 1-55 0 2 0 0 0 2 0 25 0 17 0 4 0 6 0 1 0 4 0 8 1-163 0 30 0 16 0 4 0 4 0 31 0 3 0 4 0 7 0 7 0 3 0 12 0 6 0 4 0 5 0 3 0 23 1-93 0 6 0 5 0 5 0 15 0 9 0 2 0 1 0 9 0 10 0 3 0 7 0 6 0 4 0 6 0 9 0 15 0 3 1-156 0 18 0 3 0 15 0 9 0 4 0 10 0 3 0 10 0 0 0 1 0 0 0 15 0 5 0 4 0 2 0 3 0 1 0 14 0 8 0 9 1-117 0 11 0 6 0 4 0 3 0 3 0 7 0 2 0 12 0 2 0 8 0 9 0 9 0 1 0 1 0 2 0 15 1-97 0 2 0 11 0 11 0 15 0 7 0 0 0 2 0 5 0 8 0 2 0 1 0 1 0 12 0 2 0 0 0 10 0 5 0 10 0 0 1-73 0 29 0 0 0 2 0 2 0 11 0 3 0 1 0 2 0 1 0 16 0 2 0 15 0 0 0 36 0 9 1-164 0 42 0 6 0 2 0 14 0 1 0 3 0 5 0 1 0 24 0 1 0 2 0 6 0 17 0 17 1-140 0 29 0 3 0 14 0 1 0 11 0 4 0 5 0 0 0 3 0 8 0 1 0 15 0 5 0 3 0 4 1-94 0 7 0 8 0 5 0 12 0 1 0 23 0 1 0 1 0 12 0 13 0 1 0 6 0 3 0 13 1-98 0 10 0 2 0 8 0 4 0 16 0 2 0 29 0 9 0 10 0 4 0 8 0 5 0 7 0 11 1-109 0 5 0 10 0 3 0 4 0 1 0 1 0 19 0 0 0 7 0 2 0 17 0 1 0 18 1-95 0 1 0 8 0 4 0 5 0 10 0 17 0 19 0 4 1-81 0 6 0 7 0 4 0 7 0 0 0 3 0 1 0 12 0 1 0 10 0 12 0 3 0 15 0 5 0 11 1-87 0 7 0 1 0 1 0 4 0 7 0 19 0 3 0 11 0 12 0 3 0 5 0 9 0 8 1-105 0 6 0 13 0 2 0 7 0 1 0 14 0 11 0 2 0 0 0 5 0 1 0 4 0 2 0 70 1-107 0 1 0 6 0 4 0 3 0 16 0 8 0 5 0 4 0 1 0 73 1-164 0 19 0 0 0 8 0 26 0 2 0 3 0 1 0 28 0 1 0 24 0 10 0 7 0 9 0 10 0 5 1-173 0 34 0 23 0 14 0 1 0 3 0 1 0 0 0 11 0 9 0 6 0 8 0 28 1-137 0 45 0 27 0 6 0 22 0 1 0 15 0 12 0 2 1-111 0 27 0 15 0 3 0 1 0 8 0 1 0 8 0 1 0 5 0 2 0 3 0 78 1-117 0 2 0 3 0 7 0 12 0 8 0 6 0 0 0 9 0 18 0 15 0 8 1-126 0 45 0 4 0 18 0 2 0 2 0 2 0 1 0 6 0 7 0 7 0 6 1-58 0 16 0 0 0 2 0 16 0 1 0 7 0 2 0 0 0 20 0 1 1-74 0 11 0 17 0 10 0 9 0 33 0 11 0 4 0 1 1-96 0 4 0 2 0 19 0 3 0 17 0 4 0 1 0 2 0 2 0 16 0 3 0 1 1-116 0 8 0 59 0 2 0 3 0 3 0 1 0 3 0 1 0 5 0 1 0 1 0 7 0 2 0 2 0 0 0 16 0 27 1-128 0 30 0 0 0 12 0 11 0 5 0 8 0 13 0 15 0 23 1-109 0 21 0 11 0 0 0 21 0 11 0 4 0 0 0 18 0 0 0 11 0 15 0 20 1-155 0 37 0 8 0 12 0 12 0 6 0 4 0 4 0 6 0 18 0 14 0 21 1-107 0 27 0 12 0 1 0 4 0 13 0 8 0 3 0 6 0 9 0 1 1-77 0 15 0 4 0 4 0 9 0 4 0 8 0 3 0 1 0 0 0 1 0 5 0 44 0 18 1-119 0 1 0 8 0 7 0 5 0 10 0 2 0 3 0 17 0 31 0 11 0 9 1-101 0 21 0 8 0 12 0 13 0 2 0 13 0 9 0 54 1-143 0 14 0 33 0 15 0 13 0 2 1-59 0 1 0 5 0 29 0 26 0 15 0 8 1-59 0 8 0 7 0 23 0 3 0 9 0 7 0 31 1-114 0 1 0 0 0 8 0 2 0 1 0 6 0 1 0 4 0 2 0 18 0 1 0 6 0 12 0 5 0 9 1-91 0 16 0 19 0 8 0 5 0 2 0 47 0 0 0 12 0 11 1-105 0 32 0 10 0 13 1-65 0 9 0 11 0 6 0 1 0 8 0 3 0 10 0 5 0 3 0 10 0 8 0 7 0 1 0 28 1-111 0 5 0 7 0 5 0 11 0 1 0 10 0 9 0 1 0 2 0 3 0 5 0 26 0 8 0 6 0 1 1-111 0 18 0 11 0 4 0 19 0 11 0 16 1-84 0 23 0 19 0 9 0 8 0 13 0 9 0 6 0 6 0 4 0 10 1-90 0 1 0 0 0 6 0 10 0 0 0 19 0 3 0 5 0 2 0 3 0 1 0 2 0 0 0 2 0 0 0 9 0 16 1-93 0 29 0 13 0 26 0 4 0 18 1-86 0 24 0 19 0 19 0 1 0 16 0 22 1-67 0 16 0 8 0 10 0 34 1-92 0 8 0 1 0 4 0 10 0 2 0 11 0 7 0 9 0 5 0 10 0 6 0 3 0 12 0 28 1-68 1-11 0 4 0 8 0 43 0 21 1-115 0 34 0 23 0 2 0 23 0 9 1-42 0 33 0 60 1-121 0 2 0 9 0 5 0 21 0 7 0 1 0 6 0 19 0 12 1-90 0 23 0 20 0 4 0 20 0 3 1-67 0 49 0 29 0 1 0 14 0 9 1-95 0 17 1-16 0 2 0 29 0 6 0 20 1-86 0 10 0 11 0 28 0 11 0 8 0 33 0 6 1-78 0 0 0 5 0 4 0 1 0 17 0 9 0 4 1-66 0 16 0 3 0 12 0 20 0 16 0 14 1-120 0 69 0 26 0 5 0 16 0 12 1-98 0 13 0 6 0 16 0 22 0 3 0 9 0 6 0 7 0 0 0 1 0 1 0 27 1-106 0 18 0 22 0 15 0 12 0 11 0 22 1-119 0 15 0 14 0 21 0 21 0 46 0 45 1-107 0 7 0 9 0 1 0 8 0 15 0 1 0 4 0 0 0 5 1-88 0 9 0 25 0 18 0 4 0 29 1-61 0 2 0 5 0 10 0 59 1-87 0 8 0 7 0 63 0 18 1-130 0 12 0 6 0 10 0 21 0 14 0 12 0 5 0 2 0 0 0 1 0 17 0 1 0 1 0 2 0 5 0 0 1-77 0 40 0 1 0 9 0 42 1-117 0 3 0 95 0 8 1-42 0 10 0 44 1-62 0 6 0 2 0 0 0 8 1-58 0 14 0 47 0 1 0 21 1-51 0 50 0 1 1-57 0 33 0 27 1-49 0 3 0 10 0 6 0 9 0 1 1-30 0 21 0 4 0 19 0 8 1-45 0 6 0 0 0 7 0 8 0 6 0 14 1-61 0 0 0 11 0 8 0 24 0 7 0 37 1-87 0 10 0 28 0 12 0 18 0 20 0 17 0 1 0 10 1-159 0 55 0 4 0 20 1-55 0 54 0 4 0 10 1-39 0 30 0 16 0 2 0 1 1 16 0 15 1-76 0 2 0 39 0 15 1-99 0 27 0 28 0 1 0 18 1-58 0 18 0 57 0 15 1-8 0 4 1-118 0 68 0 16 1-62 0 19 0 19 0 43 1-86 0 54 0 14 1-23 0 6 0 43 1-62 0 3 0 24 1 42 0 2 1-88 0 12 0 29 0 3 1-21 0 19 0 16 0 0 1-62 1-22 1 54 0 19 2-17 1-11 0 6 0 23 1-42 0 14 0 22 0 18 1-30 0 9 0 18 0 13 1-20 1 5 0 13 2-44 0 24 1-32 0 9 1 6 3-4 0 16 0 20 0 48 2-81 0 13 0 9 1-37 1-41 0 90 1-25 0 35 1-53 1-4 0 1 1 44 0 29 2-40 3 0 0 30 1-87 0 42 0 25 4-32 1-29 2 39 2-60 2 50 4-30 2 25 1-16 0 49 0 36 1-42 3-10 4 2 7 45 1-55 0 31 8-67 0 5 2 56" marker-start="url(#pd)" marker-mid="url(#pd)" marker-end="url(#pd)"/>
<path d="M856.75 1217.5V864" stroke="#a8a8a8" stroke-width="5" stroke-dasharray="19.8 9.7"/>
<path d="M659.25 1043L1068 987" stroke="#1d8488" stroke-width="2.7"/>
<path d="M626.8 852.5V1217.5H1088" stroke="#000" stroke-width="2.5" stroke-linejoin="round"/>
<path d="M621.3 916.00H626.8M621.3 958.29H626.8M621.3 1056.50H626.8M621.3 1098.79H626.8M621.3 1197.00H626.8M646.75 1217.5V1222.7M716.75 1217.5V1222.7M786.75 1217.5V1222.7M856.75 1217.5V1222.7M926.75 1217.5V1222.7M996.75 1217.5V1222.7M1066.75 1217.5V1222.7" stroke="#000" stroke-width="2.1"/>
<text x="625.85" y="1262.50" font-size="46.3">-3</text>
<text x="696.01" y="1262.50" font-size="46.3">-2</text>
<text x="769.08" y="1262.50" font-size="46.3">-1</text>
<text x="843.56" y="1262.50" font-size="46.3">0</text>
<text x="915.29" y="1262.50" font-size="46.3">1</text>
<text x="983.58" y="1262.50" font-size="46.3">2</text>
<text x="1053.69" y="1262.50" font-size="46.3">3</text>
<text x="633.06" y="873.00" font-size="46.3">distal APA shift</text>
<text x="633.06" y="912.00" font-size="46.3">control</text>
<text x="637.26" y="1154.25"><tspan font-size="46.3" font-style="italic">r</tspan><tspan font-size="46.3"> = 0.32</tspan></text>
<text x="631.63" y="1201.00"><tspan font-size="46.3">(p &lt; 2.2e</tspan><tspan font-size="29.5" dy="-19.30">-16</tspan><tspan font-size="46.3" dx="2" dy="19.30">)</tspan></text>
<path d="M1204 977l16 44 11-49 1 59 1-63 1 29 2-28 1 29 0 55 2-74 13 52 1-22 1-12 2 30 2-76 1 0 1 73 4-75 0 87 1-102 0 52 3-36 1 63 0 17 2 15 7-87 2 30 0 13 1-24 0 2 0 1 0 23 1-68 0 46 2 43 1-110 1 42 1 26 0 7 3 0 2-48 0 76 0 53 1-61 1-65 0 45 0 7 0 12 1-45 0 12 1-55 0 7 0 92 1-66 1-19 1 110 1-58 0 35 0 1 1 24 1-116 0 139 1-94 0 15 0 25 1-62 0 17 0 14 0 3 0 8 1-43 0 16 0 80 0 1 2-125 0 56 0 7 0 27 1-83 0 36 0 12 0 45 0 29 1-116 0 54 0 45 1-87 1-7 1 60 1-77 0 43 1-41 0 37 0 31 0 15 0 8 1-100 0 53 0 49 1-40 1 11 0 84 1-159 0 88 1-28 0 60 1-117 0 49 0 92 1-134 0 27 0 30 0 24 0 3 1-7 0 23 0 18 1-135 0 35 0 24 0 38 0 1 0 6 0 29 0 4 1-88 0 21 0 7 0 5 0 22 0 37 1-133 0 36 0 5 1-40 0 34 0 17 0 39 0 6 0 17 0 1 1-51 0 21 0 52 1-32 0 4 1-107 0 49 0 37 0 8 0 6 0 1 0 10 0 44 1-134 0 4 0 34 0 38 0 0 1-61 0 15 0 71 0 16 1-98 0 5 0 13 0 36 0 46 1-104 0 16 0 71 0 13 1-90 0 19 0 13 0 5 0 1 0 20 0 70 1-136 0 7 0 5 0 7 0 35 0 5 0 8 1-65 0 6 0 16 0 1 0 31 0 2 0 17 0 15 0 42 1-69 0 8 0 14 1-153 0 53 0 23 0 10 0 6 0 0 0 10 1-70 0 13 0 39 0 35 0 1 0 7 1-70 0 10 0 45 0 20 0 37 1-138 0 14 0 6 0 47 0 12 0 2 0 2 0 9 0 21 0 26 1-79 0 36 0 1 0 9 0 0 0 27 0 11 1-133 0 38 0 18 0 29 0 19 0 15 1-127 0 27 0 27 0 13 0 24 1-73 0 4 0 15 0 18 0 3 0 22 0 3 0 42 0 59 1-194 0 45 0 16 0 25 0 1 0 1 0 2 0 0 0 9 1-79 0 13 0 15 0 15 0 31 0 10 0 7 0 5 0 2 0 44 1-101 0 4 0 12 0 7 0 82 1-152 0 43 0 5 0 7 0 13 0 22 0 1 1-73 0 6 0 45 0 12 0 3 0 27 1-96 0 6 0 13 0 6 0 14 0 16 0 10 0 3 0 13 1-105 0 84 0 0 0 16 0 3 0 5 0 14 0 1 0 10 1-81 0 14 0 4 0 5 0 7 0 16 0 9 0 10 0 13 0 5 0 17 1-112 0 25 0 18 0 5 0 3 0 12 0 9 0 6 0 32 1-83 0 0 0 13 0 7 0 9 0 4 1-79 0 31 0 5 0 18 0 8 0 4 0 8 0 19 0 11 0 16 0 15 1-140 0 3 0 8 0 16 0 8 0 9 0 4 0 6 0 6 0 4 0 1 0 1 0 1 0 7 0 1 0 4 0 0 0 42 1-112 0 12 0 5 0 9 0 1 0 16 0 0 0 7 0 21 0 14 1-95 0 21 0 5 0 3 0 1 0 14 0 11 0 4 0 3 0 7 0 9 0 1 0 4 0 11 0 10 0 3 0 4 0 8 1-100 0 10 0 0 0 17 0 4 0 22 0 3 0 44 0 10 1-70 0 27 0 13 1-68 0 2 0 15 0 39 1-96 0 11 0 12 0 64 0 8 0 1 0 23 1-119 0 38 0 7 0 17 0 10 0 18 0 11 1-78 0 1 0 31 0 1 0 10 0 0 0 3 0 11 0 37 0 19 1-114 0 13 0 6 0 1 0 0 0 31 0 13 0 3 0 21 0 8 0 8 0 2 1-117 0 35 0 2 0 14 0 6 0 6 0 13 0 24 0 0 0 13 0 28 1-137 0 37 0 2 0 2 0 0 0 22 0 0 0 28 0 0 0 7 1-83 0 22 0 0 0 7 0 16 0 3 0 26 0 5 0 15 1-106 0 12 0 3 0 1 0 7 0 8 0 2 0 11 0 11 0 4 0 4 0 4 0 10 0 26 0 7 1-138 0 24 0 17 0 1 0 12 0 5 0 12 0 7 0 18 0 7 0 0 0 16 0 3 0 1 0 20 1-111 0 16 0 9 0 3 0 14 0 0 0 38 0 0 0 5 0 0 0 12 0 41 1-122 0 6 0 0 0 15 0 7 0 5 0 3 0 5 0 4 0 0 0 24 1-76 0 2 0 29 0 8 0 3 0 6 0 15 0 15 0 12 0 22 1-147 0 65 0 2 0 6 0 11 0 1 0 3 0 7 0 27 1-123 0 38 0 9 0 26 0 7 0 14 0 11 0 1 0 19 0 5 0 3 1-112 0 30 0 9 0 28 0 12 0 9 0 7 0 36 1-133 0 8 0 38 0 16 0 4 0 7 0 0 0 12 0 18 0 7 0 5 1-105 0 1 0 6 0 35 0 5 0 9 0 6 0 5 0 0 0 9 0 1 0 9 0 11 0 7 0 25 1-145 0 7 0 8 0 2 0 10 0 24 0 6 0 28 0 47 1-128 0 27 0 8 0 15 0 11 0 8 0 12 0 2 0 7 0 6 0 3 0 3 0 3 0 17 0 42 1-143 0 16 0 21 0 17 0 7 0 7 0 9 0 17 1-71 0 27 0 9 0 9 0 6 0 10 0 20 1-137 0 25 0 3 0 7 0 1 0 28 0 4 0 1 0 6 0 3 0 2 0 2 0 6 0 1 0 2 0 1 0 4 0 14 0 7 0 0 0 9 0 2 0 0 0 1 1-114 0 17 0 3 0 2 0 4 0 5 0 13 0 20 0 18 0 7 0 31 1-122 0 20 0 11 0 12 0 12 0 8 0 25 0 4 0 7 0 7 1-95 0 13 0 18 0 1 0 20 0 1 0 7 0 1 0 4 0 10 0 27 0 28 1-163 0 33 0 2 0 2 0 14 0 1 0 6 0 8 0 15 0 3 0 2 0 2 0 5 0 1 0 12 0 10 0 17 0 9 1-149 0 53 0 5 0 17 0 6 0 11 0 0 0 2 0 6 0 8 0 1 0 11 0 13 0 22 1-92 0 26 0 4 0 2 0 5 0 6 0 10 0 6 0 13 0 1 0 14 0 1 0 22 1-164 0 21 0 10 0 6 0 17 0 3 0 6 0 5 0 1 0 7 0 0 0 5 0 4 0 20 0 8 0 1 0 2 0 1 0 11 1-101 0 4 0 15 0 6 0 9 0 4 0 8 0 13 0 6 1-78 0 9 0 42 0 5 0 8 0 2 0 5 0 3 0 2 0 4 0 7 0 2 1-86 0 2 0 21 0 12 0 11 0 1 0 2 0 1 0 15 0 5 0 4 0 7 0 8 0 3 0 9 0 4 1-124 0 25 0 12 0 14 0 1 0 6 0 6 0 17 0 3 0 1 0 5 0 1 0 9 0 6 0 5 1-138 0 43 0 6 0 41 0 1 0 3 0 1 0 2 0 3 0 9 0 9 0 5 0 0 0 18 1-98 0 10 0 49 0 3 0 2 0 4 0 0 0 7 0 8 0 15 0 3 0 18 0 27 0 8 1-147 0 0 0 9 0 17 0 0 0 7 0 2 0 5 0 2 0 0 0 0 0 2 0 11 0 3 0 1 0 13 1-64 0 4 0 4 0 22 0 4 0 2 0 8 0 2 0 11 0 5 0 1 0 0 0 3 0 19 0 7 0 3 1-137 0 18 0 27 0 7 0 1 0 2 0 1 0 6 0 2 0 1 0 2 0 1 0 4 0 16 0 19 0 3 0 11 0 4 0 0 0 0 0 1 0 10 0 6 0 12 1-100 0 24 0 1 0 3 0 0 0 7 0 8 0 12 0 2 0 9 0 2 0 2 0 2 0 17 0 2 1-119 0 10 0 42 0 4 0 5 0 5 0 9 0 1 0 5 0 1 0 2 0 4 0 5 0 2 0 20 0 6 0 27 1-162 0 4 0 21 0 28 0 18 0 6 0 7 0 1 0 22 0 19 0 20 1-155 0 61 0 21 0 1 0 0 0 10 0 8 0 2 0 9 0 10 0 5 0 2 0 2 0 41 1-187 0 61 0 30 0 2 0 9 0 7 0 18 0 1 0 29 0 8 0 3 0 9 1-147 0 19 0 12 0 9 0 12 0 15 0 2 0 0 0 6 0 4 0 3 0 24 0 54 1-160 0 14 0 21 0 1 0 9 0 5 0 5 0 0 0 9 0 2 0 26 0 38 1-127 0 23 0 3 0 12 0 0 0 11 0 0 0 9 0 3 0 2 0 16 0 12 0 5 0 0 0 0 0 11 1-116 0 81 0 3 0 10 0 5 0 40 0 4 0 4 1-129 0 23 0 8 0 13 0 24 0 1 0 3 0 5 0 17 0 37 1-122 0 6 0 29 0 12 0 55 0 9 0 3 0 27 1-185 0 32 0 33 0 10 0 7 0 6 0 6 0 5 0 2 0 12 0 1 0 6 0 2 0 12 0 6 0 3 0 19 0 2 0 23 1-151 0 37 0 11 0 5 0 4 0 14 0 5 0 0 0 10 0 1 0 4 1-82 0 9 0 1 0 22 0 1 0 6 0 5 0 5 0 10 0 0 0 10 0 2 0 10 0 8 0 7 0 3 1-107 0 10 0 6 0 2 0 30 0 1 0 2 0 6 0 3 0 1 0 8 0 3 0 17 0 7 0 5 0 21 1-110 0 1 0 6 0 14 0 5 0 1 0 4 0 5 0 3 0 2 0 3 0 9 0 7 1-77 0 14 0 5 0 14 0 27 0 4 0 6 0 1 0 12 0 3 0 8 0 3 1-85 0 20 0 26 0 8 0 3 0 2 0 3 0 32 0 10 1-89 0 22 0 12 0 9 0 1 0 0 0 43 0 25 1-134 0 7 0 21 0 10 0 1 0 12 0 10 0 0 0 3 0 1 0 4 0 2 0 1 0 18 0 1 0 10 1-72 0 7 0 6 0 16 0 5 0 5 0 22 0 8 0 8 0 5 0 67 1-163 0 8 0 1 0 1 0 1 0 37 0 8 0 4 0 9 0 1 0 27 1-99 0 14 0 0 0 14 0 11 0 8 0 8 0 7 0 12 0 10 0 3 0 22 0 9 1-145 0 23 0 26 0 4 0 9 0 3 0 10 0 3 0 3 0 2 0 14 0 7 0 5 1-68 0 21 0 0 0 5 0 3 0 28 0 11 0 4 0 19 1-116 0 1 0 14 0 0 0 4 0 12 0 4 0 14 0 7 0 4 0 3 0 20 0 9 0 1 1-82 0 18 0 17 0 4 0 5 0 13 0 13 0 3 0 8 0 5 0 6 1-78 0 28 0 1 0 6 0 1 0 7 0 6 0 5 0 1 0 18 0 16 0 1 0 11 0 2 1-106 0 5 0 19 0 34 0 12 0 3 0 1 1-61 0 2 0 4 0 9 0 0 0 14 0 7 0 2 0 35 0 23 1-143 0 30 0 26 0 1 0 6 0 4 0 7 0 1 0 10 0 5 0 6 0 3 0 8 0 4 0 8 0 6 0 27 0 8 1-158 0 10 0 24 0 11 0 11 0 2 0 81 1-174 0 88 0 6 0 1 0 1 0 8 0 25 0 9 0 4 0 12 0 3 0 7 1-95 0 6 0 1 0 15 0 3 0 8 0 2 0 21 0 4 0 18 0 13 1-105 0 8 0 36 0 27 0 6 0 0 0 15 0 56 1-134 0 38 0 5 0 5 0 6 0 3 0 4 0 1 0 0 0 27 1-90 0 32 0 14 0 14 0 8 0 7 0 35 1-98 0 45 0 12 0 26 0 1 0 21 1-164 0 38 0 7 0 3 0 25 0 4 0 13 0 9 0 14 0 17 0 15 1-80 0 2 0 25 0 10 0 7 0 8 0 7 0 7 0 12 1-118 0 0 0 23 0 6 0 8 0 4 0 2 0 6 0 25 1-28 0 41 0 16 0 18 1-95 0 2 0 12 0 21 0 7 0 14 0 2 0 1 0 1 1-71 0 14 0 13 0 15 0 10 0 0 0 26 0 9 0 17 1-118 0 5 0 5 0 58 0 6 0 30 1-53 0 45 0 4 0 20 1-79 0 25 0 8 0 3 0 13 0 21 1-101 0 17 0 10 0 10 0 11 0 4 0 3 0 26 0 12 0 39 2-115 0 23 0 15 0 31 0 26 0 15 1-126 0 25 0 15 0 1 0 22 0 17 0 30 1-144 0 32 0 9 0 40 0 15 0 5 0 2 0 45 1-113 0 14 0 15 0 2 0 5 0 57 1-129 0 19 0 26 0 11 0 11 0 3 0 4 0 8 0 16 0 19 0 27 1-113 0 34 0 10 0 26 1-89 0 147 1-100 0 8 0 21 0 6 0 14 0 18 0 1 0 37 1-135 0 35 0 73 1-96 0 15 0 16 0 8 0 10 0 11 0 10 0 6 0 6 0 1 0 23 1-97 0 1 0 25 0 2 0 9 0 15 0 38 1-113 0 0 0 36 0 5 0 1 0 15 0 7 0 5 0 3 0 13 0 4 0 11 0 1 1-92 0 36 0 34 0 20 0 20 1-127 0 15 0 11 0 15 0 29 0 12 0 5 0 53 1-161 0 92 0 1 0 22 0 6 0 2 1-113 0 33 0 32 0 17 0 27 1-74 1-13 0 51 0 84 1-93 0 9 0 35 1-80 0 6 0 31 0 8 0 9 0 22 0 36 1-102 0 84 0 62 1-174 0 11 0 52 0 1 0 23 0 32 1-85 0 5 0 33 0 12 1-11 0 44 1-73 0 7 0 39 1-33 0 54 0 2 1-91 0 16 0 30 0 11 1-61 1 20 0 12 0 8 0 25 0 15 1-81 0 10 0 14 0 5 0 2 0 18 0 29 0 62 1-139 0 16 0 34 0 1 0 9 0 48 0 33 1-138 0 10 0 12 0 36 0 10 1-30 0 5 0 23 0 8 1-48 1 60 0 16 2-35 2-36 0 13 0 72 1-90 0 49 0 21 1-76 0 6 0 16 0 34 1-91 0 21 0 22 0 15 0 120 1-123 0 3 0 9 1-69 0 106 0 28 1-79 1-47 0 21 0 34 1-29 0 3 0 25 0 12 0 22 0 2 0 14 1-38 0 10 0 21 1-59 0 64 1-52 0 11 0 18 0 2 0 14 0 31 1-68 0 37 1-91 0 60 0 37 1-158 2 128 0 7 0 17 1-102 0 27 0 74 0 11 1-98 0 5 0 76 1-128 0 68 0 4 0 71 1-84 2-18 0 14 0 44 0 19 0 7 1-43 0 2 0 23 1-51 0 62 1-23 0 40 1-53 0 64 2-38 1-56 0 54 0 10 0 27 1-31 0 17 1-67 0 46 0 6 0 6 1-78 0 17 0 35 1 82 1-95 0 40 0 31 1-66 0 21 2-37 0 27 0 42 1-51 0 38 0 21 1-97 2-36 1 63 0 25 0 16 3-26 0 58 1-35 1-11 0 40 0 25 1-119 1 3 0 14 0 51 0 0 2-21 0 42 1 4 2-50 0 0 0 4 0 24 0 1 0 11 2-57 1 6 0 55 3-95 0 12 0 29 1 14 2-37 2-47 0 99 1-22 0 23 1-42 0 19 2 34 1 8 1 0 3-19 1-35 1 98 1-115 0 65 0 29 2-42 2-20 0 31 0 15 3-13 2 70 5-118 1 17 1 23 0 11 3 1 1-70 5-23 6 75 1-39 0 67 5-30 3-9 1 9 0 12 4 15 11 17 3-66 0 53 2-60 2 68 6-76" marker-start="url(#pd)" marker-mid="url(#pd)" marker-end="url(#pd)"/>
<path d="M1416.25 1212.5V847.5" stroke="#a8a8a8" stroke-width="5" stroke-dasharray="19.8 9.7"/>
<path d="M1215 982.5L1622 1021.25" stroke="#1d8488" stroke-width="2.7"/>
<path d="M1182.5 845V1212.5H1650" stroke="#000" stroke-width="2.5" stroke-linejoin="round"/>
<path d="M1177 908.50H1182.5M1177 951.10H1182.5M1177 1050.00H1182.5M1177 1092.60H1182.5M1177 1191.50H1182.5M1204.45 1212.5V1217.7M1275.05 1212.5V1217.7M1345.65 1212.5V1217.7M1416.25 1212.5V1217.7M1483.85 1212.5V1217.7M1557.45 1212.5V1217.7M1628.05 1212.5V1217.7" stroke="#000" stroke-width="2.1"/>
<text x="1183.25" y="1257.50" font-size="46.3">-3</text>
<text x="1254.01" y="1257.50" font-size="46.3">-2</text>
<text x="1327.68" y="1257.50" font-size="46.3">-1</text>
<text x="1402.76" y="1257.50" font-size="46.3">0</text>
<text x="1475.09" y="1257.50" font-size="46.3">1</text>
<text x="1543.98" y="1257.50" font-size="46.3">2</text>
<text x="1614.69" y="1257.50" font-size="46.3">3</text>
<text x="1187.54" y="861.25" font-size="46.3">proximal APA shift</text>
<text x="1186.20" y="905.75" font-size="46.3">M3KO</text>
<text x="1191.76" y="1150.50"><tspan font-size="46.3" font-style="italic">r</tspan><tspan font-size="46.3"> = -0.14</tspan></text>
<text x="1185.88" y="1196.00"><tspan font-size="46.3">(p &lt; 4.8e</tspan><tspan font-size="29.5" dy="-19.30">-10</tspan><tspan font-size="46.3" dx="2.7" dy="19.30">)</tspan></text>
<text x="1313.88" y="1303.00"><tspan font-size="46.5">log</tspan><tspan font-size="29.5" dy="8.70">2</tspan><tspan font-size="46.5" dy="-8.70">-fold change (SG/total mRNA)</tspan></text>
<text x="1141.99" y="804.30" font-size="46.3" font-weight="bold">e</text>
<path d="M1714 1010l7-36 8-1 2 40 1-66 0 14 1 43 4 23 0 15 2-137 2 16 1 125 10-61 1-64 0 99 1-83 2 0 1 14 0 120 1-118 1 14 2 5 0 3 3-41 0 67 1 11 4-132 0 91 0 35 1-4 0 40 2-36 1-79 0 101 2-58 1-40 1 10 0 17 0 78 1-103 1 0 0 38 1-35 0 59 0 45 0 33 2-65 0 16 1-65 0 13 0 41 0 3 1-65 2 11 0 6 1-5 1-7 0 38 1-25 0 3 1-14 0 58 0 32 2-81 0 36 1-39 0 26 0 6 0 10 1-50 2 29 1 17 0 22 0 1 0 18 1-102 0 38 0 6 0 22 0 16 1-46 0 20 1-46 0 34 0 14 0 3 1-105 0 68 0 0 0 13 0 37 1-56 0 66 1-93 0 2 0 101 1-115 0 75 0 9 1-71 0 25 0 10 0 59 1-74 0 20 1-57 0 29 0 23 1-12 0 11 0 19 0 11 0 42 1-135 0 81 0 16 0 13 0 15 1-115 0 81 0 4 0 7 0 10 0 23 1-115 0 31 0 36 1-2 0 15 0 6 0 24 1-69 1 4 0 23 0 22 1-54 0 3 0 15 0 24 0 8 1-45 0 23 0 8 0 62 1-108 0 27 0 5 0 15 0 2 0 1 0 34 0 2 1-132 0 18 0 32 0 28 0 14 1-58 0 19 0 9 0 13 0 16 0 15 0 18 1-86 0 5 0 1 0 8 0 7 0 2 0 53 1-84 0 13 0 24 0 7 0 3 0 0 0 6 0 13 0 12 0 32 0 31 1-88 0 4 0 11 0 4 0 8 0 3 0 18 1-91 0 11 0 5 0 29 0 40 0 6 1-115 0 10 0 17 0 4 0 8 0 18 0 17 0 2 0 2 0 29 0 4 0 21 1-118 0 25 0 16 0 21 0 3 0 17 1-29 0 14 0 21 1-84 0 16 0 12 0 3 0 16 0 16 1-65 0 4 0 9 0 42 0 15 0 26 1-60 0 2 0 9 0 3 0 6 1-54 0 59 0 15 0 9 1-62 0 21 0 7 0 3 0 4 0 53 0 15 1-148 0 48 0 10 0 2 0 11 0 10 0 3 0 18 0 2 1-70 0 7 0 11 0 4 0 1 0 28 0 5 0 42 0 1 1-131 0 25 0 55 0 1 0 9 0 4 0 5 0 57 1-134 0 7 0 3 0 9 0 37 0 0 1-109 0 68 0 4 0 4 0 18 0 1 0 0 0 4 0 3 0 2 0 22 0 10 1-58 0 28 0 1 0 12 0 2 0 12 0 19 0 16 1-129 0 17 0 17 0 32 0 6 0 16 0 15 0 1 0 2 1-99 0 62 0 6 0 1 0 4 0 8 0 7 0 42 1-41 0 2 0 2 0 5 1-103 0 39 0 5 0 14 0 3 0 6 0 3 0 1 1-64 0 10 0 21 0 8 0 8 0 15 0 30 1-112 0 29 0 5 0 4 0 1 0 2 0 3 0 14 0 18 0 2 0 6 0 1 0 8 0 1 0 5 0 32 1-161 0 17 0 2 0 13 0 16 0 10 0 7 0 36 0 12 0 4 0 6 0 13 1-80 0 3 0 52 0 20 0 18 1-112 0 10 0 10 0 6 0 9 0 2 0 3 0 3 0 15 0 9 1-107 0 33 0 6 0 1 0 56 0 8 0 1 0 3 0 10 0 45 1-104 0 6 0 6 0 2 0 37 0 10 0 1 0 11 0 50 1-124 0 29 0 1 0 6 0 2 0 2 0 0 0 0 0 8 0 22 0 28 0 16 1-130 0 1 0 36 0 5 0 11 0 46 1-89 0 23 0 20 0 4 0 14 0 10 0 15 0 2 0 2 0 33 1-141 0 4 0 13 0 8 0 27 0 0 0 7 0 7 0 5 0 8 0 44 1-104 0 3 0 7 0 24 0 3 0 30 0 26 0 55 1-169 0 29 0 4 0 1 0 14 0 2 0 1 0 6 0 1 0 1 0 2 0 20 0 10 0 1 1-63 0 24 0 5 0 2 0 14 0 13 0 1 0 1 0 35 0 4 0 4 1-90 0 22 0 0 0 14 0 12 0 16 0 2 0 33 1-109 0 18 0 21 0 28 0 19 0 8 1-124 0 13 0 11 0 20 0 7 0 8 0 7 0 4 0 19 0 1 0 11 0 13 1-143 0 42 0 12 0 30 0 1 0 7 0 13 0 0 0 11 0 16 0 4 0 13 0 10 0 34 1-166 0 17 0 15 0 6 0 3 0 13 0 8 0 2 0 4 0 6 0 0 0 10 0 2 0 5 0 80 1-130 0 12 0 23 0 6 0 5 0 63 1-157 0 20 0 7 0 14 0 21 0 56 0 23 1-132 0 22 0 3 0 24 0 11 0 14 0 15 0 1 0 6 0 3 0 6 0 13 0 10 1-119 0 26 0 22 0 0 0 2 0 1 0 0 0 3 0 6 0 59 0 4 0 12 1-141 0 13 0 7 0 7 0 15 0 6 0 40 0 21 0 11 1-86 0 17 0 13 0 10 0 2 0 5 0 2 0 5 0 10 0 8 0 30 1-137 0 14 0 30 0 12 0 2 0 14 0 3 0 8 0 5 0 37 0 6 1-141 0 45 0 18 0 6 0 1 0 16 0 21 0 33 0 3 0 9 1-147 0 27 0 3 0 30 0 5 0 4 0 1 0 5 0 7 0 0 0 8 0 28 0 3 0 7 0 1 0 20 1-116 0 21 0 5 0 0 0 3 0 16 0 2 0 1 0 7 0 12 0 3 0 5 0 16 0 2 1-119 0 9 0 31 0 1 0 0 0 4 0 2 0 13 0 14 0 2 0 16 0 8 0 23 0 0 0 22 1-113 0 16 0 6 0 10 0 8 0 3 0 16 0 1 0 2 0 14 0 15 0 31 1-160 0 5 0 17 0 1 0 14 0 9 0 12 0 10 0 10 0 8 0 3 0 1 0 11 0 1 0 5 0 14 1-126 0 31 0 9 0 9 0 1 0 2 0 12 0 11 0 3 0 4 0 2 0 20 0 9 0 7 0 5 0 2 0 13 1-126 0 30 0 6 0 3 0 3 0 2 0 1 0 1 0 6 0 7 0 13 0 1 0 6 0 1 0 4 0 2 0 4 0 7 0 2 0 8 0 2 0 0 0 10 1-124 0 10 0 28 0 12 0 0 0 5 0 3 0 1 0 2 0 6 0 9 0 6 0 8 0 12 0 2 0 2 0 8 1-114 0 14 0 36 0 4 0 2 0 17 0 6 0 36 0 16 0 58 1-202 0 19 0 21 0 0 0 4 0 9 0 22 0 2 0 1 0 6 0 5 0 21 0 3 0 10 0 30 1-144 0 9 0 12 0 9 0 4 0 2 0 11 0 1 0 6 0 6 0 14 0 5 0 9 0 2 0 1 1-78 0 6 0 3 0 23 0 12 0 1 0 1 0 6 0 7 0 5 0 2 0 0 0 4 0 4 0 13 0 3 0 3 0 27 0 1 0 4 0 36 1-200 0 50 0 5 0 6 0 17 0 1 0 7 0 14 0 3 0 6 0 1 0 16 0 26 0 11 1-106 0 12 0 13 0 4 0 15 0 6 0 2 0 7 0 5 0 7 0 0 0 1 0 34 0 8 1-110 0 26 0 5 0 5 0 5 0 15 0 30 0 13 1-126 0 26 0 3 0 25 0 0 0 20 0 2 0 4 0 2 0 3 0 3 0 0 0 0 1-116 0 35 0 8 0 32 0 8 0 3 0 8 0 8 0 13 0 18 0 7 0 53 1-176 0 11 0 17 0 8 0 4 0 10 0 17 0 3 0 19 0 2 0 7 0 8 0 0 0 6 0 10 0 28 0 20 1-179 0 35 0 2 0 12 0 12 0 2 0 5 0 5 0 14 0 1 0 9 0 5 0 26 0 0 1-116 0 29 0 5 0 11 0 6 0 3 0 5 0 4 0 9 0 4 0 2 0 12 0 2 0 3 0 2 0 15 0 78 1-195 0 23 0 21 0 25 0 3 0 2 0 0 0 3 0 9 0 7 0 0 0 2 0 9 0 2 0 0 0 33 0 19 1-149 0 15 0 9 0 13 0 11 0 7 0 7 0 4 0 3 0 1 0 7 0 1 0 9 0 5 0 12 0 1 0 7 0 18 1-169 0 65 0 4 0 14 0 2 0 19 0 4 0 7 0 4 0 6 0 6 0 3 0 17 0 7 0 1 0 19 1-160 0 35 0 11 0 0 0 6 0 15 0 5 0 6 0 3 0 2 0 1 0 6 0 3 0 1 0 1 0 1 0 14 0 7 0 3 0 3 0 2 0 4 0 8 0 5 1-118 0 14 0 5 0 2 0 5 0 0 0 12 0 11 0 9 0 6 0 13 0 4 0 3 0 14 0 1 0 14 0 8 0 1 1-79 0 12 0 17 0 19 0 2 0 18 1-102 0 8 0 7 0 31 0 0 0 1 0 0 0 12 0 1 0 8 0 8 0 0 0 20 0 14 0 6 0 6 1-108 0 4 0 12 0 6 0 5 0 1 0 15 0 0 0 3 0 1 0 2 0 3 0 0 0 6 0 5 0 5 0 3 0 11 0 20 0 20 1-162 0 20 0 31 0 7 0 11 0 2 0 4 0 2 0 1 0 9 0 0 0 7 0 3 0 5 0 8 0 8 0 3 0 2 0 4 0 10 0 16 0 12 1-101 0 5 0 10 0 3 0 14 0 1 0 8 0 4 0 17 0 3 0 49 1-168 0 12 0 16 0 33 0 5 0 16 0 0 0 2 0 5 0 62 0 3 1-121 0 0 0 5 0 5 0 7 0 3 0 20 0 3 0 5 0 6 0 1 0 17 0 2 0 2 0 2 0 2 0 10 0 17 1-124 0 7 0 9 0 6 0 28 0 4 0 12 0 6 0 4 0 6 0 2 0 3 0 7 0 1 0 6 0 9 0 4 0 41 1-162 0 11 0 21 0 19 0 5 0 4 0 10 0 12 0 6 0 2 0 22 1-105 0 6 0 12 0 11 0 4 0 2 0 6 0 15 0 5 0 4 0 5 0 27 0 8 0 18 1-133 0 20 0 18 0 2 0 8 0 19 0 0 0 4 0 10 0 0 0 4 0 5 0 22 0 3 0 13 1-106 0 8 0 14 0 6 0 15 0 2 0 15 0 1 0 1 0 7 0 0 0 44 1-140 0 16 0 8 0 6 0 23 0 1 0 10 0 4 0 10 0 9 0 10 0 2 0 26 0 16 1-120 0 3 0 18 0 1 0 8 0 1 0 2 0 5 0 9 0 9 0 1 0 3 0 10 0 4 0 11 0 7 0 11 0 3 0 14 0 27 0 6 1-173 0 3 0 7 0 12 0 1 0 14 0 0 0 13 0 5 0 0 0 5 0 14 0 2 0 4 0 1 0 15 0 1 0 1 0 28 0 0 0 2 0 8 0 1 0 31 1-177 0 66 0 7 0 1 0 1 0 5 0 2 0 1 0 5 0 1 0 9 0 6 0 1 0 18 0 10 1-124 0 37 0 10 0 6 0 13 0 2 0 9 0 1 0 2 0 0 0 4 0 0 0 27 0 2 0 10 0 36 1-139 0 2 0 19 0 4 0 12 0 20 0 6 0 4 0 3 0 5 0 12 0 9 0 2 0 6 0 32 1-153 0 33 0 2 0 10 0 24 0 7 0 4 0 8 0 3 0 6 0 1 0 2 0 12 0 46 1-150 0 14 0 7 0 13 0 6 0 4 0 1 0 1 0 0 0 3 0 10 0 5 0 2 0 3 0 7 0 1 0 11 0 0 0 8 0 0 0 37 1-130 0 2 0 3 0 16 0 11 0 10 0 4 0 0 0 1 0 4 0 0 0 3 0 1 0 0 0 5 0 5 0 8 0 1 0 5 0 49 1-168 0 10 0 22 0 7 0 35 0 1 0 3 0 1 0 4 0 23 0 6 0 3 0 5 0 5 0 8 0 7 0 8 0 42 1-146 0 3 0 20 0 0 0 4 0 20 0 8 0 6 0 16 0 6 0 7 0 5 0 5 0 15 1-86 0 6 0 4 0 4 0 1 0 2 0 15 0 0 0 10 0 36 1-132 0 41 0 3 0 2 0 2 0 2 0 3 0 1 0 25 0 1 0 3 0 2 0 5 0 4 0 1 0 15 0 6 0 0 0 8 1-106 0 10 0 30 0 15 0 5 0 0 0 1 0 23 0 38 0 6 1-137 0 24 0 0 0 10 0 3 0 1 0 6 0 2 0 12 0 0 0 1 0 2 0 18 0 3 0 17 0 12 0 3 0 2 0 0 1-93 0 3 0 11 0 12 0 0 0 3 0 1 0 6 0 1 0 5 0 7 0 1 0 10 0 2 0 2 0 6 0 5 0 4 0 0 0 6 0 10 0 12 1-78 0 0 0 7 0 1 0 1 0 1 0 1 0 9 0 1 0 7 0 7 0 3 0 3 0 0 0 17 1-136 0 47 0 1 0 33 0 8 0 0 0 17 0 16 0 2 0 38 0 4 0 14 1-149 0 25 0 40 0 2 0 5 0 25 0 2 1-112 0 33 0 25 0 1 0 3 0 7 0 4 0 26 0 0 0 16 0 13 0 10 0 2 0 20 1-102 0 3 0 4 0 2 0 4 0 10 0 4 0 12 0 5 0 1 0 8 0 20 0 11 1-129 0 34 0 17 0 6 0 1 0 10 0 4 0 1 0 13 0 3 0 4 0 22 0 4 1-123 0 5 0 8 0 1 0 10 0 3 0 4 0 22 0 2 0 6 0 0 0 2 0 1 0 4 0 5 0 10 0 0 0 2 0 5 0 4 0 7 0 5 0 17 0 15 0 3 1-145 0 24 0 5 0 7 0 5 0 13 0 13 0 2 0 2 0 2 0 6 0 2 0 2 0 14 0 2 0 0 0 24 0 7 1-101 0 0 0 46 0 3 0 2 0 6 0 5 0 17 0 8 0 31 0 26 1-142 0 4 0 9 0 3 0 20 0 10 0 0 0 2 0 7 0 27 1-98 0 11 0 2 0 2 0 3 0 1 0 6 0 27 0 5 0 18 0 5 0 1 0 4 0 7 1-98 0 18 0 11 0 12 0 5 0 5 0 0 0 1 0 1 0 3 0 13 0 1 0 7 0 0 0 5 0 1 0 1 0 11 0 29 0 1 0 13 1-123 0 6 0 27 0 6 0 4 0 19 0 9 0 5 0 16 0 0 0 4 0 5 0 4 0 37 1-158 0 0 0 10 0 27 0 7 0 3 0 1 0 3 0 16 0 2 0 19 0 2 0 2 1-91 0 18 0 20 0 2 0 7 0 3 0 7 0 0 0 3 0 0 0 10 0 1 0 5 0 9 0 1 0 13 0 3 0 2 0 12 1-115 0 21 0 31 0 3 0 8 0 0 0 8 0 7 0 8 0 0 0 1 0 7 0 3 0 28 0 19 1-134 0 16 0 2 0 16 0 1 0 12 0 1 0 6 0 6 0 2 0 3 0 4 0 2 0 7 0 8 0 12 0 15 1-103 0 26 0 6 0 6 0 4 0 2 0 10 0 5 0 2 0 1 0 10 0 13 0 12 0 14 1-157 0 13 0 48 0 1 0 6 0 0 0 25 0 12 0 13 0 5 0 4 0 2 0 5 0 25 1-124 0 22 0 13 0 9 0 3 0 0 0 4 0 2 0 8 0 14 0 15 0 13 0 5 1-121 0 6 0 37 0 15 0 3 0 8 0 0 0 3 0 5 0 5 0 5 0 20 0 5 0 20 1-168 0 25 0 34 0 17 0 9 0 18 0 4 0 0 0 5 0 16 0 8 0 16 1-137 0 50 0 2 0 10 0 1 0 16 0 5 0 2 0 11 0 5 0 1 0 6 0 3 0 15 0 5 0 2 0 1 0 5 1-83 0 37 0 0 0 1 0 2 0 8 0 14 0 14 1-126 0 9 0 6 0 26 0 18 0 19 0 2 0 6 0 17 0 41 0 9 1-129 0 2 0 2 0 8 0 17 0 5 0 1 0 3 0 5 0 1 0 13 0 2 0 5 0 9 0 6 0 22 0 7 0 43 1-129 0 28 0 5 0 31 0 21 0 35 1-169 0 26 0 3 0 24 0 13 0 9 0 5 0 3 0 0 0 14 0 18 0 1 0 12 0 19 1-167 0 9 0 73 0 10 0 5 0 3 0 1 0 8 0 10 0 18 0 4 0 16 1-130 0 35 0 9 0 7 0 14 0 9 0 4 0 6 0 4 0 3 0 4 0 1 0 5 0 5 0 34 0 1 1-86 0 20 0 7 0 2 0 15 0 7 0 37 0 17 0 6 1-153 0 4 0 8 0 0 0 5 0 10 0 14 0 3 0 11 0 11 0 4 0 2 0 14 0 5 0 4 0 2 0 7 0 25 0 3 1-138 0 12 0 8 0 3 0 1 0 18 0 1 0 5 0 10 0 3 0 24 0 5 0 15 0 7 0 43 1-131 0 5 0 14 0 1 0 18 0 2 0 2 0 10 0 14 0 5 0 7 0 37 1-154 0 71 0 8 0 2 0 0 0 2 0 1 0 3 0 11 0 1 0 4 0 5 0 7 0 1 0 32 1-155 0 19 0 43 0 1 0 7 0 22 0 3 0 3 0 2 0 14 0 4 0 0 0 4 0 7 0 19 0 52 1-133 0 9 0 1 0 11 0 4 0 8 0 1 0 12 0 7 0 5 0 1 0 9 0 22 1-138 0 21 0 7 0 2 0 6 0 42 0 5 0 10 0 0 0 1 0 38 1-146 0 32 0 19 0 2 0 15 0 13 0 4 0 12 0 8 0 3 0 7 0 44 1-137 0 18 0 21 0 10 0 6 0 3 0 8 0 27 0 1 0 2 0 9 1-100 0 49 0 2 0 16 0 13 0 4 0 11 1-74 0 19 0 6 0 2 0 16 0 32 0 6 1-114 0 33 0 17 0 24 0 9 0 6 0 1 0 42 0 12 1-168 0 65 0 6 0 0 0 8 0 8 0 7 0 2 0 2 0 12 0 4 0 2 0 13 0 5 0 14 0 25 1-118 0 10 0 4 0 11 0 10 0 4 0 0 0 8 0 12 0 0 0 11 0 12 0 3 1-77 0 12 0 4 0 9 0 1 0 9 0 17 0 1 0 1 0 2 0 2 0 9 0 4 0 2 1-90 0 10 0 11 0 13 0 14 0 8 0 43 0 16 1-137 0 24 0 11 0 6 0 1 0 13 0 9 0 0 0 4 0 4 0 1 0 13 0 5 0 1 0 81 1-134 0 27 0 26 0 11 0 5 0 43 1-116 0 16 0 3 0 0 0 2 0 0 0 5 0 6 0 1 0 5 0 6 0 15 0 1 0 2 1-98 0 43 0 6 0 27 0 18 0 4 0 3 0 9 0 8 0 26 1-139 0 12 0 34 0 3 0 3 0 7 0 6 0 38 0 0 0 1 0 12 0 28 1-163 0 24 0 11 0 4 0 13 0 5 0 2 0 21 0 3 0 2 0 2 0 1 0 6 0 3 0 17 0 11 0 7 0 17 0 2 1-156 0 63 0 27 0 7 0 0 0 23 0 18 0 61 1-151 0 8 0 23 0 19 0 9 0 2 0 11 0 29 0 12 1-129 0 44 0 3 0 38 0 63 1-140 0 48 0 1 0 5 0 0 0 7 0 2 0 0 0 14 0 43 1-101 0 13 0 4 0 14 0 12 0 9 0 2 0 3 0 1 0 13 1-78 0 10 0 6 0 4 0 2 0 1 0 12 0 11 0 7 0 11 0 2 0 2 0 33 0 2 0 3 1-128 0 2 0 5 0 16 0 1 0 7 0 7 0 2 0 11 0 17 0 4 0 8 0 20 1-64 0 5 0 0 0 1 0 20 0 0 0 2 0 15 0 2 0 10 0 18 0 35 1-117 0 2 0 19 0 15 0 2 0 22 0 8 0 12 0 17 0 6 0 13 1-131 0 26 0 9 0 0 0 10 0 2 0 7 0 1 0 25 0 20 1-54 0 8 0 27 0 0 0 9 0 4 1-81 0 4 0 1 0 27 0 48 0 14 0 14 0 32 1-168 0 39 0 12 0 5 0 5 0 21 0 57 1-99 1-53 0 63 0 22 0 3 0 1 0 1 0 22 0 2 0 6 1-84 0 45 0 35 0 13 1-102 0 21 0 0 0 4 0 29 0 21 0 14 0 15 1-94 0 20 0 12 0 28 0 27 0 40 1-125 0 12 0 0 0 15 0 18 0 14 0 11 0 9 0 0 0 24 0 17 1-108 0 8 0 21 0 3 0 4 0 1 0 8 0 5 0 5 1-102 0 22 0 25 0 5 0 5 0 3 0 17 1-42 0 6 0 1 0 22 0 21 0 31 1-67 0 14 0 1 0 1 0 23 0 7 0 1 0 1 0 9 0 11 1-87 0 28 0 17 0 5 0 15 0 5 0 13 1-109 0 46 0 0 0 7 0 52 0 27 1-130 0 40 0 28 0 6 0 7 0 4 0 20 0 0 1-106 0 25 0 27 0 3 0 4 0 17 0 1 0 41 0 18 1-133 0 48 0 28 0 31 1-124 0 64 0 9 0 15 0 4 0 4 0 20 0 69 1-88 0 9 0 15 0 1 1-85 0 0 0 37 0 14 0 18 0 2 0 7 1-80 0 1 0 16 0 16 0 29 0 5 0 0 0 4 0 36 0 17 2-139 0 6 0 41 0 7 0 8 0 21 0 4 0 40 0 33 1-171 0 35 0 6 0 1 0 17 0 16 0 27 0 4 0 9 0 4 1-87 0 28 0 14 0 6 0 31 1-80 0 21 0 23 0 5 1-75 0 26 0 36 0 5 0 31 1-34 0 22 0 20 0 6 0 16 0 1 1-100 0 28 0 54 0 7 1-129 0 38 0 18 0 46 1-61 0 5 0 10 0 5 0 1 0 10 0 8 0 53 1-105 0 15 0 1 0 37 1-47 1 11 0 6 1-17 0 5 0 8 0 7 0 47 0 53 1-53 0 6 0 30 1-121 0 20 0 58 1-75 0 33 0 14 0 7 0 1 0 1 0 33 0 1 1-75 0 20 0 11 0 11 1-31 0 22 0 31 0 25 1-97 0 35 0 64 0 20 1-122 0 59 1-34 0 42 0 15 0 36 1-83 0 55 1-55 0 18 0 52 1-58 0 4 0 4 1-54 0 33 1 19 0 8 1 11 0 63 1-68 0 3 0 15 0 31 1-69 0 9 1-26 0 20 0 19 1-25 0 5 2-10 0 24 0 90 1-100 0 8 0 10 0 11 1-97 0 26 0 90 0 4 1-43 1-54 0 16 0 63 0 19 1-50 0 21 0 7 0 32 1-132 0 83 1-19 1-9 1-47 0 82 0 12 1-40 0 5 0 18 0 79 1-118 0 55 1-30 0 30 1-15 0 25 1-35 1-32 0 29 2-59 0 45 0 64 1-57 0 7 0 20 0 7 0 31 1-43 0 31 2-58 0 23 1-14 0 17 1-63 0 8 0 5 1 40 0 58 1-87 1 8 1-26 0 34 0 7 1-16 1 92 2-47 2 29 2-100 1 79 1-42 0 36 2-106 1 23 0 84 2-10 1-19 1 61 2-56 1 21 1-50 1 21 0 16 0 31 0 6 3-41 5-10 1-26 2-20 0 74 1-5 1-23 1 7 9-11 3 7 9-32 1-30 1 80 1-15 1 28 7-49 4-3 3-19" marker-start="url(#pd)" marker-mid="url(#pd)" marker-end="url(#pd)"/>
<path d="M1927.5 1208V851" stroke="#a8a8a8" stroke-width="5" stroke-dasharray="19.8 9.7"/>
<path d="M1717.5 979L2133.75 995.75" stroke="#1d8488" stroke-width="2.7"/>
<path d="M1694.5 841.25V1208H2160" stroke="#000" stroke-width="2.5" stroke-linejoin="round"/>
<path d="M1689 904.00H1694.5M1689 946.60H1694.5M1689 1045.50H1694.5M1689 1088.10H1694.5M1689 1187.00H1694.5M1715.70 1208V1213.2M1786.30 1208V1213.2M1856.90 1208V1213.2M1927.50 1208V1213.2M1998.10 1208V1213.2M2068.70 1208V1213.2M2139.30 1208V1213.2" stroke="#000" stroke-width="2.1"/>
<text x="1694.30" y="1253.00" font-size="46.3">-3</text>
<text x="1765.06" y="1253.00" font-size="46.3">-2</text>
<text x="1838.73" y="1253.00" font-size="46.3">-1</text>
<text x="1913.81" y="1253.00" font-size="46.3">0</text>
<text x="1986.14" y="1253.00" font-size="46.3">1</text>
<text x="2055.03" y="1253.00" font-size="46.3">2</text>
<text x="2125.74" y="1253.00" font-size="46.3">3</text>
<text x="1700.56" y="857.50" font-size="46.3">distal APA shift</text>
<text x="1696.20" y="901.25" font-size="46.3">M3KO</text>
<text x="1708.01" y="1143.75"><tspan font-size="46.3" font-style="italic">r</tspan><tspan font-size="46.3"> = -0.07</tspan></text>
<text x="1702.63" y="1190.50"><tspan font-size="46.3">(p &lt; 7.7e</tspan><tspan font-size="29.5" dy="-19.30">-4</tspan><tspan font-size="46.3" dx="2.75" dy="19.30">)</tspan></text>
</g>
</svg>
</body></html>
